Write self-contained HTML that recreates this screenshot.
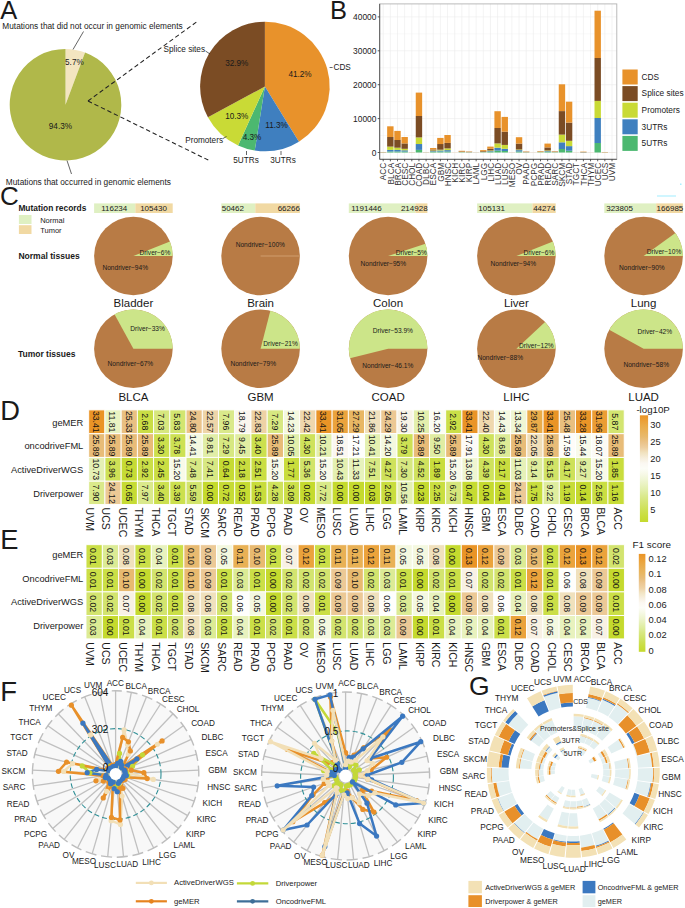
<!DOCTYPE html>
<html><head><meta charset="utf-8"><style>
html,body{margin:0;padding:0;background:#fff;width:685px;height:908px;overflow:hidden;}
svg{display:block;font-family:"Liberation Sans",sans-serif;}
</style></head><body>
<svg width="685" height="908" viewBox="0 0 685 908" font-family="Liberation Sans, sans-serif"><text x="0.2" y="18.8" font-size="25.5" text-anchor="start" dominant-baseline="auto" fill="#1a1a1a">A</text>
<path d="M65.5,104.7 L65.5,48.9 A55.8,55.8 0 0 1 85.06,52.44 Z" fill="#f3e5c0"/>
<path d="M65.5,104.7 L85.06,52.44 A55.8,55.8 0 1 1 65.5,48.9 Z" fill="#b0b84a"/>
<text x="74.4" y="62.8" font-size="8.2" text-anchor="middle" dominant-baseline="central" fill="#1a1a1a">5.7%</text>
<text x="60.4" y="126.5" font-size="8.2" text-anchor="middle" dominant-baseline="central" fill="#1a1a1a">94.3%</text>
<text x="2.3" y="29.4" font-size="8.3" text-anchor="start" dominant-baseline="auto" fill="#1a1a1a">Mutations that did not occur in genomic elements</text>
<text x="5.8" y="185" font-size="8.3" text-anchor="start" dominant-baseline="auto" fill="#1a1a1a">Mutations that occurred in genomic elements</text>
<line x1="83.5" y1="31.5" x2="73" y2="49.5" stroke="#222" stroke-width="0.7"/>
<line x1="67" y1="160.5" x2="71.5" y2="174" stroke="#222" stroke-width="0.7"/>
<line x1="88" y1="101" x2="196.5" y2="22" stroke="#222" stroke-width="1.05" stroke-dasharray="4.4,2.8"/>
<line x1="88" y1="101" x2="208.5" y2="160.2" stroke="#222" stroke-width="1.05" stroke-dasharray="4.4,2.8"/>
<path d="M264.9,86.5 L264.9,21.7 A64.8,64.8 0 0 1 298.93,141.64 Z" fill="#e8922b"/>
<path d="M264.9,86.5 L298.93,141.64 A64.8,64.8 0 0 1 254.76,150.5 Z" fill="#3f7fbf"/>
<path d="M264.9,86.5 L254.76,150.5 A64.8,64.8 0 0 1 238.05,145.47 Z" fill="#4cb870"/>
<path d="M264.9,86.5 L238.05,145.47 A64.8,64.8 0 0 1 207.92,117.36 Z" fill="#c9da36"/>
<path d="M264.9,86.5 L207.92,117.36 A64.8,64.8 0 0 1 264.9,21.7 Z" fill="#7b4c24"/>
<text x="300" y="74.2" font-size="8.2" text-anchor="middle" dominant-baseline="central" fill="#1a1a1a">41.2%</text>
<text x="236.8" y="63.2" font-size="8.2" text-anchor="middle" dominant-baseline="central" fill="#1a1a1a">32.9%</text>
<text x="236.8" y="116.2" font-size="8.2" text-anchor="middle" dominant-baseline="central" fill="#1a1a1a">10.3%</text>
<text x="276.6" y="125.2" font-size="8.2" text-anchor="middle" dominant-baseline="central" fill="#1a1a1a">11.3%</text>
<text x="252" y="137.2" font-size="8.2" text-anchor="middle" dominant-baseline="central" fill="#1a1a1a">4.3%</text>
<text x="333.5" y="67.5" font-size="8.2" text-anchor="start" dominant-baseline="central" fill="#1a1a1a">CDS</text>
<text x="205" y="49.5" font-size="8.2" text-anchor="end" dominant-baseline="central" fill="#1a1a1a">Splice sites</text>
<text x="223" y="140.5" font-size="8.2" text-anchor="end" dominant-baseline="central" fill="#1a1a1a">Promoters</text>
<text x="246" y="160" font-size="8.2" text-anchor="middle" dominant-baseline="central" fill="#1a1a1a">5UTRs</text>
<text x="283" y="160" font-size="8.2" text-anchor="middle" dominant-baseline="central" fill="#1a1a1a">3UTRs</text>
<line x1="329.6" y1="67.5" x2="332.6" y2="67.5" stroke="#222" stroke-width="0.7"/>
<line x1="205.5" y1="51" x2="210" y2="54" stroke="#222" stroke-width="0.7"/>
<line x1="223" y1="138.5" x2="226.5" y2="136.5" stroke="#222" stroke-width="0.7"/>
<line x1="246.5" y1="151" x2="246.5" y2="155" stroke="#222" stroke-width="0.7"/>
<line x1="281" y1="151" x2="281" y2="155" stroke="#222" stroke-width="0.7"/>
<text x="330" y="18.8" font-size="25.5" text-anchor="start" dominant-baseline="auto" fill="#1a1a1a">B</text>
<rect x="379.7" y="3.9" width="237.1" height="155.4" fill="#ffffff"/>
<line x1="379.7" y1="135.55" x2="616.8" y2="135.55" stroke="#f2f2f2" stroke-width="0.5"/>
<line x1="379.7" y1="101.65" x2="616.8" y2="101.65" stroke="#f2f2f2" stroke-width="0.5"/>
<line x1="379.7" y1="67.75" x2="616.8" y2="67.75" stroke="#f2f2f2" stroke-width="0.5"/>
<line x1="379.7" y1="33.85" x2="616.8" y2="33.85" stroke="#f2f2f2" stroke-width="0.5"/>
<line x1="383.2" y1="3.9" x2="383.2" y2="159.3" stroke="#ebebeb" stroke-width="0.6"/>
<line x1="390.35" y1="3.9" x2="390.35" y2="159.3" stroke="#ebebeb" stroke-width="0.6"/>
<line x1="397.5" y1="3.9" x2="397.5" y2="159.3" stroke="#ebebeb" stroke-width="0.6"/>
<line x1="404.65" y1="3.9" x2="404.65" y2="159.3" stroke="#ebebeb" stroke-width="0.6"/>
<line x1="411.8" y1="3.9" x2="411.8" y2="159.3" stroke="#ebebeb" stroke-width="0.6"/>
<line x1="418.95" y1="3.9" x2="418.95" y2="159.3" stroke="#ebebeb" stroke-width="0.6"/>
<line x1="426.1" y1="3.9" x2="426.1" y2="159.3" stroke="#ebebeb" stroke-width="0.6"/>
<line x1="433.25" y1="3.9" x2="433.25" y2="159.3" stroke="#ebebeb" stroke-width="0.6"/>
<line x1="440.4" y1="3.9" x2="440.4" y2="159.3" stroke="#ebebeb" stroke-width="0.6"/>
<line x1="447.55" y1="3.9" x2="447.55" y2="159.3" stroke="#ebebeb" stroke-width="0.6"/>
<line x1="454.7" y1="3.9" x2="454.7" y2="159.3" stroke="#ebebeb" stroke-width="0.6"/>
<line x1="461.85" y1="3.9" x2="461.85" y2="159.3" stroke="#ebebeb" stroke-width="0.6"/>
<line x1="469" y1="3.9" x2="469" y2="159.3" stroke="#ebebeb" stroke-width="0.6"/>
<line x1="476.15" y1="3.9" x2="476.15" y2="159.3" stroke="#ebebeb" stroke-width="0.6"/>
<line x1="483.3" y1="3.9" x2="483.3" y2="159.3" stroke="#ebebeb" stroke-width="0.6"/>
<line x1="490.45" y1="3.9" x2="490.45" y2="159.3" stroke="#ebebeb" stroke-width="0.6"/>
<line x1="497.6" y1="3.9" x2="497.6" y2="159.3" stroke="#ebebeb" stroke-width="0.6"/>
<line x1="504.75" y1="3.9" x2="504.75" y2="159.3" stroke="#ebebeb" stroke-width="0.6"/>
<line x1="511.9" y1="3.9" x2="511.9" y2="159.3" stroke="#ebebeb" stroke-width="0.6"/>
<line x1="519.05" y1="3.9" x2="519.05" y2="159.3" stroke="#ebebeb" stroke-width="0.6"/>
<line x1="526.2" y1="3.9" x2="526.2" y2="159.3" stroke="#ebebeb" stroke-width="0.6"/>
<line x1="533.35" y1="3.9" x2="533.35" y2="159.3" stroke="#ebebeb" stroke-width="0.6"/>
<line x1="540.5" y1="3.9" x2="540.5" y2="159.3" stroke="#ebebeb" stroke-width="0.6"/>
<line x1="547.65" y1="3.9" x2="547.65" y2="159.3" stroke="#ebebeb" stroke-width="0.6"/>
<line x1="554.8" y1="3.9" x2="554.8" y2="159.3" stroke="#ebebeb" stroke-width="0.6"/>
<line x1="561.95" y1="3.9" x2="561.95" y2="159.3" stroke="#ebebeb" stroke-width="0.6"/>
<line x1="569.1" y1="3.9" x2="569.1" y2="159.3" stroke="#ebebeb" stroke-width="0.6"/>
<line x1="576.25" y1="3.9" x2="576.25" y2="159.3" stroke="#ebebeb" stroke-width="0.6"/>
<line x1="583.4" y1="3.9" x2="583.4" y2="159.3" stroke="#ebebeb" stroke-width="0.6"/>
<line x1="590.55" y1="3.9" x2="590.55" y2="159.3" stroke="#ebebeb" stroke-width="0.6"/>
<line x1="597.7" y1="3.9" x2="597.7" y2="159.3" stroke="#ebebeb" stroke-width="0.6"/>
<line x1="604.85" y1="3.9" x2="604.85" y2="159.3" stroke="#ebebeb" stroke-width="0.6"/>
<line x1="612" y1="3.9" x2="612" y2="159.3" stroke="#ebebeb" stroke-width="0.6"/>
<line x1="379.7" y1="152.5" x2="616.8" y2="152.5" stroke="#ebebeb" stroke-width="0.6"/>
<line x1="379.7" y1="118.6" x2="616.8" y2="118.6" stroke="#ebebeb" stroke-width="0.6"/>
<line x1="379.7" y1="84.7" x2="616.8" y2="84.7" stroke="#ebebeb" stroke-width="0.6"/>
<line x1="379.7" y1="50.8" x2="616.8" y2="50.8" stroke="#ebebeb" stroke-width="0.6"/>
<line x1="379.7" y1="16.9" x2="616.8" y2="16.9" stroke="#ebebeb" stroke-width="0.6"/>
<rect x="380" y="152.43" width="6.4" height="0.07" fill="#4cb870"/>
<rect x="380" y="152.36" width="6.4" height="0.07" fill="#3f80bf"/>
<rect x="380" y="152.3" width="6.4" height="0.07" fill="#c9da36"/>
<rect x="380" y="152.16" width="6.4" height="0.14" fill="#7b4c24"/>
<rect x="380" y="151.99" width="6.4" height="0.17" fill="#e8922b"/>
<rect x="387.15" y="151.48" width="6.4" height="1.02" fill="#4cb870"/>
<rect x="387.15" y="149.89" width="6.4" height="1.59" fill="#3f80bf"/>
<rect x="387.15" y="146.6" width="6.4" height="3.29" fill="#c9da36"/>
<rect x="387.15" y="137.01" width="6.4" height="9.59" fill="#7b4c24"/>
<rect x="387.15" y="126.3" width="6.4" height="10.71" fill="#e8922b"/>
<rect x="394.3" y="151.48" width="6.4" height="1.02" fill="#4cb870"/>
<rect x="394.3" y="149.89" width="6.4" height="1.59" fill="#3f80bf"/>
<rect x="394.3" y="147.69" width="6.4" height="2.2" fill="#c9da36"/>
<rect x="394.3" y="139.99" width="6.4" height="7.7" fill="#7b4c24"/>
<rect x="394.3" y="130.91" width="6.4" height="9.09" fill="#e8922b"/>
<rect x="401.45" y="151.48" width="6.4" height="1.02" fill="#4cb870"/>
<rect x="401.45" y="150.3" width="6.4" height="1.19" fill="#3f80bf"/>
<rect x="401.45" y="148.8" width="6.4" height="1.49" fill="#c9da36"/>
<rect x="401.45" y="143.41" width="6.4" height="5.39" fill="#7b4c24"/>
<rect x="401.45" y="137.01" width="6.4" height="6.41" fill="#e8922b"/>
<rect x="408.6" y="152.47" width="6.4" height="0.03" fill="#4cb870"/>
<rect x="408.6" y="152.43" width="6.4" height="0.03" fill="#3f80bf"/>
<rect x="408.6" y="152.4" width="6.4" height="0.03" fill="#c9da36"/>
<rect x="408.6" y="152.33" width="6.4" height="0.07" fill="#7b4c24"/>
<rect x="408.6" y="152.23" width="6.4" height="0.1" fill="#e8922b"/>
<rect x="415.75" y="149.89" width="6.4" height="2.61" fill="#4cb870"/>
<rect x="415.75" y="144.03" width="6.4" height="5.86" fill="#3f80bf"/>
<rect x="415.75" y="137.41" width="6.4" height="6.61" fill="#c9da36"/>
<rect x="415.75" y="115.99" width="6.4" height="21.42" fill="#7b4c24"/>
<rect x="415.75" y="92.6" width="6.4" height="23.39" fill="#e8922b"/>
<rect x="422.9" y="152.47" width="6.4" height="0.03" fill="#4cb870"/>
<rect x="422.9" y="152.43" width="6.4" height="0.03" fill="#3f80bf"/>
<rect x="422.9" y="152.4" width="6.4" height="0.03" fill="#c9da36"/>
<rect x="422.9" y="152.33" width="6.4" height="0.07" fill="#7b4c24"/>
<rect x="422.9" y="152.23" width="6.4" height="0.1" fill="#e8922b"/>
<rect x="430.05" y="151.82" width="6.4" height="0.68" fill="#4cb870"/>
<rect x="430.05" y="151.14" width="6.4" height="0.68" fill="#3f80bf"/>
<rect x="430.05" y="150.47" width="6.4" height="0.68" fill="#c9da36"/>
<rect x="430.05" y="149.52" width="6.4" height="0.95" fill="#7b4c24"/>
<rect x="430.05" y="147.99" width="6.4" height="1.53" fill="#e8922b"/>
<rect x="437.2" y="151.48" width="6.4" height="1.02" fill="#4cb870"/>
<rect x="437.2" y="150.47" width="6.4" height="1.02" fill="#3f80bf"/>
<rect x="437.2" y="149.69" width="6.4" height="0.78" fill="#c9da36"/>
<rect x="437.2" y="144.03" width="6.4" height="5.66" fill="#7b4c24"/>
<rect x="437.2" y="137.92" width="6.4" height="6.1" fill="#e8922b"/>
<rect x="444.35" y="151.48" width="6.4" height="1.02" fill="#4cb870"/>
<rect x="444.35" y="150.13" width="6.4" height="1.36" fill="#3f80bf"/>
<rect x="444.35" y="148.4" width="6.4" height="1.73" fill="#c9da36"/>
<rect x="444.35" y="142.91" width="6.4" height="5.49" fill="#7b4c24"/>
<rect x="444.35" y="135.01" width="6.4" height="7.9" fill="#e8922b"/>
<rect x="451.5" y="152.4" width="6.4" height="0.1" fill="#e8922b"/>
<rect x="458.65" y="152.33" width="6.4" height="0.17" fill="#4cb870"/>
<rect x="458.65" y="152.16" width="6.4" height="0.17" fill="#3f80bf"/>
<rect x="458.65" y="151.99" width="6.4" height="0.17" fill="#c9da36"/>
<rect x="458.65" y="151.48" width="6.4" height="0.51" fill="#7b4c24"/>
<rect x="458.65" y="150.81" width="6.4" height="0.68" fill="#e8922b"/>
<rect x="465.8" y="152.4" width="6.4" height="0.1" fill="#4cb870"/>
<rect x="465.8" y="152.3" width="6.4" height="0.1" fill="#3f80bf"/>
<rect x="465.8" y="152.16" width="6.4" height="0.14" fill="#c9da36"/>
<rect x="465.8" y="151.82" width="6.4" height="0.34" fill="#7b4c24"/>
<rect x="465.8" y="151.48" width="6.4" height="0.34" fill="#e8922b"/>
<rect x="472.95" y="152.48" width="6.4" height="0.02" fill="#4cb870"/>
<rect x="472.95" y="152.47" width="6.4" height="0.02" fill="#3f80bf"/>
<rect x="472.95" y="152.45" width="6.4" height="0.02" fill="#c9da36"/>
<rect x="472.95" y="152.4" width="6.4" height="0.05" fill="#7b4c24"/>
<rect x="472.95" y="152.33" width="6.4" height="0.07" fill="#e8922b"/>
<rect x="480.1" y="152.33" width="6.4" height="0.17" fill="#4cb870"/>
<rect x="480.1" y="152.16" width="6.4" height="0.17" fill="#3f80bf"/>
<rect x="480.1" y="151.82" width="6.4" height="0.34" fill="#c9da36"/>
<rect x="480.1" y="151.14" width="6.4" height="0.68" fill="#7b4c24"/>
<rect x="480.1" y="150.13" width="6.4" height="1.02" fill="#e8922b"/>
<rect x="487.25" y="151.82" width="6.4" height="0.68" fill="#4cb870"/>
<rect x="487.25" y="151.14" width="6.4" height="0.68" fill="#3f80bf"/>
<rect x="487.25" y="150.47" width="6.4" height="0.68" fill="#c9da36"/>
<rect x="487.25" y="148.8" width="6.4" height="1.66" fill="#7b4c24"/>
<rect x="487.25" y="146.6" width="6.4" height="2.2" fill="#e8922b"/>
<rect x="494.4" y="150.6" width="6.4" height="1.9" fill="#4cb870"/>
<rect x="494.4" y="147.69" width="6.4" height="2.92" fill="#3f80bf"/>
<rect x="494.4" y="143.41" width="6.4" height="4.27" fill="#c9da36"/>
<rect x="494.4" y="127.99" width="6.4" height="15.42" fill="#7b4c24"/>
<rect x="494.4" y="111.21" width="6.4" height="16.78" fill="#e8922b"/>
<rect x="501.55" y="151.01" width="6.4" height="1.49" fill="#4cb870"/>
<rect x="501.55" y="148.8" width="6.4" height="2.2" fill="#3f80bf"/>
<rect x="501.55" y="144.91" width="6.4" height="3.9" fill="#c9da36"/>
<rect x="501.55" y="131.69" width="6.4" height="13.22" fill="#7b4c24"/>
<rect x="501.55" y="116.91" width="6.4" height="14.78" fill="#e8922b"/>
<rect x="508.7" y="152.43" width="6.4" height="0.07" fill="#7b4c24"/>
<rect x="508.7" y="152.36" width="6.4" height="0.07" fill="#e8922b"/>
<rect x="515.85" y="151.48" width="6.4" height="1.02" fill="#4cb870"/>
<rect x="515.85" y="150.13" width="6.4" height="1.36" fill="#3f80bf"/>
<rect x="515.85" y="149.48" width="6.4" height="0.64" fill="#c9da36"/>
<rect x="515.85" y="143.58" width="6.4" height="5.9" fill="#7b4c24"/>
<rect x="515.85" y="137.21" width="6.4" height="6.37" fill="#e8922b"/>
<rect x="523" y="152.4" width="6.4" height="0.1" fill="#4cb870"/>
<rect x="523" y="152.3" width="6.4" height="0.1" fill="#3f80bf"/>
<rect x="523" y="152.16" width="6.4" height="0.14" fill="#c9da36"/>
<rect x="523" y="151.82" width="6.4" height="0.34" fill="#7b4c24"/>
<rect x="523" y="151.48" width="6.4" height="0.34" fill="#e8922b"/>
<rect x="530.15" y="152.47" width="6.4" height="0.03" fill="#7b4c24"/>
<rect x="530.15" y="152.4" width="6.4" height="0.07" fill="#e8922b"/>
<rect x="537.3" y="152.36" width="6.4" height="0.14" fill="#4cb870"/>
<rect x="537.3" y="152.23" width="6.4" height="0.14" fill="#3f80bf"/>
<rect x="537.3" y="151.99" width="6.4" height="0.24" fill="#c9da36"/>
<rect x="537.3" y="151.65" width="6.4" height="0.34" fill="#7b4c24"/>
<rect x="537.3" y="151.14" width="6.4" height="0.51" fill="#e8922b"/>
<rect x="544.45" y="151.82" width="6.4" height="0.68" fill="#4cb870"/>
<rect x="544.45" y="151.14" width="6.4" height="0.68" fill="#3f80bf"/>
<rect x="544.45" y="150.47" width="6.4" height="0.68" fill="#c9da36"/>
<rect x="544.45" y="147.41" width="6.4" height="3.05" fill="#7b4c24"/>
<rect x="544.45" y="143.58" width="6.4" height="3.83" fill="#e8922b"/>
<rect x="551.6" y="152.36" width="6.4" height="0.14" fill="#4cb870"/>
<rect x="551.6" y="152.23" width="6.4" height="0.14" fill="#3f80bf"/>
<rect x="551.6" y="152.06" width="6.4" height="0.17" fill="#c9da36"/>
<rect x="551.6" y="151.65" width="6.4" height="0.41" fill="#7b4c24"/>
<rect x="551.6" y="151.31" width="6.4" height="0.34" fill="#e8922b"/>
<rect x="558.75" y="149.01" width="6.4" height="3.49" fill="#4cb870"/>
<rect x="558.75" y="142.33" width="6.4" height="6.68" fill="#3f80bf"/>
<rect x="558.75" y="134.6" width="6.4" height="7.73" fill="#c9da36"/>
<rect x="558.75" y="111.1" width="6.4" height="23.5" fill="#7b4c24"/>
<rect x="558.75" y="84.3" width="6.4" height="26.8" fill="#e8922b"/>
<rect x="565.9" y="150.7" width="6.4" height="1.8" fill="#4cb870"/>
<rect x="565.9" y="146.13" width="6.4" height="4.58" fill="#3f80bf"/>
<rect x="565.9" y="140.8" width="6.4" height="5.32" fill="#c9da36"/>
<rect x="565.9" y="122.61" width="6.4" height="18.19" fill="#7b4c24"/>
<rect x="565.9" y="101.68" width="6.4" height="20.93" fill="#e8922b"/>
<rect x="573.05" y="152.47" width="6.4" height="0.03" fill="#7b4c24"/>
<rect x="573.05" y="152.4" width="6.4" height="0.07" fill="#e8922b"/>
<rect x="580.2" y="152.43" width="6.4" height="0.07" fill="#4cb870"/>
<rect x="580.2" y="152.36" width="6.4" height="0.07" fill="#3f80bf"/>
<rect x="580.2" y="152.3" width="6.4" height="0.07" fill="#c9da36"/>
<rect x="580.2" y="151.99" width="6.4" height="0.31" fill="#7b4c24"/>
<rect x="580.2" y="151.65" width="6.4" height="0.34" fill="#e8922b"/>
<rect x="587.35" y="152.47" width="6.4" height="0.03" fill="#7b4c24"/>
<rect x="587.35" y="152.4" width="6.4" height="0.07" fill="#e8922b"/>
<rect x="594.5" y="143.01" width="6.4" height="9.49" fill="#4cb870"/>
<rect x="594.5" y="118" width="6.4" height="25.01" fill="#3f80bf"/>
<rect x="594.5" y="100.9" width="6.4" height="17.1" fill="#c9da36"/>
<rect x="594.5" y="58" width="6.4" height="42.9" fill="#7b4c24"/>
<rect x="594.5" y="10.7" width="6.4" height="47.3" fill="#e8922b"/>
<rect x="601.65" y="152.47" width="6.4" height="0.03" fill="#4cb870"/>
<rect x="601.65" y="152.43" width="6.4" height="0.03" fill="#3f80bf"/>
<rect x="601.65" y="152.36" width="6.4" height="0.07" fill="#c9da36"/>
<rect x="601.65" y="152.23" width="6.4" height="0.14" fill="#7b4c24"/>
<rect x="601.65" y="151.99" width="6.4" height="0.24" fill="#e8922b"/>
<rect x="608.8" y="152.47" width="6.4" height="0.03" fill="#7b4c24"/>
<rect x="608.8" y="152.43" width="6.4" height="0.03" fill="#e8922b"/>
<rect x="379.7" y="3.9" width="237.1" height="155.4" fill="none" stroke="#b3b3b3" stroke-width="0.9"/>
<line x1="379.7" y1="3.9" x2="379.7" y2="159.3" stroke="#4d4d4d" stroke-width="0.9"/>
<line x1="379.7" y1="159.3" x2="616.8" y2="159.3" stroke="#4d4d4d" stroke-width="0.9"/>
<line x1="377.7" y1="152.5" x2="379.7" y2="152.5" stroke="#333" stroke-width="0.8"/>
<text x="376.4" y="152.8" font-size="8.4" text-anchor="end" dominant-baseline="central" fill="#222">0</text>
<line x1="377.7" y1="118.6" x2="379.7" y2="118.6" stroke="#333" stroke-width="0.8"/>
<text x="376.4" y="118.9" font-size="8.4" text-anchor="end" dominant-baseline="central" fill="#222">10000</text>
<line x1="377.7" y1="84.7" x2="379.7" y2="84.7" stroke="#333" stroke-width="0.8"/>
<text x="376.4" y="85" font-size="8.4" text-anchor="end" dominant-baseline="central" fill="#222">20000</text>
<line x1="377.7" y1="50.8" x2="379.7" y2="50.8" stroke="#333" stroke-width="0.8"/>
<text x="376.4" y="51.1" font-size="8.4" text-anchor="end" dominant-baseline="central" fill="#222">30000</text>
<line x1="377.7" y1="16.9" x2="379.7" y2="16.9" stroke="#333" stroke-width="0.8"/>
<text x="376.4" y="17.2" font-size="8.4" text-anchor="end" dominant-baseline="central" fill="#222">40000</text>
<line x1="383.2" y1="159.3" x2="383.2" y2="161.3" stroke="#333" stroke-width="0.8"/>
<text transform="translate(383.4,162.8) rotate(-90)" font-size="8.3" text-anchor="end" dominant-baseline="central" fill="#333">ACC</text>
<line x1="390.35" y1="159.3" x2="390.35" y2="161.3" stroke="#333" stroke-width="0.8"/>
<text transform="translate(390.55,162.8) rotate(-90)" font-size="8.3" text-anchor="end" dominant-baseline="central" fill="#333">BLCA</text>
<line x1="397.5" y1="159.3" x2="397.5" y2="161.3" stroke="#333" stroke-width="0.8"/>
<text transform="translate(397.7,162.8) rotate(-90)" font-size="8.3" text-anchor="end" dominant-baseline="central" fill="#333">BRCA</text>
<line x1="404.65" y1="159.3" x2="404.65" y2="161.3" stroke="#333" stroke-width="0.8"/>
<text transform="translate(404.85,162.8) rotate(-90)" font-size="8.3" text-anchor="end" dominant-baseline="central" fill="#333">CESC</text>
<line x1="411.8" y1="159.3" x2="411.8" y2="161.3" stroke="#333" stroke-width="0.8"/>
<text transform="translate(412,162.8) rotate(-90)" font-size="8.3" text-anchor="end" dominant-baseline="central" fill="#333">CHOL</text>
<line x1="418.95" y1="159.3" x2="418.95" y2="161.3" stroke="#333" stroke-width="0.8"/>
<text transform="translate(419.15,162.8) rotate(-90)" font-size="8.3" text-anchor="end" dominant-baseline="central" fill="#333">COAD</text>
<line x1="426.1" y1="159.3" x2="426.1" y2="161.3" stroke="#333" stroke-width="0.8"/>
<text transform="translate(426.3,162.8) rotate(-90)" font-size="8.3" text-anchor="end" dominant-baseline="central" fill="#333">DLBC</text>
<line x1="433.25" y1="159.3" x2="433.25" y2="161.3" stroke="#333" stroke-width="0.8"/>
<text transform="translate(433.45,162.8) rotate(-90)" font-size="8.3" text-anchor="end" dominant-baseline="central" fill="#333">ESCA</text>
<line x1="440.4" y1="159.3" x2="440.4" y2="161.3" stroke="#333" stroke-width="0.8"/>
<text transform="translate(440.6,162.8) rotate(-90)" font-size="8.3" text-anchor="end" dominant-baseline="central" fill="#333">GBM</text>
<line x1="447.55" y1="159.3" x2="447.55" y2="161.3" stroke="#333" stroke-width="0.8"/>
<text transform="translate(447.75,162.8) rotate(-90)" font-size="8.3" text-anchor="end" dominant-baseline="central" fill="#333">HNSC</text>
<line x1="454.7" y1="159.3" x2="454.7" y2="161.3" stroke="#333" stroke-width="0.8"/>
<text transform="translate(454.9,162.8) rotate(-90)" font-size="8.3" text-anchor="end" dominant-baseline="central" fill="#333">KICH</text>
<line x1="461.85" y1="159.3" x2="461.85" y2="161.3" stroke="#333" stroke-width="0.8"/>
<text transform="translate(462.05,162.8) rotate(-90)" font-size="8.3" text-anchor="end" dominant-baseline="central" fill="#333">KIRC</text>
<line x1="469" y1="159.3" x2="469" y2="161.3" stroke="#333" stroke-width="0.8"/>
<text transform="translate(469.2,162.8) rotate(-90)" font-size="8.3" text-anchor="end" dominant-baseline="central" fill="#333">KIRP</text>
<line x1="476.15" y1="159.3" x2="476.15" y2="161.3" stroke="#333" stroke-width="0.8"/>
<text transform="translate(476.35,162.8) rotate(-90)" font-size="8.3" text-anchor="end" dominant-baseline="central" fill="#333">LAML</text>
<line x1="483.3" y1="159.3" x2="483.3" y2="161.3" stroke="#333" stroke-width="0.8"/>
<text transform="translate(483.5,162.8) rotate(-90)" font-size="8.3" text-anchor="end" dominant-baseline="central" fill="#333">LGG</text>
<line x1="490.45" y1="159.3" x2="490.45" y2="161.3" stroke="#333" stroke-width="0.8"/>
<text transform="translate(490.65,162.8) rotate(-90)" font-size="8.3" text-anchor="end" dominant-baseline="central" fill="#333">LIHC</text>
<line x1="497.6" y1="159.3" x2="497.6" y2="161.3" stroke="#333" stroke-width="0.8"/>
<text transform="translate(497.8,162.8) rotate(-90)" font-size="8.3" text-anchor="end" dominant-baseline="central" fill="#333">LUAD</text>
<line x1="504.75" y1="159.3" x2="504.75" y2="161.3" stroke="#333" stroke-width="0.8"/>
<text transform="translate(504.95,162.8) rotate(-90)" font-size="8.3" text-anchor="end" dominant-baseline="central" fill="#333">LUSC</text>
<line x1="511.9" y1="159.3" x2="511.9" y2="161.3" stroke="#333" stroke-width="0.8"/>
<text transform="translate(512.1,162.8) rotate(-90)" font-size="8.3" text-anchor="end" dominant-baseline="central" fill="#333">MESO</text>
<line x1="519.05" y1="159.3" x2="519.05" y2="161.3" stroke="#333" stroke-width="0.8"/>
<text transform="translate(519.25,162.8) rotate(-90)" font-size="8.3" text-anchor="end" dominant-baseline="central" fill="#333">OV</text>
<line x1="526.2" y1="159.3" x2="526.2" y2="161.3" stroke="#333" stroke-width="0.8"/>
<text transform="translate(526.4,162.8) rotate(-90)" font-size="8.3" text-anchor="end" dominant-baseline="central" fill="#333">PAAD</text>
<line x1="533.35" y1="159.3" x2="533.35" y2="161.3" stroke="#333" stroke-width="0.8"/>
<text transform="translate(533.55,162.8) rotate(-90)" font-size="8.3" text-anchor="end" dominant-baseline="central" fill="#333">PCPG</text>
<line x1="540.5" y1="159.3" x2="540.5" y2="161.3" stroke="#333" stroke-width="0.8"/>
<text transform="translate(540.7,162.8) rotate(-90)" font-size="8.3" text-anchor="end" dominant-baseline="central" fill="#333">PRAD</text>
<line x1="547.65" y1="159.3" x2="547.65" y2="161.3" stroke="#333" stroke-width="0.8"/>
<text transform="translate(547.85,162.8) rotate(-90)" font-size="8.3" text-anchor="end" dominant-baseline="central" fill="#333">READ</text>
<line x1="554.8" y1="159.3" x2="554.8" y2="161.3" stroke="#333" stroke-width="0.8"/>
<text transform="translate(555,162.8) rotate(-90)" font-size="8.3" text-anchor="end" dominant-baseline="central" fill="#333">SARC</text>
<line x1="561.95" y1="159.3" x2="561.95" y2="161.3" stroke="#333" stroke-width="0.8"/>
<text transform="translate(562.15,162.8) rotate(-90)" font-size="8.3" text-anchor="end" dominant-baseline="central" fill="#333">SKCM</text>
<line x1="569.1" y1="159.3" x2="569.1" y2="161.3" stroke="#333" stroke-width="0.8"/>
<text transform="translate(569.3,162.8) rotate(-90)" font-size="8.3" text-anchor="end" dominant-baseline="central" fill="#333">STAD</text>
<line x1="576.25" y1="159.3" x2="576.25" y2="161.3" stroke="#333" stroke-width="0.8"/>
<text transform="translate(576.45,162.8) rotate(-90)" font-size="8.3" text-anchor="end" dominant-baseline="central" fill="#333">TGCT</text>
<line x1="583.4" y1="159.3" x2="583.4" y2="161.3" stroke="#333" stroke-width="0.8"/>
<text transform="translate(583.6,162.8) rotate(-90)" font-size="8.3" text-anchor="end" dominant-baseline="central" fill="#333">THCA</text>
<line x1="590.55" y1="159.3" x2="590.55" y2="161.3" stroke="#333" stroke-width="0.8"/>
<text transform="translate(590.75,162.8) rotate(-90)" font-size="8.3" text-anchor="end" dominant-baseline="central" fill="#333">THYM</text>
<line x1="597.7" y1="159.3" x2="597.7" y2="161.3" stroke="#333" stroke-width="0.8"/>
<text transform="translate(597.9,162.8) rotate(-90)" font-size="8.3" text-anchor="end" dominant-baseline="central" fill="#333">UCEC</text>
<line x1="604.85" y1="159.3" x2="604.85" y2="161.3" stroke="#333" stroke-width="0.8"/>
<text transform="translate(605.05,162.8) rotate(-90)" font-size="8.3" text-anchor="end" dominant-baseline="central" fill="#333">UCS</text>
<line x1="612" y1="159.3" x2="612" y2="161.3" stroke="#333" stroke-width="0.8"/>
<text transform="translate(612.2,162.8) rotate(-90)" font-size="8.3" text-anchor="end" dominant-baseline="central" fill="#333">UVM</text>
<rect x="622.4" y="69.5" width="15.3" height="15" fill="#e8922b"/>
<text x="641.6" y="76.7" font-size="8.3" text-anchor="start" dominant-baseline="central" fill="#1a1a1a">CDS</text>
<rect x="622.4" y="86.1" width="15.3" height="15" fill="#7b4c24"/>
<text x="641.6" y="93.3" font-size="8.3" text-anchor="start" dominant-baseline="central" fill="#1a1a1a">Splice sites</text>
<rect x="622.4" y="102.7" width="15.3" height="15" fill="#c9da36"/>
<text x="641.6" y="109.9" font-size="8.3" text-anchor="start" dominant-baseline="central" fill="#1a1a1a">Promoters</text>
<rect x="622.4" y="119.3" width="15.3" height="15" fill="#3f80bf"/>
<text x="641.6" y="126.5" font-size="8.3" text-anchor="start" dominant-baseline="central" fill="#1a1a1a">3UTRs</text>
<rect x="622.4" y="135.9" width="15.3" height="15" fill="#4cb870"/>
<text x="641.6" y="143.1" font-size="8.3" text-anchor="start" dominant-baseline="central" fill="#1a1a1a">5UTRs</text>
<text x="0" y="204.9" font-size="26" text-anchor="start" dominant-baseline="auto" fill="#1a1a1a">C</text>
<text x="18.4" y="207.8" font-size="8.4" text-anchor="start" dominant-baseline="central" fill="#1a1a1a" font-weight="bold">Mutation records</text>
<rect x="18.9" y="215" width="12.6" height="9" fill="#dff0c2"/>
<rect x="18.9" y="225.2" width="12.6" height="8.8" fill="#f1d9a3"/>
<text x="40.2" y="220" font-size="7.5" text-anchor="start" dominant-baseline="central" fill="#1a1a1a">Normal</text>
<text x="40.2" y="230" font-size="7.5" text-anchor="start" dominant-baseline="central" fill="#1a1a1a">Tumor</text>
<text x="18.4" y="256.3" font-size="8.55" text-anchor="start" dominant-baseline="central" fill="#1a1a1a" font-weight="bold">Normal tissues</text>
<text x="17.9" y="353.7" font-size="8.5" text-anchor="start" dominant-baseline="central" fill="#1a1a1a" font-weight="bold">Tumor tissues</text>
<rect x="94.1" y="203.4" width="41.22" height="9.6" fill="#dff0c2"/>
<rect x="135.32" y="203.4" width="37.38" height="9.6" fill="#f1d9a3"/>
<text x="114.2" y="208.4" font-size="8" text-anchor="middle" dominant-baseline="central" fill="#1a1a1a">116234</text>
<text x="153.5" y="208.4" font-size="8" text-anchor="middle" dominant-baseline="central" fill="#1a1a1a">105430</text>
<circle cx="133.4" cy="256" r="39.3" fill="#b87b45"/>
<path d="M133.4,256 L169.94,241.53 A39.3,39.3 0 0 1 172.7,256 Z" fill="#cce589"/>
<circle cx="133.4" cy="348.8" r="39.3" fill="#b87b45"/>
<path d="M133.4,348.8 L114.47,314.36 A39.3,39.3 0 0 1 172.7,348.8 Z" fill="#cce589"/>
<text x="133.4" y="302.8" font-size="11.5" text-anchor="middle" dominant-baseline="central" fill="#1a1a1a">Bladder</text>
<text x="133.4" y="397.3" font-size="11.5" text-anchor="middle" dominant-baseline="central" fill="#1a1a1a">BLCA</text>
<rect x="221.3" y="203.4" width="33.98" height="9.6" fill="#dff0c2"/>
<rect x="255.28" y="203.4" width="44.62" height="9.6" fill="#f1d9a3"/>
<text x="221.7" y="208.4" font-size="8" text-anchor="start" dominant-baseline="central" fill="#1a1a1a">50462</text>
<text x="299.9" y="208.4" font-size="8" text-anchor="end" dominant-baseline="central" fill="#1a1a1a">66266</text>
<circle cx="260.6" cy="256" r="39.3" fill="#b87b45"/>
<circle cx="260.6" cy="348.8" r="39.3" fill="#b87b45"/>
<path d="M260.6,348.8 L270.37,310.73 A39.3,39.3 0 0 1 299.9,348.8 Z" fill="#cce589"/>
<text x="260.6" y="302.8" font-size="11.5" text-anchor="middle" dominant-baseline="central" fill="#1a1a1a">Brain</text>
<text x="260.6" y="397.3" font-size="11.5" text-anchor="middle" dominant-baseline="central" fill="#1a1a1a">GBM</text>
<rect x="348.8" y="203.4" width="66.59" height="9.6" fill="#dff0c2"/>
<rect x="415.39" y="203.4" width="12.01" height="9.6" fill="#f1d9a3"/>
<text x="351.2" y="208.4" font-size="8" text-anchor="start" dominant-baseline="central" fill="#1a1a1a">1191446</text>
<text x="427.6" y="208.4" font-size="8" text-anchor="end" dominant-baseline="central" fill="#1a1a1a">214928</text>
<circle cx="388.1" cy="256" r="39.3" fill="#b87b45"/>
<path d="M388.1,256 L425.48,243.86 A39.3,39.3 0 0 1 427.4,256 Z" fill="#cce589"/>
<circle cx="388.1" cy="348.8" r="39.3" fill="#b87b45"/>
<path d="M388.1,348.8 L349.97,358.33 A39.3,39.3 0 1 1 427.4,348.8 Z" fill="#cce589"/>
<text x="388.1" y="302.8" font-size="11.5" text-anchor="middle" dominant-baseline="central" fill="#1a1a1a">Colon</text>
<text x="388.1" y="397.3" font-size="11.5" text-anchor="middle" dominant-baseline="central" fill="#1a1a1a">COAD</text>
<rect x="477.1" y="203.4" width="55.31" height="9.6" fill="#dff0c2"/>
<rect x="532.41" y="203.4" width="23.29" height="9.6" fill="#f1d9a3"/>
<text x="478.3" y="208.4" font-size="8" text-anchor="start" dominant-baseline="central" fill="#1a1a1a">105131</text>
<text x="555.4" y="208.4" font-size="8" text-anchor="end" dominant-baseline="central" fill="#1a1a1a">44274</text>
<circle cx="516.4" cy="256" r="39.3" fill="#b87b45"/>
<path d="M516.4,256 L552.94,241.53 A39.3,39.3 0 0 1 555.7,256 Z" fill="#cce589"/>
<circle cx="516.4" cy="348.8" r="39.3" fill="#b87b45"/>
<path d="M516.4,348.8 L545.05,321.9 A39.3,39.3 0 0 1 555.7,348.8 Z" fill="#cce589"/>
<text x="516.4" y="302.8" font-size="11.5" text-anchor="middle" dominant-baseline="central" fill="#1a1a1a">Liver</text>
<text x="516.4" y="397.3" font-size="11.5" text-anchor="middle" dominant-baseline="central" fill="#1a1a1a">LIHC</text>
<rect x="604.3" y="203.4" width="51.86" height="9.6" fill="#dff0c2"/>
<rect x="656.16" y="203.4" width="26.74" height="9.6" fill="#f1d9a3"/>
<text x="606.2" y="208.4" font-size="8" text-anchor="start" dominant-baseline="central" fill="#1a1a1a">323805</text>
<text x="683.3" y="208.4" font-size="8" text-anchor="end" dominant-baseline="central" fill="#1a1a1a">166985</text>
<circle cx="643.6" cy="256" r="39.3" fill="#b87b45"/>
<path d="M643.6,256 L675.39,232.9 A39.3,39.3 0 0 1 682.9,256 Z" fill="#cce589"/>
<circle cx="643.6" cy="348.8" r="39.3" fill="#b87b45"/>
<path d="M643.6,348.8 L609.16,329.87 A39.3,39.3 0 0 1 682.9,348.8 Z" fill="#cce589"/>
<text x="643.6" y="302.8" font-size="11.5" text-anchor="middle" dominant-baseline="central" fill="#1a1a1a">Lung</text>
<text x="643.6" y="397.3" font-size="11.5" text-anchor="middle" dominant-baseline="central" fill="#1a1a1a">LUAD</text>
<line x1="260.6" y1="256" x2="299.9" y2="256" stroke="#d7a77a" stroke-width="0.8"/>
<text x="154.9" y="252.3" font-size="6.6" text-anchor="middle" dominant-baseline="central" fill="#1a1a1a">Driver−6%</text>
<text x="125.2" y="267.5" font-size="6.6" text-anchor="middle" dominant-baseline="central" fill="#1a1a1a">Nondriver−94%</text>
<text x="260.3" y="244" font-size="6.6" text-anchor="middle" dominant-baseline="central" fill="#1a1a1a">Nondriver−100%</text>
<text x="411.3" y="252.8" font-size="6.6" text-anchor="middle" dominant-baseline="central" fill="#1a1a1a">Driver−5%</text>
<text x="383.3" y="263.3" font-size="6.6" text-anchor="middle" dominant-baseline="central" fill="#1a1a1a">Nondriver−95%</text>
<text x="538.9" y="252.8" font-size="6.6" text-anchor="middle" dominant-baseline="central" fill="#1a1a1a">Driver−6%</text>
<text x="513.3" y="263.3" font-size="6.6" text-anchor="middle" dominant-baseline="central" fill="#1a1a1a">Nondriver−94%</text>
<text x="664" y="251.8" font-size="6.6" text-anchor="middle" dominant-baseline="central" fill="#1a1a1a">Driver−10%</text>
<text x="641.9" y="267.9" font-size="6.6" text-anchor="middle" dominant-baseline="central" fill="#1a1a1a">Nondriver−90%</text>
<text x="147.6" y="328.7" font-size="6.6" text-anchor="middle" dominant-baseline="central" fill="#1a1a1a">Driver−33%</text>
<text x="130.4" y="363" font-size="6.6" text-anchor="middle" dominant-baseline="central" fill="#1a1a1a">Nondriver−67%</text>
<text x="280.6" y="343.8" font-size="6.6" text-anchor="middle" dominant-baseline="central" fill="#1a1a1a">Driver−21%</text>
<text x="253.2" y="363.3" font-size="6.6" text-anchor="middle" dominant-baseline="central" fill="#1a1a1a">Nondriver−79%</text>
<text x="392.9" y="330.4" font-size="6.6" text-anchor="middle" dominant-baseline="central" fill="#1a1a1a">Driver−53.9%</text>
<text x="387.8" y="365.6" font-size="6.6" text-anchor="middle" dominant-baseline="central" fill="#1a1a1a">Nondriver−46.1%</text>
<text x="536.4" y="345.5" font-size="6.6" text-anchor="middle" dominant-baseline="central" fill="#1a1a1a">Driver−12%</text>
<text x="500.2" y="357" font-size="6.6" text-anchor="middle" dominant-baseline="central" fill="#1a1a1a">Nondriver−88%</text>
<text x="654.8" y="331.9" font-size="6.6" text-anchor="middle" dominant-baseline="central" fill="#1a1a1a">Driver−42%</text>
<text x="646.2" y="364.6" font-size="6.6" text-anchor="middle" dominant-baseline="central" fill="#1a1a1a">Nondriver−58%</text>
<text x="0.3" y="420.2" font-size="27.3" text-anchor="start" dominant-baseline="auto" fill="#1a1a1a">D</text>
<rect x="88.7" y="409.9" width="16.23" height="23.8" fill="#ea9426" stroke="#ffffff" stroke-width="0.9"/>
<rect x="104.93" y="409.9" width="16.23" height="23.8" fill="#e9f3c2" stroke="#ffffff" stroke-width="0.9"/>
<rect x="121.15" y="409.9" width="16.23" height="23.8" fill="#e9c082" stroke="#ffffff" stroke-width="0.9"/>
<rect x="137.38" y="409.9" width="16.23" height="23.8" fill="#cade45" stroke="#ffffff" stroke-width="0.9"/>
<rect x="153.61" y="409.9" width="16.23" height="23.8" fill="#d7e77e" stroke="#ffffff" stroke-width="0.9"/>
<rect x="169.84" y="409.9" width="16.23" height="23.8" fill="#d3e570" stroke="#ffffff" stroke-width="0.9"/>
<rect x="186.06" y="409.9" width="16.23" height="23.8" fill="#ebc48b" stroke="#ffffff" stroke-width="0.9"/>
<rect x="202.29" y="409.9" width="16.23" height="23.8" fill="#eed5a9" stroke="#ffffff" stroke-width="0.9"/>
<rect x="218.52" y="409.9" width="16.23" height="23.8" fill="#dae98b" stroke="#ffffff" stroke-width="0.9"/>
<rect x="234.75" y="409.9" width="16.23" height="23.8" fill="#faf6ee" stroke="#ffffff" stroke-width="0.9"/>
<rect x="250.97" y="409.9" width="16.23" height="23.8" fill="#eed2a5" stroke="#ffffff" stroke-width="0.9"/>
<rect x="267.2" y="409.9" width="16.23" height="23.8" fill="#d7e881" stroke="#ffffff" stroke-width="0.9"/>
<rect x="283.43" y="409.9" width="16.23" height="23.8" fill="#f4f8df" stroke="#ffffff" stroke-width="0.9"/>
<rect x="299.65" y="409.9" width="16.23" height="23.8" fill="#efd7ad" stroke="#ffffff" stroke-width="0.9"/>
<rect x="315.88" y="409.9" width="16.23" height="23.8" fill="#ea9426" stroke="#ffffff" stroke-width="0.9"/>
<rect x="332.11" y="409.9" width="16.23" height="23.8" fill="#eba33d" stroke="#ffffff" stroke-width="0.9"/>
<rect x="348.34" y="409.9" width="16.23" height="23.8" fill="#e8b764" stroke="#ffffff" stroke-width="0.9"/>
<rect x="364.56" y="409.9" width="16.23" height="23.8" fill="#f0e1bd" stroke="#ffffff" stroke-width="0.9"/>
<rect x="380.79" y="409.9" width="16.23" height="23.8" fill="#ecc894" stroke="#ffffff" stroke-width="0.9"/>
<rect x="397.02" y="409.9" width="16.23" height="23.8" fill="#f8f3e7" stroke="#ffffff" stroke-width="0.9"/>
<rect x="413.25" y="409.9" width="16.23" height="23.8" fill="#e3efae" stroke="#ffffff" stroke-width="0.9"/>
<rect x="429.47" y="409.9" width="16.23" height="23.8" fill="#fbfcf3" stroke="#ffffff" stroke-width="0.9"/>
<rect x="445.7" y="409.9" width="16.23" height="23.8" fill="#cbdf48" stroke="#ffffff" stroke-width="0.9"/>
<rect x="461.93" y="409.9" width="16.23" height="23.8" fill="#ea9426" stroke="#ffffff" stroke-width="0.9"/>
<rect x="478.15" y="409.9" width="16.23" height="23.8" fill="#efd8ae" stroke="#ffffff" stroke-width="0.9"/>
<rect x="494.38" y="409.9" width="16.23" height="23.8" fill="#f5f8e1" stroke="#ffffff" stroke-width="0.9"/>
<rect x="510.61" y="409.9" width="16.23" height="23.8" fill="#f0f6d4" stroke="#ffffff" stroke-width="0.9"/>
<rect x="526.84" y="409.9" width="16.23" height="23.8" fill="#eaac4a" stroke="#ffffff" stroke-width="0.9"/>
<rect x="543.06" y="409.9" width="16.23" height="23.8" fill="#ea9426" stroke="#ffffff" stroke-width="0.9"/>
<rect x="559.29" y="409.9" width="16.23" height="23.8" fill="#e9bf7f" stroke="#ffffff" stroke-width="0.9"/>
<rect x="575.52" y="409.9" width="16.23" height="23.8" fill="#ea9527" stroke="#ffffff" stroke-width="0.9"/>
<rect x="591.75" y="409.9" width="16.23" height="23.8" fill="#eb9d34" stroke="#ffffff" stroke-width="0.9"/>
<rect x="607.97" y="409.9" width="16.23" height="23.8" fill="#d3e570" stroke="#ffffff" stroke-width="0.9"/>
<rect x="88.7" y="433.7" width="16.23" height="23.7" fill="#e8bc78" stroke="#ffffff" stroke-width="0.9"/>
<rect x="104.93" y="433.7" width="16.23" height="23.7" fill="#e8bc78" stroke="#ffffff" stroke-width="0.9"/>
<rect x="121.15" y="433.7" width="16.23" height="23.7" fill="#e8bc78" stroke="#ffffff" stroke-width="0.9"/>
<rect x="137.38" y="433.7" width="16.23" height="23.7" fill="#e8bc78" stroke="#ffffff" stroke-width="0.9"/>
<rect x="153.61" y="433.7" width="16.23" height="23.7" fill="#cce04d" stroke="#ffffff" stroke-width="0.9"/>
<rect x="169.84" y="433.7" width="16.23" height="23.7" fill="#cde154" stroke="#ffffff" stroke-width="0.9"/>
<rect x="186.06" y="433.7" width="16.23" height="23.7" fill="#f4f8e1" stroke="#ffffff" stroke-width="0.9"/>
<rect x="202.29" y="433.7" width="16.23" height="23.7" fill="#e1eea7" stroke="#ffffff" stroke-width="0.9"/>
<rect x="218.52" y="433.7" width="16.23" height="23.7" fill="#d7e881" stroke="#ffffff" stroke-width="0.9"/>
<rect x="234.75" y="433.7" width="16.23" height="23.7" fill="#e0eda2" stroke="#ffffff" stroke-width="0.9"/>
<rect x="250.97" y="433.7" width="16.23" height="23.7" fill="#cce04f" stroke="#ffffff" stroke-width="0.9"/>
<rect x="267.2" y="433.7" width="16.23" height="23.7" fill="#e8bc78" stroke="#ffffff" stroke-width="0.9"/>
<rect x="283.43" y="433.7" width="16.23" height="23.7" fill="#e2efab" stroke="#ffffff" stroke-width="0.9"/>
<rect x="299.65" y="433.7" width="16.23" height="23.7" fill="#cfe25b" stroke="#ffffff" stroke-width="0.9"/>
<rect x="315.88" y="433.7" width="16.23" height="23.7" fill="#e3efae" stroke="#ffffff" stroke-width="0.9"/>
<rect x="332.11" y="433.7" width="16.23" height="23.7" fill="#fbf7f1" stroke="#ffffff" stroke-width="0.9"/>
<rect x="348.34" y="433.7" width="16.23" height="23.7" fill="#fefefc" stroke="#ffffff" stroke-width="0.9"/>
<rect x="364.56" y="433.7" width="16.23" height="23.7" fill="#e4f0b1" stroke="#ffffff" stroke-width="0.9"/>
<rect x="380.79" y="433.7" width="16.23" height="23.7" fill="#f4f8df" stroke="#ffffff" stroke-width="0.9"/>
<rect x="397.02" y="433.7" width="16.23" height="23.7" fill="#cde154" stroke="#ffffff" stroke-width="0.9"/>
<rect x="413.25" y="433.7" width="16.23" height="23.7" fill="#e8bc78" stroke="#ffffff" stroke-width="0.9"/>
<rect x="429.47" y="433.7" width="16.23" height="23.7" fill="#e0eda3" stroke="#ffffff" stroke-width="0.9"/>
<rect x="445.7" y="433.7" width="16.23" height="23.7" fill="#e8bc78" stroke="#ffffff" stroke-width="0.9"/>
<rect x="461.93" y="433.7" width="16.23" height="23.7" fill="#fcfaf6" stroke="#ffffff" stroke-width="0.9"/>
<rect x="478.15" y="433.7" width="16.23" height="23.7" fill="#cfe25b" stroke="#ffffff" stroke-width="0.9"/>
<rect x="494.38" y="433.7" width="16.23" height="23.7" fill="#ddeb96" stroke="#ffffff" stroke-width="0.9"/>
<rect x="510.61" y="433.7" width="16.23" height="23.7" fill="#e8bc78" stroke="#ffffff" stroke-width="0.9"/>
<rect x="526.84" y="433.7" width="16.23" height="23.7" fill="#f0deb8" stroke="#ffffff" stroke-width="0.9"/>
<rect x="543.06" y="433.7" width="16.23" height="23.7" fill="#e8bc78" stroke="#ffffff" stroke-width="0.9"/>
<rect x="559.29" y="433.7" width="16.23" height="23.7" fill="#fdfcf9" stroke="#ffffff" stroke-width="0.9"/>
<rect x="575.52" y="433.7" width="16.23" height="23.7" fill="#f8faeb" stroke="#ffffff" stroke-width="0.9"/>
<rect x="591.75" y="433.7" width="16.23" height="23.7" fill="#fcfaf5" stroke="#ffffff" stroke-width="0.9"/>
<rect x="607.97" y="433.7" width="16.23" height="23.7" fill="#e8bc78" stroke="#ffffff" stroke-width="0.9"/>
<rect x="88.7" y="457.4" width="16.23" height="23.8" fill="#e5f0b5" stroke="#ffffff" stroke-width="0.9"/>
<rect x="104.93" y="457.4" width="16.23" height="23.8" fill="#cee156" stroke="#ffffff" stroke-width="0.9"/>
<rect x="121.15" y="457.4" width="16.23" height="23.8" fill="#c6db34" stroke="#ffffff" stroke-width="0.9"/>
<rect x="137.38" y="457.4" width="16.23" height="23.8" fill="#cbdf48" stroke="#ffffff" stroke-width="0.9"/>
<rect x="153.61" y="457.4" width="16.23" height="23.8" fill="#cade42" stroke="#ffffff" stroke-width="0.9"/>
<rect x="169.84" y="457.4" width="16.23" height="23.8" fill="#f8fae9" stroke="#ffffff" stroke-width="0.9"/>
<rect x="186.06" y="457.4" width="16.23" height="23.8" fill="#d8e884" stroke="#ffffff" stroke-width="0.9"/>
<rect x="202.29" y="457.4" width="16.23" height="23.8" fill="#d8e883" stroke="#ffffff" stroke-width="0.9"/>
<rect x="218.52" y="457.4" width="16.23" height="23.8" fill="#c6db33" stroke="#ffffff" stroke-width="0.9"/>
<rect x="234.75" y="457.4" width="16.23" height="23.8" fill="#c9dd3f" stroke="#ffffff" stroke-width="0.9"/>
<rect x="250.97" y="457.4" width="16.23" height="23.8" fill="#cade42" stroke="#ffffff" stroke-width="0.9"/>
<rect x="267.2" y="457.4" width="16.23" height="23.8" fill="#f8fae9" stroke="#ffffff" stroke-width="0.9"/>
<rect x="283.43" y="457.4" width="16.23" height="23.8" fill="#c9dd3c" stroke="#ffffff" stroke-width="0.9"/>
<rect x="299.65" y="457.4" width="16.23" height="23.8" fill="#d2e46a" stroke="#ffffff" stroke-width="0.9"/>
<rect x="315.88" y="457.4" width="16.23" height="23.8" fill="#f8fae9" stroke="#ffffff" stroke-width="0.9"/>
<rect x="332.11" y="457.4" width="16.23" height="23.8" fill="#e4f0b1" stroke="#ffffff" stroke-width="0.9"/>
<rect x="348.34" y="457.4" width="16.23" height="23.8" fill="#e7f2bc" stroke="#ffffff" stroke-width="0.9"/>
<rect x="364.56" y="457.4" width="16.23" height="23.8" fill="#d8e884" stroke="#ffffff" stroke-width="0.9"/>
<rect x="380.79" y="457.4" width="16.23" height="23.8" fill="#cfe25b" stroke="#ffffff" stroke-width="0.9"/>
<rect x="397.02" y="457.4" width="16.23" height="23.8" fill="#d7e882" stroke="#ffffff" stroke-width="0.9"/>
<rect x="413.25" y="457.4" width="16.23" height="23.8" fill="#cfe25e" stroke="#ffffff" stroke-width="0.9"/>
<rect x="429.47" y="457.4" width="16.23" height="23.8" fill="#c9dd3d" stroke="#ffffff" stroke-width="0.9"/>
<rect x="445.7" y="457.4" width="16.23" height="23.8" fill="#f8fae9" stroke="#ffffff" stroke-width="0.9"/>
<rect x="461.93" y="457.4" width="16.23" height="23.8" fill="#eff5d1" stroke="#ffffff" stroke-width="0.9"/>
<rect x="478.15" y="457.4" width="16.23" height="23.8" fill="#cfe25c" stroke="#ffffff" stroke-width="0.9"/>
<rect x="494.38" y="457.4" width="16.23" height="23.8" fill="#c9dd3f" stroke="#ffffff" stroke-width="0.9"/>
<rect x="510.61" y="457.4" width="16.23" height="23.8" fill="#e6f1b8" stroke="#ffffff" stroke-width="0.9"/>
<rect x="526.84" y="457.4" width="16.23" height="23.8" fill="#dfec9d" stroke="#ffffff" stroke-width="0.9"/>
<rect x="543.06" y="457.4" width="16.23" height="23.8" fill="#d1e367" stroke="#ffffff" stroke-width="0.9"/>
<rect x="559.29" y="457.4" width="16.23" height="23.8" fill="#cee159" stroke="#ffffff" stroke-width="0.9"/>
<rect x="575.52" y="457.4" width="16.23" height="23.8" fill="#dfed9f" stroke="#ffffff" stroke-width="0.9"/>
<rect x="591.75" y="457.4" width="16.23" height="23.8" fill="#f8fae9" stroke="#ffffff" stroke-width="0.9"/>
<rect x="607.97" y="457.4" width="16.23" height="23.8" fill="#c9dd3d" stroke="#ffffff" stroke-width="0.9"/>
<rect x="88.7" y="481.2" width="16.23" height="23.3" fill="#dae98a" stroke="#ffffff" stroke-width="0.9"/>
<rect x="104.93" y="481.2" width="16.23" height="23.3" fill="#ecc996" stroke="#ffffff" stroke-width="0.9"/>
<rect x="121.15" y="481.2" width="16.23" height="23.3" fill="#c6db33" stroke="#ffffff" stroke-width="0.9"/>
<rect x="137.38" y="481.2" width="16.23" height="23.3" fill="#dae98b" stroke="#ffffff" stroke-width="0.9"/>
<rect x="153.61" y="481.2" width="16.23" height="23.3" fill="#cce04f" stroke="#ffffff" stroke-width="0.9"/>
<rect x="169.84" y="481.2" width="16.23" height="23.3" fill="#cce04e" stroke="#ffffff" stroke-width="0.9"/>
<rect x="186.06" y="481.2" width="16.23" height="23.3" fill="#d2e46d" stroke="#ffffff" stroke-width="0.9"/>
<rect x="202.29" y="481.2" width="16.23" height="23.3" fill="#c5da2e" stroke="#ffffff" stroke-width="0.9"/>
<rect x="218.52" y="481.2" width="16.23" height="23.3" fill="#c6db34" stroke="#ffffff" stroke-width="0.9"/>
<rect x="234.75" y="481.2" width="16.23" height="23.3" fill="#c6db32" stroke="#ffffff" stroke-width="0.9"/>
<rect x="250.97" y="481.2" width="16.23" height="23.3" fill="#c8dc3a" stroke="#ffffff" stroke-width="0.9"/>
<rect x="267.2" y="481.2" width="16.23" height="23.3" fill="#cfe25b" stroke="#ffffff" stroke-width="0.9"/>
<rect x="283.43" y="481.2" width="16.23" height="23.3" fill="#ccdf4a" stroke="#ffffff" stroke-width="0.9"/>
<rect x="299.65" y="481.2" width="16.23" height="23.3" fill="#c5da2e" stroke="#ffffff" stroke-width="0.9"/>
<rect x="315.88" y="481.2" width="16.23" height="23.3" fill="#d9e987" stroke="#ffffff" stroke-width="0.9"/>
<rect x="332.11" y="481.2" width="16.23" height="23.3" fill="#c5da2e" stroke="#ffffff" stroke-width="0.9"/>
<rect x="348.34" y="481.2" width="16.23" height="23.3" fill="#c5da2e" stroke="#ffffff" stroke-width="0.9"/>
<rect x="364.56" y="481.2" width="16.23" height="23.3" fill="#c5da2e" stroke="#ffffff" stroke-width="0.9"/>
<rect x="380.79" y="481.2" width="16.23" height="23.3" fill="#c9dd3e" stroke="#ffffff" stroke-width="0.9"/>
<rect x="397.02" y="481.2" width="16.23" height="23.3" fill="#e4f0b3" stroke="#ffffff" stroke-width="0.9"/>
<rect x="413.25" y="481.2" width="16.23" height="23.3" fill="#c5da30" stroke="#ffffff" stroke-width="0.9"/>
<rect x="429.47" y="481.2" width="16.23" height="23.3" fill="#cade40" stroke="#ffffff" stroke-width="0.9"/>
<rect x="445.7" y="481.2" width="16.23" height="23.3" fill="#d6e67b" stroke="#ffffff" stroke-width="0.9"/>
<rect x="461.93" y="481.2" width="16.23" height="23.3" fill="#c6db32" stroke="#ffffff" stroke-width="0.9"/>
<rect x="478.15" y="481.2" width="16.23" height="23.3" fill="#c5da2e" stroke="#ffffff" stroke-width="0.9"/>
<rect x="494.38" y="481.2" width="16.23" height="23.3" fill="#c6db31" stroke="#ffffff" stroke-width="0.9"/>
<rect x="510.61" y="481.2" width="16.23" height="23.3" fill="#ecc996" stroke="#ffffff" stroke-width="0.9"/>
<rect x="526.84" y="481.2" width="16.23" height="23.3" fill="#c8dd3c" stroke="#ffffff" stroke-width="0.9"/>
<rect x="543.06" y="481.2" width="16.23" height="23.3" fill="#dfed9e" stroke="#ffffff" stroke-width="0.9"/>
<rect x="559.29" y="481.2" width="16.23" height="23.3" fill="#c7dc38" stroke="#ffffff" stroke-width="0.9"/>
<rect x="575.52" y="481.2" width="16.23" height="23.3" fill="#c5da2f" stroke="#ffffff" stroke-width="0.9"/>
<rect x="591.75" y="481.2" width="16.23" height="23.3" fill="#cade43" stroke="#ffffff" stroke-width="0.9"/>
<rect x="607.97" y="481.2" width="16.23" height="23.3" fill="#c7dc37" stroke="#ffffff" stroke-width="0.9"/>
<text transform="translate(96.11,421.8) rotate(90)" font-size="8.7" text-anchor="middle" dominant-baseline="central" fill="#111">33.41</text>
<text transform="translate(112.34,421.8) rotate(90)" font-size="8.7" text-anchor="middle" dominant-baseline="central" fill="#111">11.81</text>
<text transform="translate(128.57,421.8) rotate(90)" font-size="8.7" text-anchor="middle" dominant-baseline="central" fill="#111">25.33</text>
<text transform="translate(144.8,421.8) rotate(90)" font-size="8.7" text-anchor="middle" dominant-baseline="central" fill="#111">2.68</text>
<text transform="translate(161.02,421.8) rotate(90)" font-size="8.7" text-anchor="middle" dominant-baseline="central" fill="#111">7.03</text>
<text transform="translate(177.25,421.8) rotate(90)" font-size="8.7" text-anchor="middle" dominant-baseline="central" fill="#111">5.83</text>
<text transform="translate(193.48,421.8) rotate(90)" font-size="8.7" text-anchor="middle" dominant-baseline="central" fill="#111">24.80</text>
<text transform="translate(209.7,421.8) rotate(90)" font-size="8.7" text-anchor="middle" dominant-baseline="central" fill="#111">22.57</text>
<text transform="translate(225.93,421.8) rotate(90)" font-size="8.7" text-anchor="middle" dominant-baseline="central" fill="#111">7.96</text>
<text transform="translate(242.16,421.8) rotate(90)" font-size="8.7" text-anchor="middle" dominant-baseline="central" fill="#111">18.79</text>
<text transform="translate(258.39,421.8) rotate(90)" font-size="8.7" text-anchor="middle" dominant-baseline="central" fill="#111">22.83</text>
<text transform="translate(274.61,421.8) rotate(90)" font-size="8.7" text-anchor="middle" dominant-baseline="central" fill="#111">7.29</text>
<text transform="translate(290.84,421.8) rotate(90)" font-size="8.7" text-anchor="middle" dominant-baseline="central" fill="#111">14.23</text>
<text transform="translate(307.07,421.8) rotate(90)" font-size="8.7" text-anchor="middle" dominant-baseline="central" fill="#111">22.42</text>
<text transform="translate(323.3,421.8) rotate(90)" font-size="8.7" text-anchor="middle" dominant-baseline="central" fill="#111">33.41</text>
<text transform="translate(339.52,421.8) rotate(90)" font-size="8.7" text-anchor="middle" dominant-baseline="central" fill="#111">31.05</text>
<text transform="translate(355.75,421.8) rotate(90)" font-size="8.7" text-anchor="middle" dominant-baseline="central" fill="#111">27.29</text>
<text transform="translate(371.98,421.8) rotate(90)" font-size="8.7" text-anchor="middle" dominant-baseline="central" fill="#111">21.86</text>
<text transform="translate(388.2,421.8) rotate(90)" font-size="8.7" text-anchor="middle" dominant-baseline="central" fill="#111">24.29</text>
<text transform="translate(404.43,421.8) rotate(90)" font-size="8.7" text-anchor="middle" dominant-baseline="central" fill="#111">19.30</text>
<text transform="translate(420.66,421.8) rotate(90)" font-size="8.7" text-anchor="middle" dominant-baseline="central" fill="#111">10.25</text>
<text transform="translate(436.89,421.8) rotate(90)" font-size="8.7" text-anchor="middle" dominant-baseline="central" fill="#111">16.20</text>
<text transform="translate(453.11,421.8) rotate(90)" font-size="8.7" text-anchor="middle" dominant-baseline="central" fill="#111">2.92</text>
<text transform="translate(469.34,421.8) rotate(90)" font-size="8.7" text-anchor="middle" dominant-baseline="central" fill="#111">33.41</text>
<text transform="translate(485.57,421.8) rotate(90)" font-size="8.7" text-anchor="middle" dominant-baseline="central" fill="#111">22.40</text>
<text transform="translate(501.8,421.8) rotate(90)" font-size="8.7" text-anchor="middle" dominant-baseline="central" fill="#111">14.43</text>
<text transform="translate(518.02,421.8) rotate(90)" font-size="8.7" text-anchor="middle" dominant-baseline="central" fill="#111">13.34</text>
<text transform="translate(534.25,421.8) rotate(90)" font-size="8.7" text-anchor="middle" dominant-baseline="central" fill="#111">29.87</text>
<text transform="translate(550.48,421.8) rotate(90)" font-size="8.7" text-anchor="middle" dominant-baseline="central" fill="#111">33.41</text>
<text transform="translate(566.7,421.8) rotate(90)" font-size="8.7" text-anchor="middle" dominant-baseline="central" fill="#111">25.48</text>
<text transform="translate(582.93,421.8) rotate(90)" font-size="8.7" text-anchor="middle" dominant-baseline="central" fill="#111">33.28</text>
<text transform="translate(599.16,421.8) rotate(90)" font-size="8.7" text-anchor="middle" dominant-baseline="central" fill="#111">31.96</text>
<text transform="translate(615.39,421.8) rotate(90)" font-size="8.7" text-anchor="middle" dominant-baseline="central" fill="#111">5.87</text>
<text transform="translate(96.11,445.55) rotate(90)" font-size="8.7" text-anchor="middle" dominant-baseline="central" fill="#111">25.89</text>
<text transform="translate(112.34,445.55) rotate(90)" font-size="8.7" text-anchor="middle" dominant-baseline="central" fill="#111">25.89</text>
<text transform="translate(128.57,445.55) rotate(90)" font-size="8.7" text-anchor="middle" dominant-baseline="central" fill="#111">25.89</text>
<text transform="translate(144.8,445.55) rotate(90)" font-size="8.7" text-anchor="middle" dominant-baseline="central" fill="#111">25.89</text>
<text transform="translate(161.02,445.55) rotate(90)" font-size="8.7" text-anchor="middle" dominant-baseline="central" fill="#111">3.30</text>
<text transform="translate(177.25,445.55) rotate(90)" font-size="8.7" text-anchor="middle" dominant-baseline="central" fill="#111">3.78</text>
<text transform="translate(193.48,445.55) rotate(90)" font-size="8.7" text-anchor="middle" dominant-baseline="central" fill="#111">14.41</text>
<text transform="translate(209.7,445.55) rotate(90)" font-size="8.7" text-anchor="middle" dominant-baseline="central" fill="#111">9.81</text>
<text transform="translate(225.93,445.55) rotate(90)" font-size="8.7" text-anchor="middle" dominant-baseline="central" fill="#111">7.29</text>
<text transform="translate(242.16,445.55) rotate(90)" font-size="8.7" text-anchor="middle" dominant-baseline="central" fill="#111">9.45</text>
<text transform="translate(258.39,445.55) rotate(90)" font-size="8.7" text-anchor="middle" dominant-baseline="central" fill="#111">3.40</text>
<text transform="translate(274.61,445.55) rotate(90)" font-size="8.7" text-anchor="middle" dominant-baseline="central" fill="#111">25.89</text>
<text transform="translate(290.84,445.55) rotate(90)" font-size="8.7" text-anchor="middle" dominant-baseline="central" fill="#111">10.05</text>
<text transform="translate(307.07,445.55) rotate(90)" font-size="8.7" text-anchor="middle" dominant-baseline="central" fill="#111">4.30</text>
<text transform="translate(323.3,445.55) rotate(90)" font-size="8.7" text-anchor="middle" dominant-baseline="central" fill="#111">10.21</text>
<text transform="translate(339.52,445.55) rotate(90)" font-size="8.7" text-anchor="middle" dominant-baseline="central" fill="#111">18.51</text>
<text transform="translate(355.75,445.55) rotate(90)" font-size="8.7" text-anchor="middle" dominant-baseline="central" fill="#111">17.21</text>
<text transform="translate(371.98,445.55) rotate(90)" font-size="8.7" text-anchor="middle" dominant-baseline="central" fill="#111">10.41</text>
<text transform="translate(388.2,445.55) rotate(90)" font-size="8.7" text-anchor="middle" dominant-baseline="central" fill="#111">14.20</text>
<text transform="translate(404.43,445.55) rotate(90)" font-size="8.7" text-anchor="middle" dominant-baseline="central" fill="#111">3.79</text>
<text transform="translate(420.66,445.55) rotate(90)" font-size="8.7" text-anchor="middle" dominant-baseline="central" fill="#111">25.89</text>
<text transform="translate(436.89,445.55) rotate(90)" font-size="8.7" text-anchor="middle" dominant-baseline="central" fill="#111">9.50</text>
<text transform="translate(453.11,445.55) rotate(90)" font-size="8.7" text-anchor="middle" dominant-baseline="central" fill="#111">25.89</text>
<text transform="translate(469.34,445.55) rotate(90)" font-size="8.7" text-anchor="middle" dominant-baseline="central" fill="#111">17.91</text>
<text transform="translate(485.57,445.55) rotate(90)" font-size="8.7" text-anchor="middle" dominant-baseline="central" fill="#111">4.30</text>
<text transform="translate(501.8,445.55) rotate(90)" font-size="8.7" text-anchor="middle" dominant-baseline="central" fill="#111">8.68</text>
<text transform="translate(518.02,445.55) rotate(90)" font-size="8.7" text-anchor="middle" dominant-baseline="central" fill="#111">25.89</text>
<text transform="translate(534.25,445.55) rotate(90)" font-size="8.7" text-anchor="middle" dominant-baseline="central" fill="#111">22.05</text>
<text transform="translate(550.48,445.55) rotate(90)" font-size="8.7" text-anchor="middle" dominant-baseline="central" fill="#111">25.89</text>
<text transform="translate(566.7,445.55) rotate(90)" font-size="8.7" text-anchor="middle" dominant-baseline="central" fill="#111">17.59</text>
<text transform="translate(582.93,445.55) rotate(90)" font-size="8.7" text-anchor="middle" dominant-baseline="central" fill="#111">15.44</text>
<text transform="translate(599.16,445.55) rotate(90)" font-size="8.7" text-anchor="middle" dominant-baseline="central" fill="#111">18.07</text>
<text transform="translate(615.39,445.55) rotate(90)" font-size="8.7" text-anchor="middle" dominant-baseline="central" fill="#111">25.89</text>
<text transform="translate(96.11,469.3) rotate(90)" font-size="8.7" text-anchor="middle" dominant-baseline="central" fill="#111">10.73</text>
<text transform="translate(112.34,469.3) rotate(90)" font-size="8.7" text-anchor="middle" dominant-baseline="central" fill="#111">3.96</text>
<text transform="translate(128.57,469.3) rotate(90)" font-size="8.7" text-anchor="middle" dominant-baseline="central" fill="#111">0.73</text>
<text transform="translate(144.8,469.3) rotate(90)" font-size="8.7" text-anchor="middle" dominant-baseline="central" fill="#111">2.92</text>
<text transform="translate(161.02,469.3) rotate(90)" font-size="8.7" text-anchor="middle" dominant-baseline="central" fill="#111">2.45</text>
<text transform="translate(177.25,469.3) rotate(90)" font-size="8.7" text-anchor="middle" dominant-baseline="central" fill="#111">15.20</text>
<text transform="translate(193.48,469.3) rotate(90)" font-size="8.7" text-anchor="middle" dominant-baseline="central" fill="#111">7.48</text>
<text transform="translate(209.7,469.3) rotate(90)" font-size="8.7" text-anchor="middle" dominant-baseline="central" fill="#111">7.41</text>
<text transform="translate(225.93,469.3) rotate(90)" font-size="8.7" text-anchor="middle" dominant-baseline="central" fill="#111">0.64</text>
<text transform="translate(242.16,469.3) rotate(90)" font-size="8.7" text-anchor="middle" dominant-baseline="central" fill="#111">2.18</text>
<text transform="translate(258.39,469.3) rotate(90)" font-size="8.7" text-anchor="middle" dominant-baseline="central" fill="#111">2.51</text>
<text transform="translate(274.61,469.3) rotate(90)" font-size="8.7" text-anchor="middle" dominant-baseline="central" fill="#111">15.20</text>
<text transform="translate(290.84,469.3) rotate(90)" font-size="8.7" text-anchor="middle" dominant-baseline="central" fill="#111">1.77</text>
<text transform="translate(307.07,469.3) rotate(90)" font-size="8.7" text-anchor="middle" dominant-baseline="central" fill="#111">5.36</text>
<text transform="translate(323.3,469.3) rotate(90)" font-size="8.7" text-anchor="middle" dominant-baseline="central" fill="#111">15.20</text>
<text transform="translate(339.52,469.3) rotate(90)" font-size="8.7" text-anchor="middle" dominant-baseline="central" fill="#111">10.43</text>
<text transform="translate(355.75,469.3) rotate(90)" font-size="8.7" text-anchor="middle" dominant-baseline="central" fill="#111">11.33</text>
<text transform="translate(371.98,469.3) rotate(90)" font-size="8.7" text-anchor="middle" dominant-baseline="central" fill="#111">7.51</text>
<text transform="translate(388.2,469.3) rotate(90)" font-size="8.7" text-anchor="middle" dominant-baseline="central" fill="#111">4.27</text>
<text transform="translate(404.43,469.3) rotate(90)" font-size="8.7" text-anchor="middle" dominant-baseline="central" fill="#111">7.30</text>
<text transform="translate(420.66,469.3) rotate(90)" font-size="8.7" text-anchor="middle" dominant-baseline="central" fill="#111">4.52</text>
<text transform="translate(436.89,469.3) rotate(90)" font-size="8.7" text-anchor="middle" dominant-baseline="central" fill="#111">1.89</text>
<text transform="translate(453.11,469.3) rotate(90)" font-size="8.7" text-anchor="middle" dominant-baseline="central" fill="#111">15.20</text>
<text transform="translate(469.34,469.3) rotate(90)" font-size="8.7" text-anchor="middle" dominant-baseline="central" fill="#111">13.08</text>
<text transform="translate(485.57,469.3) rotate(90)" font-size="8.7" text-anchor="middle" dominant-baseline="central" fill="#111">4.39</text>
<text transform="translate(501.8,469.3) rotate(90)" font-size="8.7" text-anchor="middle" dominant-baseline="central" fill="#111">2.17</text>
<text transform="translate(518.02,469.3) rotate(90)" font-size="8.7" text-anchor="middle" dominant-baseline="central" fill="#111">11.03</text>
<text transform="translate(534.25,469.3) rotate(90)" font-size="8.7" text-anchor="middle" dominant-baseline="central" fill="#111">9.14</text>
<text transform="translate(550.48,469.3) rotate(90)" font-size="8.7" text-anchor="middle" dominant-baseline="central" fill="#111">5.15</text>
<text transform="translate(566.7,469.3) rotate(90)" font-size="8.7" text-anchor="middle" dominant-baseline="central" fill="#111">4.17</text>
<text transform="translate(582.93,469.3) rotate(90)" font-size="8.7" text-anchor="middle" dominant-baseline="central" fill="#111">9.27</text>
<text transform="translate(599.16,469.3) rotate(90)" font-size="8.7" text-anchor="middle" dominant-baseline="central" fill="#111">15.20</text>
<text transform="translate(615.39,469.3) rotate(90)" font-size="8.7" text-anchor="middle" dominant-baseline="central" fill="#111">1.85</text>
<text transform="translate(96.11,492.85) rotate(90)" font-size="8.7" text-anchor="middle" dominant-baseline="central" fill="#111">7.90</text>
<text transform="translate(112.34,492.85) rotate(90)" font-size="8.7" text-anchor="middle" dominant-baseline="central" fill="#111">24.12</text>
<text transform="translate(128.57,492.85) rotate(90)" font-size="8.7" text-anchor="middle" dominant-baseline="central" fill="#111">0.65</text>
<text transform="translate(144.8,492.85) rotate(90)" font-size="8.7" text-anchor="middle" dominant-baseline="central" fill="#111">7.97</text>
<text transform="translate(161.02,492.85) rotate(90)" font-size="8.7" text-anchor="middle" dominant-baseline="central" fill="#111">3.40</text>
<text transform="translate(177.25,492.85) rotate(90)" font-size="8.7" text-anchor="middle" dominant-baseline="central" fill="#111">3.39</text>
<text transform="translate(193.48,492.85) rotate(90)" font-size="8.7" text-anchor="middle" dominant-baseline="central" fill="#111">5.59</text>
<text transform="translate(209.7,492.85) rotate(90)" font-size="8.7" text-anchor="middle" dominant-baseline="central" fill="#111">0.00</text>
<text transform="translate(225.93,492.85) rotate(90)" font-size="8.7" text-anchor="middle" dominant-baseline="central" fill="#111">0.72</text>
<text transform="translate(242.16,492.85) rotate(90)" font-size="8.7" text-anchor="middle" dominant-baseline="central" fill="#111">0.52</text>
<text transform="translate(258.39,492.85) rotate(90)" font-size="8.7" text-anchor="middle" dominant-baseline="central" fill="#111">1.53</text>
<text transform="translate(274.61,492.85) rotate(90)" font-size="8.7" text-anchor="middle" dominant-baseline="central" fill="#111">4.28</text>
<text transform="translate(290.84,492.85) rotate(90)" font-size="8.7" text-anchor="middle" dominant-baseline="central" fill="#111">3.09</text>
<text transform="translate(307.07,492.85) rotate(90)" font-size="8.7" text-anchor="middle" dominant-baseline="central" fill="#111">0.02</text>
<text transform="translate(323.3,492.85) rotate(90)" font-size="8.7" text-anchor="middle" dominant-baseline="central" fill="#111">7.72</text>
<text transform="translate(339.52,492.85) rotate(90)" font-size="8.7" text-anchor="middle" dominant-baseline="central" fill="#111">0.00</text>
<text transform="translate(355.75,492.85) rotate(90)" font-size="8.7" text-anchor="middle" dominant-baseline="central" fill="#111">0.00</text>
<text transform="translate(371.98,492.85) rotate(90)" font-size="8.7" text-anchor="middle" dominant-baseline="central" fill="#111">0.03</text>
<text transform="translate(388.2,492.85) rotate(90)" font-size="8.7" text-anchor="middle" dominant-baseline="central" fill="#111">2.05</text>
<text transform="translate(404.43,492.85) rotate(90)" font-size="8.7" text-anchor="middle" dominant-baseline="central" fill="#111">10.56</text>
<text transform="translate(420.66,492.85) rotate(90)" font-size="8.7" text-anchor="middle" dominant-baseline="central" fill="#111">0.23</text>
<text transform="translate(436.89,492.85) rotate(90)" font-size="8.7" text-anchor="middle" dominant-baseline="central" fill="#111">2.25</text>
<text transform="translate(453.11,492.85) rotate(90)" font-size="8.7" text-anchor="middle" dominant-baseline="central" fill="#111">6.73</text>
<text transform="translate(469.34,492.85) rotate(90)" font-size="8.7" text-anchor="middle" dominant-baseline="central" fill="#111">0.47</text>
<text transform="translate(485.57,492.85) rotate(90)" font-size="8.7" text-anchor="middle" dominant-baseline="central" fill="#111">0.04</text>
<text transform="translate(501.8,492.85) rotate(90)" font-size="8.7" text-anchor="middle" dominant-baseline="central" fill="#111">0.41</text>
<text transform="translate(518.02,492.85) rotate(90)" font-size="8.7" text-anchor="middle" dominant-baseline="central" fill="#111">24.12</text>
<text transform="translate(534.25,492.85) rotate(90)" font-size="8.7" text-anchor="middle" dominant-baseline="central" fill="#111">1.75</text>
<text transform="translate(550.48,492.85) rotate(90)" font-size="8.7" text-anchor="middle" dominant-baseline="central" fill="#111">9.22</text>
<text transform="translate(566.7,492.85) rotate(90)" font-size="8.7" text-anchor="middle" dominant-baseline="central" fill="#111">1.19</text>
<text transform="translate(582.93,492.85) rotate(90)" font-size="8.7" text-anchor="middle" dominant-baseline="central" fill="#111">0.14</text>
<text transform="translate(599.16,492.85) rotate(90)" font-size="8.7" text-anchor="middle" dominant-baseline="central" fill="#111">2.56</text>
<text transform="translate(615.39,492.85) rotate(90)" font-size="8.7" text-anchor="middle" dominant-baseline="central" fill="#111">1.16</text>
<text x="83.3" y="422.6" font-size="9.3" text-anchor="end" dominant-baseline="central" fill="#1a1a1a">geMER</text>
<text x="83.3" y="446.35" font-size="9.3" text-anchor="end" dominant-baseline="central" fill="#1a1a1a">oncodriveFML</text>
<text x="83.3" y="470.1" font-size="9.3" text-anchor="end" dominant-baseline="central" fill="#1a1a1a">ActiveDriverWGS</text>
<text x="83.3" y="493.65" font-size="9.3" text-anchor="end" dominant-baseline="central" fill="#1a1a1a">Driverpower</text>
<text transform="translate(89.8,507.6) rotate(90)" font-size="10.5" text-anchor="start" dominant-baseline="central" fill="#1a1a1a">UVM</text>
<text transform="translate(106.3,507.6) rotate(90)" font-size="10.5" text-anchor="start" dominant-baseline="central" fill="#1a1a1a">UCS</text>
<text transform="translate(122.8,507.6) rotate(90)" font-size="10.5" text-anchor="start" dominant-baseline="central" fill="#1a1a1a">UCEC</text>
<text transform="translate(139.3,507.6) rotate(90)" font-size="10.5" text-anchor="start" dominant-baseline="central" fill="#1a1a1a">THYM</text>
<text transform="translate(155.8,507.6) rotate(90)" font-size="10.5" text-anchor="start" dominant-baseline="central" fill="#1a1a1a">THCA</text>
<text transform="translate(172.3,507.6) rotate(90)" font-size="10.5" text-anchor="start" dominant-baseline="central" fill="#1a1a1a">TGCT</text>
<text transform="translate(188.8,507.6) rotate(90)" font-size="10.5" text-anchor="start" dominant-baseline="central" fill="#1a1a1a">STAD</text>
<text transform="translate(205.3,507.6) rotate(90)" font-size="10.5" text-anchor="start" dominant-baseline="central" fill="#1a1a1a">SKCM</text>
<text transform="translate(221.8,507.6) rotate(90)" font-size="10.5" text-anchor="start" dominant-baseline="central" fill="#1a1a1a">SARC</text>
<text transform="translate(238.3,507.6) rotate(90)" font-size="10.5" text-anchor="start" dominant-baseline="central" fill="#1a1a1a">READ</text>
<text transform="translate(254.8,507.6) rotate(90)" font-size="10.5" text-anchor="start" dominant-baseline="central" fill="#1a1a1a">PRAD</text>
<text transform="translate(271.3,507.6) rotate(90)" font-size="10.5" text-anchor="start" dominant-baseline="central" fill="#1a1a1a">PCPG</text>
<text transform="translate(287.8,507.6) rotate(90)" font-size="10.5" text-anchor="start" dominant-baseline="central" fill="#1a1a1a">PAAD</text>
<text transform="translate(304.3,507.6) rotate(90)" font-size="10.5" text-anchor="start" dominant-baseline="central" fill="#1a1a1a">OV</text>
<text transform="translate(320.8,507.6) rotate(90)" font-size="10.5" text-anchor="start" dominant-baseline="central" fill="#1a1a1a">MESO</text>
<text transform="translate(337.3,507.6) rotate(90)" font-size="10.5" text-anchor="start" dominant-baseline="central" fill="#1a1a1a">LUSC</text>
<text transform="translate(353.8,507.6) rotate(90)" font-size="10.5" text-anchor="start" dominant-baseline="central" fill="#1a1a1a">LUAD</text>
<text transform="translate(370.3,507.6) rotate(90)" font-size="10.5" text-anchor="start" dominant-baseline="central" fill="#1a1a1a">LIHC</text>
<text transform="translate(386.8,507.6) rotate(90)" font-size="10.5" text-anchor="start" dominant-baseline="central" fill="#1a1a1a">LGG</text>
<text transform="translate(403.3,507.6) rotate(90)" font-size="10.5" text-anchor="start" dominant-baseline="central" fill="#1a1a1a">LAML</text>
<text transform="translate(419.8,507.6) rotate(90)" font-size="10.5" text-anchor="start" dominant-baseline="central" fill="#1a1a1a">KIRP</text>
<text transform="translate(436.3,507.6) rotate(90)" font-size="10.5" text-anchor="start" dominant-baseline="central" fill="#1a1a1a">KIRC</text>
<text transform="translate(452.8,507.6) rotate(90)" font-size="10.5" text-anchor="start" dominant-baseline="central" fill="#1a1a1a">KICH</text>
<text transform="translate(469.3,507.6) rotate(90)" font-size="10.5" text-anchor="start" dominant-baseline="central" fill="#1a1a1a">HNSC</text>
<text transform="translate(485.8,507.6) rotate(90)" font-size="10.5" text-anchor="start" dominant-baseline="central" fill="#1a1a1a">GBM</text>
<text transform="translate(502.3,507.6) rotate(90)" font-size="10.5" text-anchor="start" dominant-baseline="central" fill="#1a1a1a">ESCA</text>
<text transform="translate(518.8,507.6) rotate(90)" font-size="10.5" text-anchor="start" dominant-baseline="central" fill="#1a1a1a">DLBC</text>
<text transform="translate(535.3,507.6) rotate(90)" font-size="10.5" text-anchor="start" dominant-baseline="central" fill="#1a1a1a">COAD</text>
<text transform="translate(551.8,507.6) rotate(90)" font-size="10.5" text-anchor="start" dominant-baseline="central" fill="#1a1a1a">CHOL</text>
<text transform="translate(568.3,507.6) rotate(90)" font-size="10.5" text-anchor="start" dominant-baseline="central" fill="#1a1a1a">CESC</text>
<text transform="translate(584.8,507.6) rotate(90)" font-size="10.5" text-anchor="start" dominant-baseline="central" fill="#1a1a1a">BRCA</text>
<text transform="translate(601.3,507.6) rotate(90)" font-size="10.5" text-anchor="start" dominant-baseline="central" fill="#1a1a1a">BLCA</text>
<text transform="translate(617.8,507.6) rotate(90)" font-size="10.5" text-anchor="start" dominant-baseline="central" fill="#1a1a1a">ACC</text>
<defs><linearGradient id="gD" x1="0" y1="0" x2="0" y2="1"><stop offset="0.00" stop-color="#ea9426"/><stop offset="0.05" stop-color="#eb9f36"/><stop offset="0.10" stop-color="#eaab48"/><stop offset="0.15" stop-color="#e9b259"/><stop offset="0.20" stop-color="#e8b96c"/><stop offset="0.25" stop-color="#eac287"/><stop offset="0.30" stop-color="#edce9f"/><stop offset="0.35" stop-color="#f1e2bf"/><stop offset="0.40" stop-color="#f6eedb"/><stop offset="0.45" stop-color="#fbf8f2"/><stop offset="0.50" stop-color="#fcfdf7"/><stop offset="0.55" stop-color="#f7f9e7"/><stop offset="0.60" stop-color="#f0f6d5"/><stop offset="0.65" stop-color="#e9f2c0"/><stop offset="0.70" stop-color="#e2efab"/><stop offset="0.75" stop-color="#dbea91"/><stop offset="0.80" stop-color="#d6e67a"/><stop offset="0.85" stop-color="#d1e365"/><stop offset="0.90" stop-color="#cce04e"/><stop offset="0.95" stop-color="#c8dd3b"/><stop offset="1.00" stop-color="#c5da2e"/></linearGradient><linearGradient id="gE" x1="0" y1="0" x2="0" y2="1"><stop offset="0.00" stop-color="#ea9426"/><stop offset="0.05" stop-color="#eb9e34"/><stop offset="0.10" stop-color="#eaa844"/><stop offset="0.15" stop-color="#e9b054"/><stop offset="0.20" stop-color="#e8b763"/><stop offset="0.25" stop-color="#e8bc78"/><stop offset="0.30" stop-color="#ecc793"/><stop offset="0.35" stop-color="#eed2a5"/><stop offset="0.40" stop-color="#f2e5c5"/><stop offset="0.45" stop-color="#f7efde"/><stop offset="0.50" stop-color="#fcf8f2"/><stop offset="0.55" stop-color="#fdfdf8"/><stop offset="0.60" stop-color="#f6f9e6"/><stop offset="0.65" stop-color="#eff5d1"/><stop offset="0.70" stop-color="#e7f1ba"/><stop offset="0.75" stop-color="#dfeda0"/><stop offset="0.80" stop-color="#d8e883"/><stop offset="0.85" stop-color="#d2e46d"/><stop offset="0.90" stop-color="#cde053"/><stop offset="0.95" stop-color="#c9dd3d"/><stop offset="1.00" stop-color="#c5da2e"/></linearGradient></defs>
<rect x="639.9" y="415.3" width="8.2" height="106.7" fill="url(#gD)"/>
<text x="636.4" y="409.2" font-size="9.7" text-anchor="start" dominant-baseline="central" fill="#1a1a1a">-log10P</text>
<text x="650.3" y="425.3" font-size="9.3" text-anchor="start" dominant-baseline="central" fill="#1a1a1a">30</text>
<text x="650.3" y="442.2" font-size="9.3" text-anchor="start" dominant-baseline="central" fill="#1a1a1a">25</text>
<text x="650.3" y="459.1" font-size="9.3" text-anchor="start" dominant-baseline="central" fill="#1a1a1a">20</text>
<text x="650.3" y="476" font-size="9.3" text-anchor="start" dominant-baseline="central" fill="#1a1a1a">15</text>
<text x="650.3" y="492.9" font-size="9.3" text-anchor="start" dominant-baseline="central" fill="#1a1a1a">10</text>
<text x="650.3" y="509.8" font-size="9.3" text-anchor="start" dominant-baseline="central" fill="#1a1a1a">5</text>
<text x="0.3" y="549.2" font-size="27.3" text-anchor="start" dominant-baseline="auto" fill="#1a1a1a">E</text>
<rect x="86" y="544.7" width="16.32" height="23.6" fill="#cbdf47" stroke="#ffffff" stroke-width="0.9"/>
<rect x="102.32" y="544.7" width="16.32" height="23.6" fill="#dceb95" stroke="#ffffff" stroke-width="0.9"/>
<rect x="118.63" y="544.7" width="16.32" height="23.6" fill="#f0e1bd" stroke="#ffffff" stroke-width="0.9"/>
<rect x="134.95" y="544.7" width="16.32" height="23.6" fill="#cbdf47" stroke="#ffffff" stroke-width="0.9"/>
<rect x="151.26" y="544.7" width="16.32" height="23.6" fill="#e8f2be" stroke="#ffffff" stroke-width="0.9"/>
<rect x="167.58" y="544.7" width="16.32" height="23.6" fill="#cbdf47" stroke="#ffffff" stroke-width="0.9"/>
<rect x="183.89" y="544.7" width="16.32" height="23.6" fill="#e8ba70" stroke="#ffffff" stroke-width="0.9"/>
<rect x="200.21" y="544.7" width="16.32" height="23.6" fill="#ecc996" stroke="#ffffff" stroke-width="0.9"/>
<rect x="216.52" y="544.7" width="16.32" height="23.6" fill="#f4f8e0" stroke="#ffffff" stroke-width="0.9"/>
<rect x="232.84" y="544.7" width="16.32" height="23.6" fill="#e9b155" stroke="#ffffff" stroke-width="0.9"/>
<rect x="249.15" y="544.7" width="16.32" height="23.6" fill="#e8ba70" stroke="#ffffff" stroke-width="0.9"/>
<rect x="265.47" y="544.7" width="16.32" height="23.6" fill="#cbdf47" stroke="#ffffff" stroke-width="0.9"/>
<rect x="281.78" y="544.7" width="16.32" height="23.6" fill="#f8f1e4" stroke="#ffffff" stroke-width="0.9"/>
<rect x="298.1" y="544.7" width="16.32" height="23.6" fill="#eba33c" stroke="#ffffff" stroke-width="0.9"/>
<rect x="314.41" y="544.7" width="16.32" height="23.6" fill="#cbdf47" stroke="#ffffff" stroke-width="0.9"/>
<rect x="330.73" y="544.7" width="16.32" height="23.6" fill="#e9b155" stroke="#ffffff" stroke-width="0.9"/>
<rect x="347.04" y="544.7" width="16.32" height="23.6" fill="#e9b155" stroke="#ffffff" stroke-width="0.9"/>
<rect x="363.36" y="544.7" width="16.32" height="23.6" fill="#eba33c" stroke="#ffffff" stroke-width="0.9"/>
<rect x="379.67" y="544.7" width="16.32" height="23.6" fill="#e9b155" stroke="#ffffff" stroke-width="0.9"/>
<rect x="395.99" y="544.7" width="16.32" height="23.6" fill="#f4f8e0" stroke="#ffffff" stroke-width="0.9"/>
<rect x="412.3" y="544.7" width="16.32" height="23.6" fill="#f4f8e0" stroke="#ffffff" stroke-width="0.9"/>
<rect x="428.62" y="544.7" width="16.32" height="23.6" fill="#f0e1bd" stroke="#ffffff" stroke-width="0.9"/>
<rect x="444.93" y="544.7" width="16.32" height="23.6" fill="#c5da2e" stroke="#ffffff" stroke-width="0.9"/>
<rect x="461.25" y="544.7" width="16.32" height="23.6" fill="#ea9426" stroke="#ffffff" stroke-width="0.9"/>
<rect x="477.56" y="544.7" width="16.32" height="23.6" fill="#eba33c" stroke="#ffffff" stroke-width="0.9"/>
<rect x="493.88" y="544.7" width="16.32" height="23.6" fill="#ecc996" stroke="#ffffff" stroke-width="0.9"/>
<rect x="510.19" y="544.7" width="16.32" height="23.6" fill="#dceb95" stroke="#ffffff" stroke-width="0.9"/>
<rect x="526.51" y="544.7" width="16.32" height="23.6" fill="#e8ba70" stroke="#ffffff" stroke-width="0.9"/>
<rect x="542.82" y="544.7" width="16.32" height="23.6" fill="#cbdf47" stroke="#ffffff" stroke-width="0.9"/>
<rect x="559.14" y="544.7" width="16.32" height="23.6" fill="#eba33c" stroke="#ffffff" stroke-width="0.9"/>
<rect x="575.45" y="544.7" width="16.32" height="23.6" fill="#ea9426" stroke="#ffffff" stroke-width="0.9"/>
<rect x="591.77" y="544.7" width="16.32" height="23.6" fill="#eba33c" stroke="#ffffff" stroke-width="0.9"/>
<rect x="608.08" y="544.7" width="16.32" height="23.6" fill="#d3e46f" stroke="#ffffff" stroke-width="0.9"/>
<rect x="86" y="568.3" width="16.32" height="23.6" fill="#cbdf47" stroke="#ffffff" stroke-width="0.9"/>
<rect x="102.32" y="568.3" width="16.32" height="23.6" fill="#cbdf47" stroke="#ffffff" stroke-width="0.9"/>
<rect x="118.63" y="568.3" width="16.32" height="23.6" fill="#e8ba70" stroke="#ffffff" stroke-width="0.9"/>
<rect x="134.95" y="568.3" width="16.32" height="23.6" fill="#c5da2e" stroke="#ffffff" stroke-width="0.9"/>
<rect x="151.26" y="568.3" width="16.32" height="23.6" fill="#d3e46f" stroke="#ffffff" stroke-width="0.9"/>
<rect x="167.58" y="568.3" width="16.32" height="23.6" fill="#cbdf47" stroke="#ffffff" stroke-width="0.9"/>
<rect x="183.89" y="568.3" width="16.32" height="23.6" fill="#e8ba70" stroke="#ffffff" stroke-width="0.9"/>
<rect x="200.21" y="568.3" width="16.32" height="23.6" fill="#ecc996" stroke="#ffffff" stroke-width="0.9"/>
<rect x="216.52" y="568.3" width="16.32" height="23.6" fill="#cbdf47" stroke="#ffffff" stroke-width="0.9"/>
<rect x="232.84" y="568.3" width="16.32" height="23.6" fill="#dceb95" stroke="#ffffff" stroke-width="0.9"/>
<rect x="249.15" y="568.3" width="16.32" height="23.6" fill="#cbdf47" stroke="#ffffff" stroke-width="0.9"/>
<rect x="265.47" y="568.3" width="16.32" height="23.6" fill="#c5da2e" stroke="#ffffff" stroke-width="0.9"/>
<rect x="281.78" y="568.3" width="16.32" height="23.6" fill="#d3e46f" stroke="#ffffff" stroke-width="0.9"/>
<rect x="298.1" y="568.3" width="16.32" height="23.6" fill="#d3e46f" stroke="#ffffff" stroke-width="0.9"/>
<rect x="314.41" y="568.3" width="16.32" height="23.6" fill="#d3e46f" stroke="#ffffff" stroke-width="0.9"/>
<rect x="330.73" y="568.3" width="16.32" height="23.6" fill="#ecc996" stroke="#ffffff" stroke-width="0.9"/>
<rect x="347.04" y="568.3" width="16.32" height="23.6" fill="#e8ba70" stroke="#ffffff" stroke-width="0.9"/>
<rect x="363.36" y="568.3" width="16.32" height="23.6" fill="#d3e46f" stroke="#ffffff" stroke-width="0.9"/>
<rect x="379.67" y="568.3" width="16.32" height="23.6" fill="#dceb95" stroke="#ffffff" stroke-width="0.9"/>
<rect x="395.99" y="568.3" width="16.32" height="23.6" fill="#cbdf47" stroke="#ffffff" stroke-width="0.9"/>
<rect x="412.3" y="568.3" width="16.32" height="23.6" fill="#c5da2e" stroke="#ffffff" stroke-width="0.9"/>
<rect x="428.62" y="568.3" width="16.32" height="23.6" fill="#d3e46f" stroke="#ffffff" stroke-width="0.9"/>
<rect x="444.93" y="568.3" width="16.32" height="23.6" fill="#cbdf47" stroke="#ffffff" stroke-width="0.9"/>
<rect x="461.25" y="568.3" width="16.32" height="23.6" fill="#f8f1e4" stroke="#ffffff" stroke-width="0.9"/>
<rect x="477.56" y="568.3" width="16.32" height="23.6" fill="#d3e46f" stroke="#ffffff" stroke-width="0.9"/>
<rect x="493.88" y="568.3" width="16.32" height="23.6" fill="#d3e46f" stroke="#ffffff" stroke-width="0.9"/>
<rect x="510.19" y="568.3" width="16.32" height="23.6" fill="#cbdf47" stroke="#ffffff" stroke-width="0.9"/>
<rect x="526.51" y="568.3" width="16.32" height="23.6" fill="#eba33c" stroke="#ffffff" stroke-width="0.9"/>
<rect x="542.82" y="568.3" width="16.32" height="23.6" fill="#cbdf47" stroke="#ffffff" stroke-width="0.9"/>
<rect x="559.14" y="568.3" width="16.32" height="23.6" fill="#fefefc" stroke="#ffffff" stroke-width="0.9"/>
<rect x="575.45" y="568.3" width="16.32" height="23.6" fill="#f0e1bd" stroke="#ffffff" stroke-width="0.9"/>
<rect x="591.77" y="568.3" width="16.32" height="23.6" fill="#ecc996" stroke="#ffffff" stroke-width="0.9"/>
<rect x="608.08" y="568.3" width="16.32" height="23.6" fill="#c5da2e" stroke="#ffffff" stroke-width="0.9"/>
<rect x="86" y="591.9" width="16.32" height="23.6" fill="#d3e46f" stroke="#ffffff" stroke-width="0.9"/>
<rect x="102.32" y="591.9" width="16.32" height="23.6" fill="#d3e46f" stroke="#ffffff" stroke-width="0.9"/>
<rect x="118.63" y="591.9" width="16.32" height="23.6" fill="#f8f1e4" stroke="#ffffff" stroke-width="0.9"/>
<rect x="134.95" y="591.9" width="16.32" height="23.6" fill="#c5da2e" stroke="#ffffff" stroke-width="0.9"/>
<rect x="151.26" y="591.9" width="16.32" height="23.6" fill="#d3e46f" stroke="#ffffff" stroke-width="0.9"/>
<rect x="167.58" y="591.9" width="16.32" height="23.6" fill="#cbdf47" stroke="#ffffff" stroke-width="0.9"/>
<rect x="183.89" y="591.9" width="16.32" height="23.6" fill="#f0e1bd" stroke="#ffffff" stroke-width="0.9"/>
<rect x="200.21" y="591.9" width="16.32" height="23.6" fill="#f0e1bd" stroke="#ffffff" stroke-width="0.9"/>
<rect x="216.52" y="591.9" width="16.32" height="23.6" fill="#d3e46f" stroke="#ffffff" stroke-width="0.9"/>
<rect x="232.84" y="591.9" width="16.32" height="23.6" fill="#fefefc" stroke="#ffffff" stroke-width="0.9"/>
<rect x="249.15" y="591.9" width="16.32" height="23.6" fill="#f4f8e0" stroke="#ffffff" stroke-width="0.9"/>
<rect x="265.47" y="591.9" width="16.32" height="23.6" fill="#c5da2e" stroke="#ffffff" stroke-width="0.9"/>
<rect x="281.78" y="591.9" width="16.32" height="23.6" fill="#d3e46f" stroke="#ffffff" stroke-width="0.9"/>
<rect x="298.1" y="591.9" width="16.32" height="23.6" fill="#f0e1bd" stroke="#ffffff" stroke-width="0.9"/>
<rect x="314.41" y="591.9" width="16.32" height="23.6" fill="#cbdf47" stroke="#ffffff" stroke-width="0.9"/>
<rect x="330.73" y="591.9" width="16.32" height="23.6" fill="#ecc996" stroke="#ffffff" stroke-width="0.9"/>
<rect x="347.04" y="591.9" width="16.32" height="23.6" fill="#ecc996" stroke="#ffffff" stroke-width="0.9"/>
<rect x="363.36" y="591.9" width="16.32" height="23.6" fill="#f0e1bd" stroke="#ffffff" stroke-width="0.9"/>
<rect x="379.67" y="591.9" width="16.32" height="23.6" fill="#fefefc" stroke="#ffffff" stroke-width="0.9"/>
<rect x="395.99" y="591.9" width="16.32" height="23.6" fill="#dceb95" stroke="#ffffff" stroke-width="0.9"/>
<rect x="412.3" y="591.9" width="16.32" height="23.6" fill="#f4f8e0" stroke="#ffffff" stroke-width="0.9"/>
<rect x="428.62" y="591.9" width="16.32" height="23.6" fill="#e8f2be" stroke="#ffffff" stroke-width="0.9"/>
<rect x="444.93" y="591.9" width="16.32" height="23.6" fill="#c5da2e" stroke="#ffffff" stroke-width="0.9"/>
<rect x="461.25" y="591.9" width="16.32" height="23.6" fill="#ecc996" stroke="#ffffff" stroke-width="0.9"/>
<rect x="477.56" y="591.9" width="16.32" height="23.6" fill="#f0e1bd" stroke="#ffffff" stroke-width="0.9"/>
<rect x="493.88" y="591.9" width="16.32" height="23.6" fill="#fefefc" stroke="#ffffff" stroke-width="0.9"/>
<rect x="510.19" y="591.9" width="16.32" height="23.6" fill="#e8f2be" stroke="#ffffff" stroke-width="0.9"/>
<rect x="526.51" y="591.9" width="16.32" height="23.6" fill="#f0e1bd" stroke="#ffffff" stroke-width="0.9"/>
<rect x="542.82" y="591.9" width="16.32" height="23.6" fill="#cbdf47" stroke="#ffffff" stroke-width="0.9"/>
<rect x="559.14" y="591.9" width="16.32" height="23.6" fill="#f0e1bd" stroke="#ffffff" stroke-width="0.9"/>
<rect x="575.45" y="591.9" width="16.32" height="23.6" fill="#ecc996" stroke="#ffffff" stroke-width="0.9"/>
<rect x="591.77" y="591.9" width="16.32" height="23.6" fill="#ecc996" stroke="#ffffff" stroke-width="0.9"/>
<rect x="608.08" y="591.9" width="16.32" height="23.6" fill="#cbdf47" stroke="#ffffff" stroke-width="0.9"/>
<rect x="86" y="615.5" width="16.32" height="23.4" fill="#dceb95" stroke="#ffffff" stroke-width="0.9"/>
<rect x="102.32" y="615.5" width="16.32" height="23.4" fill="#c5da2e" stroke="#ffffff" stroke-width="0.9"/>
<rect x="118.63" y="615.5" width="16.32" height="23.4" fill="#cbdf47" stroke="#ffffff" stroke-width="0.9"/>
<rect x="134.95" y="615.5" width="16.32" height="23.4" fill="#e8f2be" stroke="#ffffff" stroke-width="0.9"/>
<rect x="151.26" y="615.5" width="16.32" height="23.4" fill="#cbdf47" stroke="#ffffff" stroke-width="0.9"/>
<rect x="167.58" y="615.5" width="16.32" height="23.4" fill="#d3e46f" stroke="#ffffff" stroke-width="0.9"/>
<rect x="183.89" y="615.5" width="16.32" height="23.4" fill="#f0e1bd" stroke="#ffffff" stroke-width="0.9"/>
<rect x="200.21" y="615.5" width="16.32" height="23.4" fill="#dceb95" stroke="#ffffff" stroke-width="0.9"/>
<rect x="216.52" y="615.5" width="16.32" height="23.4" fill="#cbdf47" stroke="#ffffff" stroke-width="0.9"/>
<rect x="232.84" y="615.5" width="16.32" height="23.4" fill="#e8f2be" stroke="#ffffff" stroke-width="0.9"/>
<rect x="249.15" y="615.5" width="16.32" height="23.4" fill="#cbdf47" stroke="#ffffff" stroke-width="0.9"/>
<rect x="265.47" y="615.5" width="16.32" height="23.4" fill="#d3e46f" stroke="#ffffff" stroke-width="0.9"/>
<rect x="281.78" y="615.5" width="16.32" height="23.4" fill="#cbdf47" stroke="#ffffff" stroke-width="0.9"/>
<rect x="298.1" y="615.5" width="16.32" height="23.4" fill="#d3e46f" stroke="#ffffff" stroke-width="0.9"/>
<rect x="314.41" y="615.5" width="16.32" height="23.4" fill="#f4f8e0" stroke="#ffffff" stroke-width="0.9"/>
<rect x="330.73" y="615.5" width="16.32" height="23.4" fill="#d3e46f" stroke="#ffffff" stroke-width="0.9"/>
<rect x="347.04" y="615.5" width="16.32" height="23.4" fill="#d3e46f" stroke="#ffffff" stroke-width="0.9"/>
<rect x="363.36" y="615.5" width="16.32" height="23.4" fill="#dceb95" stroke="#ffffff" stroke-width="0.9"/>
<rect x="379.67" y="615.5" width="16.32" height="23.4" fill="#dceb95" stroke="#ffffff" stroke-width="0.9"/>
<rect x="395.99" y="615.5" width="16.32" height="23.4" fill="#ecc996" stroke="#ffffff" stroke-width="0.9"/>
<rect x="412.3" y="615.5" width="16.32" height="23.4" fill="#c5da2e" stroke="#ffffff" stroke-width="0.9"/>
<rect x="428.62" y="615.5" width="16.32" height="23.4" fill="#cbdf47" stroke="#ffffff" stroke-width="0.9"/>
<rect x="444.93" y="615.5" width="16.32" height="23.4" fill="#e8f2be" stroke="#ffffff" stroke-width="0.9"/>
<rect x="461.25" y="615.5" width="16.32" height="23.4" fill="#e8f2be" stroke="#ffffff" stroke-width="0.9"/>
<rect x="477.56" y="615.5" width="16.32" height="23.4" fill="#e8f2be" stroke="#ffffff" stroke-width="0.9"/>
<rect x="493.88" y="615.5" width="16.32" height="23.4" fill="#cbdf47" stroke="#ffffff" stroke-width="0.9"/>
<rect x="510.19" y="615.5" width="16.32" height="23.4" fill="#eba33c" stroke="#ffffff" stroke-width="0.9"/>
<rect x="526.51" y="615.5" width="16.32" height="23.4" fill="#f8f1e4" stroke="#ffffff" stroke-width="0.9"/>
<rect x="542.82" y="615.5" width="16.32" height="23.4" fill="#f4f8e0" stroke="#ffffff" stroke-width="0.9"/>
<rect x="559.14" y="615.5" width="16.32" height="23.4" fill="#e8f2be" stroke="#ffffff" stroke-width="0.9"/>
<rect x="575.45" y="615.5" width="16.32" height="23.4" fill="#e8f2be" stroke="#ffffff" stroke-width="0.9"/>
<rect x="591.77" y="615.5" width="16.32" height="23.4" fill="#f8f1e4" stroke="#ffffff" stroke-width="0.9"/>
<rect x="608.08" y="615.5" width="16.32" height="23.4" fill="#c5da2e" stroke="#ffffff" stroke-width="0.9"/>
<text transform="translate(93.46,556.5) rotate(90)" font-size="8.7" text-anchor="middle" dominant-baseline="central" fill="#111">0.01</text>
<text transform="translate(109.77,556.5) rotate(90)" font-size="8.7" text-anchor="middle" dominant-baseline="central" fill="#111">0.03</text>
<text transform="translate(126.09,556.5) rotate(90)" font-size="8.7" text-anchor="middle" dominant-baseline="central" fill="#111">0.08</text>
<text transform="translate(142.4,556.5) rotate(90)" font-size="8.7" text-anchor="middle" dominant-baseline="central" fill="#111">0.01</text>
<text transform="translate(158.72,556.5) rotate(90)" font-size="8.7" text-anchor="middle" dominant-baseline="central" fill="#111">0.04</text>
<text transform="translate(175.03,556.5) rotate(90)" font-size="8.7" text-anchor="middle" dominant-baseline="central" fill="#111">0.01</text>
<text transform="translate(191.35,556.5) rotate(90)" font-size="8.7" text-anchor="middle" dominant-baseline="central" fill="#111">0.10</text>
<text transform="translate(207.66,556.5) rotate(90)" font-size="8.7" text-anchor="middle" dominant-baseline="central" fill="#111">0.09</text>
<text transform="translate(223.98,556.5) rotate(90)" font-size="8.7" text-anchor="middle" dominant-baseline="central" fill="#111">0.05</text>
<text transform="translate(240.29,556.5) rotate(90)" font-size="8.7" text-anchor="middle" dominant-baseline="central" fill="#111">0.11</text>
<text transform="translate(256.61,556.5) rotate(90)" font-size="8.7" text-anchor="middle" dominant-baseline="central" fill="#111">0.10</text>
<text transform="translate(272.92,556.5) rotate(90)" font-size="8.7" text-anchor="middle" dominant-baseline="central" fill="#111">0.01</text>
<text transform="translate(289.24,556.5) rotate(90)" font-size="8.7" text-anchor="middle" dominant-baseline="central" fill="#111">0.07</text>
<text transform="translate(305.55,556.5) rotate(90)" font-size="8.7" text-anchor="middle" dominant-baseline="central" fill="#111">0.12</text>
<text transform="translate(321.87,556.5) rotate(90)" font-size="8.7" text-anchor="middle" dominant-baseline="central" fill="#111">0.01</text>
<text transform="translate(338.18,556.5) rotate(90)" font-size="8.7" text-anchor="middle" dominant-baseline="central" fill="#111">0.11</text>
<text transform="translate(354.5,556.5) rotate(90)" font-size="8.7" text-anchor="middle" dominant-baseline="central" fill="#111">0.11</text>
<text transform="translate(370.82,556.5) rotate(90)" font-size="8.7" text-anchor="middle" dominant-baseline="central" fill="#111">0.12</text>
<text transform="translate(387.13,556.5) rotate(90)" font-size="8.7" text-anchor="middle" dominant-baseline="central" fill="#111">0.11</text>
<text transform="translate(403.45,556.5) rotate(90)" font-size="8.7" text-anchor="middle" dominant-baseline="central" fill="#111">0.05</text>
<text transform="translate(419.76,556.5) rotate(90)" font-size="8.7" text-anchor="middle" dominant-baseline="central" fill="#111">0.05</text>
<text transform="translate(436.08,556.5) rotate(90)" font-size="8.7" text-anchor="middle" dominant-baseline="central" fill="#111">0.08</text>
<text transform="translate(452.39,556.5) rotate(90)" font-size="8.7" text-anchor="middle" dominant-baseline="central" fill="#111">0.00</text>
<text transform="translate(468.71,556.5) rotate(90)" font-size="8.7" text-anchor="middle" dominant-baseline="central" fill="#111">0.13</text>
<text transform="translate(485.02,556.5) rotate(90)" font-size="8.7" text-anchor="middle" dominant-baseline="central" fill="#111">0.12</text>
<text transform="translate(501.34,556.5) rotate(90)" font-size="8.7" text-anchor="middle" dominant-baseline="central" fill="#111">0.09</text>
<text transform="translate(517.65,556.5) rotate(90)" font-size="8.7" text-anchor="middle" dominant-baseline="central" fill="#111">0.03</text>
<text transform="translate(533.97,556.5) rotate(90)" font-size="8.7" text-anchor="middle" dominant-baseline="central" fill="#111">0.10</text>
<text transform="translate(550.28,556.5) rotate(90)" font-size="8.7" text-anchor="middle" dominant-baseline="central" fill="#111">0.01</text>
<text transform="translate(566.6,556.5) rotate(90)" font-size="8.7" text-anchor="middle" dominant-baseline="central" fill="#111">0.12</text>
<text transform="translate(582.91,556.5) rotate(90)" font-size="8.7" text-anchor="middle" dominant-baseline="central" fill="#111">0.13</text>
<text transform="translate(599.23,556.5) rotate(90)" font-size="8.7" text-anchor="middle" dominant-baseline="central" fill="#111">0.12</text>
<text transform="translate(615.54,556.5) rotate(90)" font-size="8.7" text-anchor="middle" dominant-baseline="central" fill="#111">0.02</text>
<text transform="translate(93.46,580.1) rotate(90)" font-size="8.7" text-anchor="middle" dominant-baseline="central" fill="#111">0.01</text>
<text transform="translate(109.77,580.1) rotate(90)" font-size="8.7" text-anchor="middle" dominant-baseline="central" fill="#111">0.01</text>
<text transform="translate(126.09,580.1) rotate(90)" font-size="8.7" text-anchor="middle" dominant-baseline="central" fill="#111">0.10</text>
<text transform="translate(142.4,580.1) rotate(90)" font-size="8.7" text-anchor="middle" dominant-baseline="central" fill="#111">0.00</text>
<text transform="translate(158.72,580.1) rotate(90)" font-size="8.7" text-anchor="middle" dominant-baseline="central" fill="#111">0.02</text>
<text transform="translate(175.03,580.1) rotate(90)" font-size="8.7" text-anchor="middle" dominant-baseline="central" fill="#111">0.01</text>
<text transform="translate(191.35,580.1) rotate(90)" font-size="8.7" text-anchor="middle" dominant-baseline="central" fill="#111">0.10</text>
<text transform="translate(207.66,580.1) rotate(90)" font-size="8.7" text-anchor="middle" dominant-baseline="central" fill="#111">0.09</text>
<text transform="translate(223.98,580.1) rotate(90)" font-size="8.7" text-anchor="middle" dominant-baseline="central" fill="#111">0.01</text>
<text transform="translate(240.29,580.1) rotate(90)" font-size="8.7" text-anchor="middle" dominant-baseline="central" fill="#111">0.03</text>
<text transform="translate(256.61,580.1) rotate(90)" font-size="8.7" text-anchor="middle" dominant-baseline="central" fill="#111">0.01</text>
<text transform="translate(272.92,580.1) rotate(90)" font-size="8.7" text-anchor="middle" dominant-baseline="central" fill="#111">0.00</text>
<text transform="translate(289.24,580.1) rotate(90)" font-size="8.7" text-anchor="middle" dominant-baseline="central" fill="#111">0.02</text>
<text transform="translate(305.55,580.1) rotate(90)" font-size="8.7" text-anchor="middle" dominant-baseline="central" fill="#111">0.02</text>
<text transform="translate(321.87,580.1) rotate(90)" font-size="8.7" text-anchor="middle" dominant-baseline="central" fill="#111">0.02</text>
<text transform="translate(338.18,580.1) rotate(90)" font-size="8.7" text-anchor="middle" dominant-baseline="central" fill="#111">0.09</text>
<text transform="translate(354.5,580.1) rotate(90)" font-size="8.7" text-anchor="middle" dominant-baseline="central" fill="#111">0.10</text>
<text transform="translate(370.82,580.1) rotate(90)" font-size="8.7" text-anchor="middle" dominant-baseline="central" fill="#111">0.02</text>
<text transform="translate(387.13,580.1) rotate(90)" font-size="8.7" text-anchor="middle" dominant-baseline="central" fill="#111">0.03</text>
<text transform="translate(403.45,580.1) rotate(90)" font-size="8.7" text-anchor="middle" dominant-baseline="central" fill="#111">0.01</text>
<text transform="translate(419.76,580.1) rotate(90)" font-size="8.7" text-anchor="middle" dominant-baseline="central" fill="#111">0.00</text>
<text transform="translate(436.08,580.1) rotate(90)" font-size="8.7" text-anchor="middle" dominant-baseline="central" fill="#111">0.02</text>
<text transform="translate(452.39,580.1) rotate(90)" font-size="8.7" text-anchor="middle" dominant-baseline="central" fill="#111">0.01</text>
<text transform="translate(468.71,580.1) rotate(90)" font-size="8.7" text-anchor="middle" dominant-baseline="central" fill="#111">0.07</text>
<text transform="translate(485.02,580.1) rotate(90)" font-size="8.7" text-anchor="middle" dominant-baseline="central" fill="#111">0.02</text>
<text transform="translate(501.34,580.1) rotate(90)" font-size="8.7" text-anchor="middle" dominant-baseline="central" fill="#111">0.02</text>
<text transform="translate(517.65,580.1) rotate(90)" font-size="8.7" text-anchor="middle" dominant-baseline="central" fill="#111">0.01</text>
<text transform="translate(533.97,580.1) rotate(90)" font-size="8.7" text-anchor="middle" dominant-baseline="central" fill="#111">0.12</text>
<text transform="translate(550.28,580.1) rotate(90)" font-size="8.7" text-anchor="middle" dominant-baseline="central" fill="#111">0.01</text>
<text transform="translate(566.6,580.1) rotate(90)" font-size="8.7" text-anchor="middle" dominant-baseline="central" fill="#111">0.06</text>
<text transform="translate(582.91,580.1) rotate(90)" font-size="8.7" text-anchor="middle" dominant-baseline="central" fill="#111">0.08</text>
<text transform="translate(599.23,580.1) rotate(90)" font-size="8.7" text-anchor="middle" dominant-baseline="central" fill="#111">0.09</text>
<text transform="translate(615.54,580.1) rotate(90)" font-size="8.7" text-anchor="middle" dominant-baseline="central" fill="#111">0.00</text>
<text transform="translate(93.46,603.7) rotate(90)" font-size="8.7" text-anchor="middle" dominant-baseline="central" fill="#111">0.02</text>
<text transform="translate(109.77,603.7) rotate(90)" font-size="8.7" text-anchor="middle" dominant-baseline="central" fill="#111">0.02</text>
<text transform="translate(126.09,603.7) rotate(90)" font-size="8.7" text-anchor="middle" dominant-baseline="central" fill="#111">0.07</text>
<text transform="translate(142.4,603.7) rotate(90)" font-size="8.7" text-anchor="middle" dominant-baseline="central" fill="#111">0.00</text>
<text transform="translate(158.72,603.7) rotate(90)" font-size="8.7" text-anchor="middle" dominant-baseline="central" fill="#111">0.02</text>
<text transform="translate(175.03,603.7) rotate(90)" font-size="8.7" text-anchor="middle" dominant-baseline="central" fill="#111">0.01</text>
<text transform="translate(191.35,603.7) rotate(90)" font-size="8.7" text-anchor="middle" dominant-baseline="central" fill="#111">0.08</text>
<text transform="translate(207.66,603.7) rotate(90)" font-size="8.7" text-anchor="middle" dominant-baseline="central" fill="#111">0.08</text>
<text transform="translate(223.98,603.7) rotate(90)" font-size="8.7" text-anchor="middle" dominant-baseline="central" fill="#111">0.02</text>
<text transform="translate(240.29,603.7) rotate(90)" font-size="8.7" text-anchor="middle" dominant-baseline="central" fill="#111">0.06</text>
<text transform="translate(256.61,603.7) rotate(90)" font-size="8.7" text-anchor="middle" dominant-baseline="central" fill="#111">0.05</text>
<text transform="translate(272.92,603.7) rotate(90)" font-size="8.7" text-anchor="middle" dominant-baseline="central" fill="#111">0.00</text>
<text transform="translate(289.24,603.7) rotate(90)" font-size="8.7" text-anchor="middle" dominant-baseline="central" fill="#111">0.02</text>
<text transform="translate(305.55,603.7) rotate(90)" font-size="8.7" text-anchor="middle" dominant-baseline="central" fill="#111">0.08</text>
<text transform="translate(321.87,603.7) rotate(90)" font-size="8.7" text-anchor="middle" dominant-baseline="central" fill="#111">0.01</text>
<text transform="translate(338.18,603.7) rotate(90)" font-size="8.7" text-anchor="middle" dominant-baseline="central" fill="#111">0.09</text>
<text transform="translate(354.5,603.7) rotate(90)" font-size="8.7" text-anchor="middle" dominant-baseline="central" fill="#111">0.09</text>
<text transform="translate(370.82,603.7) rotate(90)" font-size="8.7" text-anchor="middle" dominant-baseline="central" fill="#111">0.08</text>
<text transform="translate(387.13,603.7) rotate(90)" font-size="8.7" text-anchor="middle" dominant-baseline="central" fill="#111">0.06</text>
<text transform="translate(403.45,603.7) rotate(90)" font-size="8.7" text-anchor="middle" dominant-baseline="central" fill="#111">0.03</text>
<text transform="translate(419.76,603.7) rotate(90)" font-size="8.7" text-anchor="middle" dominant-baseline="central" fill="#111">0.05</text>
<text transform="translate(436.08,603.7) rotate(90)" font-size="8.7" text-anchor="middle" dominant-baseline="central" fill="#111">0.04</text>
<text transform="translate(452.39,603.7) rotate(90)" font-size="8.7" text-anchor="middle" dominant-baseline="central" fill="#111">0.00</text>
<text transform="translate(468.71,603.7) rotate(90)" font-size="8.7" text-anchor="middle" dominant-baseline="central" fill="#111">0.09</text>
<text transform="translate(485.02,603.7) rotate(90)" font-size="8.7" text-anchor="middle" dominant-baseline="central" fill="#111">0.08</text>
<text transform="translate(501.34,603.7) rotate(90)" font-size="8.7" text-anchor="middle" dominant-baseline="central" fill="#111">0.06</text>
<text transform="translate(517.65,603.7) rotate(90)" font-size="8.7" text-anchor="middle" dominant-baseline="central" fill="#111">0.04</text>
<text transform="translate(533.97,603.7) rotate(90)" font-size="8.7" text-anchor="middle" dominant-baseline="central" fill="#111">0.08</text>
<text transform="translate(550.28,603.7) rotate(90)" font-size="8.7" text-anchor="middle" dominant-baseline="central" fill="#111">0.01</text>
<text transform="translate(566.6,603.7) rotate(90)" font-size="8.7" text-anchor="middle" dominant-baseline="central" fill="#111">0.08</text>
<text transform="translate(582.91,603.7) rotate(90)" font-size="8.7" text-anchor="middle" dominant-baseline="central" fill="#111">0.09</text>
<text transform="translate(599.23,603.7) rotate(90)" font-size="8.7" text-anchor="middle" dominant-baseline="central" fill="#111">0.09</text>
<text transform="translate(615.54,603.7) rotate(90)" font-size="8.7" text-anchor="middle" dominant-baseline="central" fill="#111">0.01</text>
<text transform="translate(93.46,627.2) rotate(90)" font-size="8.7" text-anchor="middle" dominant-baseline="central" fill="#111">0.03</text>
<text transform="translate(109.77,627.2) rotate(90)" font-size="8.7" text-anchor="middle" dominant-baseline="central" fill="#111">0.00</text>
<text transform="translate(126.09,627.2) rotate(90)" font-size="8.7" text-anchor="middle" dominant-baseline="central" fill="#111">0.01</text>
<text transform="translate(142.4,627.2) rotate(90)" font-size="8.7" text-anchor="middle" dominant-baseline="central" fill="#111">0.04</text>
<text transform="translate(158.72,627.2) rotate(90)" font-size="8.7" text-anchor="middle" dominant-baseline="central" fill="#111">0.01</text>
<text transform="translate(175.03,627.2) rotate(90)" font-size="8.7" text-anchor="middle" dominant-baseline="central" fill="#111">0.02</text>
<text transform="translate(191.35,627.2) rotate(90)" font-size="8.7" text-anchor="middle" dominant-baseline="central" fill="#111">0.08</text>
<text transform="translate(207.66,627.2) rotate(90)" font-size="8.7" text-anchor="middle" dominant-baseline="central" fill="#111">0.03</text>
<text transform="translate(223.98,627.2) rotate(90)" font-size="8.7" text-anchor="middle" dominant-baseline="central" fill="#111">0.01</text>
<text transform="translate(240.29,627.2) rotate(90)" font-size="8.7" text-anchor="middle" dominant-baseline="central" fill="#111">0.04</text>
<text transform="translate(256.61,627.2) rotate(90)" font-size="8.7" text-anchor="middle" dominant-baseline="central" fill="#111">0.01</text>
<text transform="translate(272.92,627.2) rotate(90)" font-size="8.7" text-anchor="middle" dominant-baseline="central" fill="#111">0.02</text>
<text transform="translate(289.24,627.2) rotate(90)" font-size="8.7" text-anchor="middle" dominant-baseline="central" fill="#111">0.01</text>
<text transform="translate(305.55,627.2) rotate(90)" font-size="8.7" text-anchor="middle" dominant-baseline="central" fill="#111">0.02</text>
<text transform="translate(321.87,627.2) rotate(90)" font-size="8.7" text-anchor="middle" dominant-baseline="central" fill="#111">0.05</text>
<text transform="translate(338.18,627.2) rotate(90)" font-size="8.7" text-anchor="middle" dominant-baseline="central" fill="#111">0.02</text>
<text transform="translate(354.5,627.2) rotate(90)" font-size="8.7" text-anchor="middle" dominant-baseline="central" fill="#111">0.02</text>
<text transform="translate(370.82,627.2) rotate(90)" font-size="8.7" text-anchor="middle" dominant-baseline="central" fill="#111">0.03</text>
<text transform="translate(387.13,627.2) rotate(90)" font-size="8.7" text-anchor="middle" dominant-baseline="central" fill="#111">0.03</text>
<text transform="translate(403.45,627.2) rotate(90)" font-size="8.7" text-anchor="middle" dominant-baseline="central" fill="#111">0.09</text>
<text transform="translate(419.76,627.2) rotate(90)" font-size="8.7" text-anchor="middle" dominant-baseline="central" fill="#111">0.00</text>
<text transform="translate(436.08,627.2) rotate(90)" font-size="8.7" text-anchor="middle" dominant-baseline="central" fill="#111">0.01</text>
<text transform="translate(452.39,627.2) rotate(90)" font-size="8.7" text-anchor="middle" dominant-baseline="central" fill="#111">0.04</text>
<text transform="translate(468.71,627.2) rotate(90)" font-size="8.7" text-anchor="middle" dominant-baseline="central" fill="#111">0.04</text>
<text transform="translate(485.02,627.2) rotate(90)" font-size="8.7" text-anchor="middle" dominant-baseline="central" fill="#111">0.04</text>
<text transform="translate(501.34,627.2) rotate(90)" font-size="8.7" text-anchor="middle" dominant-baseline="central" fill="#111">0.01</text>
<text transform="translate(517.65,627.2) rotate(90)" font-size="8.7" text-anchor="middle" dominant-baseline="central" fill="#111">0.12</text>
<text transform="translate(533.97,627.2) rotate(90)" font-size="8.7" text-anchor="middle" dominant-baseline="central" fill="#111">0.07</text>
<text transform="translate(550.28,627.2) rotate(90)" font-size="8.7" text-anchor="middle" dominant-baseline="central" fill="#111">0.05</text>
<text transform="translate(566.6,627.2) rotate(90)" font-size="8.7" text-anchor="middle" dominant-baseline="central" fill="#111">0.04</text>
<text transform="translate(582.91,627.2) rotate(90)" font-size="8.7" text-anchor="middle" dominant-baseline="central" fill="#111">0.04</text>
<text transform="translate(599.23,627.2) rotate(90)" font-size="8.7" text-anchor="middle" dominant-baseline="central" fill="#111">0.07</text>
<text transform="translate(615.54,627.2) rotate(90)" font-size="8.7" text-anchor="middle" dominant-baseline="central" fill="#111">0.00</text>
<text x="83.3" y="555" font-size="9.3" text-anchor="end" dominant-baseline="central" fill="#1a1a1a">geMER</text>
<text x="83.3" y="578.6" font-size="9.3" text-anchor="end" dominant-baseline="central" fill="#1a1a1a">OncodriveFML</text>
<text x="83.3" y="602.2" font-size="9.3" text-anchor="end" dominant-baseline="central" fill="#1a1a1a">ActiveDriverWGS</text>
<text x="83.3" y="625.7" font-size="9.3" text-anchor="end" dominant-baseline="central" fill="#1a1a1a">Driverpower</text>
<text transform="translate(89.8,642.3) rotate(90)" font-size="10.5" text-anchor="start" dominant-baseline="central" fill="#1a1a1a">UVM</text>
<text transform="translate(106.3,642.3) rotate(90)" font-size="10.5" text-anchor="start" dominant-baseline="central" fill="#1a1a1a">UCS</text>
<text transform="translate(122.8,642.3) rotate(90)" font-size="10.5" text-anchor="start" dominant-baseline="central" fill="#1a1a1a">UCEC</text>
<text transform="translate(139.3,642.3) rotate(90)" font-size="10.5" text-anchor="start" dominant-baseline="central" fill="#1a1a1a">THYM</text>
<text transform="translate(155.8,642.3) rotate(90)" font-size="10.5" text-anchor="start" dominant-baseline="central" fill="#1a1a1a">THCA</text>
<text transform="translate(172.3,642.3) rotate(90)" font-size="10.5" text-anchor="start" dominant-baseline="central" fill="#1a1a1a">TGCT</text>
<text transform="translate(188.8,642.3) rotate(90)" font-size="10.5" text-anchor="start" dominant-baseline="central" fill="#1a1a1a">STAD</text>
<text transform="translate(205.3,642.3) rotate(90)" font-size="10.5" text-anchor="start" dominant-baseline="central" fill="#1a1a1a">SKCM</text>
<text transform="translate(221.8,642.3) rotate(90)" font-size="10.5" text-anchor="start" dominant-baseline="central" fill="#1a1a1a">SARC</text>
<text transform="translate(238.3,642.3) rotate(90)" font-size="10.5" text-anchor="start" dominant-baseline="central" fill="#1a1a1a">READ</text>
<text transform="translate(254.8,642.3) rotate(90)" font-size="10.5" text-anchor="start" dominant-baseline="central" fill="#1a1a1a">PRAD</text>
<text transform="translate(271.3,642.3) rotate(90)" font-size="10.5" text-anchor="start" dominant-baseline="central" fill="#1a1a1a">PCPG</text>
<text transform="translate(287.8,642.3) rotate(90)" font-size="10.5" text-anchor="start" dominant-baseline="central" fill="#1a1a1a">PAAD</text>
<text transform="translate(304.3,642.3) rotate(90)" font-size="10.5" text-anchor="start" dominant-baseline="central" fill="#1a1a1a">OV</text>
<text transform="translate(320.8,642.3) rotate(90)" font-size="10.5" text-anchor="start" dominant-baseline="central" fill="#1a1a1a">MESO</text>
<text transform="translate(337.3,642.3) rotate(90)" font-size="10.5" text-anchor="start" dominant-baseline="central" fill="#1a1a1a">LUSC</text>
<text transform="translate(353.8,642.3) rotate(90)" font-size="10.5" text-anchor="start" dominant-baseline="central" fill="#1a1a1a">LUAD</text>
<text transform="translate(370.3,642.3) rotate(90)" font-size="10.5" text-anchor="start" dominant-baseline="central" fill="#1a1a1a">LIHC</text>
<text transform="translate(386.8,642.3) rotate(90)" font-size="10.5" text-anchor="start" dominant-baseline="central" fill="#1a1a1a">LGG</text>
<text transform="translate(403.3,642.3) rotate(90)" font-size="10.5" text-anchor="start" dominant-baseline="central" fill="#1a1a1a">LAML</text>
<text transform="translate(419.8,642.3) rotate(90)" font-size="10.5" text-anchor="start" dominant-baseline="central" fill="#1a1a1a">KIRP</text>
<text transform="translate(436.3,642.3) rotate(90)" font-size="10.5" text-anchor="start" dominant-baseline="central" fill="#1a1a1a">KIRC</text>
<text transform="translate(452.8,642.3) rotate(90)" font-size="10.5" text-anchor="start" dominant-baseline="central" fill="#1a1a1a">KICH</text>
<text transform="translate(469.3,642.3) rotate(90)" font-size="10.5" text-anchor="start" dominant-baseline="central" fill="#1a1a1a">HNSC</text>
<text transform="translate(485.8,642.3) rotate(90)" font-size="10.5" text-anchor="start" dominant-baseline="central" fill="#1a1a1a">GBM</text>
<text transform="translate(502.3,642.3) rotate(90)" font-size="10.5" text-anchor="start" dominant-baseline="central" fill="#1a1a1a">ESCA</text>
<text transform="translate(518.8,642.3) rotate(90)" font-size="10.5" text-anchor="start" dominant-baseline="central" fill="#1a1a1a">DLBC</text>
<text transform="translate(535.3,642.3) rotate(90)" font-size="10.5" text-anchor="start" dominant-baseline="central" fill="#1a1a1a">COAD</text>
<text transform="translate(551.8,642.3) rotate(90)" font-size="10.5" text-anchor="start" dominant-baseline="central" fill="#1a1a1a">CHOL</text>
<text transform="translate(568.3,642.3) rotate(90)" font-size="10.5" text-anchor="start" dominant-baseline="central" fill="#1a1a1a">CESC</text>
<text transform="translate(584.8,642.3) rotate(90)" font-size="10.5" text-anchor="start" dominant-baseline="central" fill="#1a1a1a">BRCA</text>
<text transform="translate(601.3,642.3) rotate(90)" font-size="10.5" text-anchor="start" dominant-baseline="central" fill="#1a1a1a">BLCA</text>
<text transform="translate(617.8,642.3) rotate(90)" font-size="10.5" text-anchor="start" dominant-baseline="central" fill="#1a1a1a">ACC</text>
<rect x="638.8" y="553.9" width="6.6" height="97.9" fill="url(#gE)"/>
<text x="632.5" y="544.9" font-size="9.9" text-anchor="start" dominant-baseline="central" fill="#1a1a1a">F1 score</text>
<text x="648.5" y="558.9" font-size="9.3" text-anchor="start" dominant-baseline="central" fill="#1a1a1a">0.12</text>
<text x="648.5" y="574.22" font-size="9.3" text-anchor="start" dominant-baseline="central" fill="#1a1a1a">0.1</text>
<text x="648.5" y="589.53" font-size="9.3" text-anchor="start" dominant-baseline="central" fill="#1a1a1a">0.08</text>
<text x="648.5" y="604.85" font-size="9.3" text-anchor="start" dominant-baseline="central" fill="#1a1a1a">0.06</text>
<text x="648.5" y="620.17" font-size="9.3" text-anchor="start" dominant-baseline="central" fill="#1a1a1a">0.04</text>
<text x="648.5" y="635.48" font-size="9.3" text-anchor="start" dominant-baseline="central" fill="#1a1a1a">0.02</text>
<text x="648.5" y="650.8" font-size="9.3" text-anchor="start" dominant-baseline="central" fill="#1a1a1a">0</text>
<text x="0.3" y="700.8" font-size="27.5" text-anchor="start" dominant-baseline="auto" fill="#1a1a1a">F</text>
<circle cx="115.6" cy="774" r="83.2" fill="#f8f8f8"/>
<line x1="115.6" y1="774" x2="115.6" y2="690.8" stroke="#c0c0c0" stroke-width="1.3"/>
<line x1="115.6" y1="774" x2="131.35" y2="692.3" stroke="#c0c0c0" stroke-width="1.3"/>
<line x1="115.6" y1="774" x2="146.52" y2="696.76" stroke="#c0c0c0" stroke-width="1.3"/>
<line x1="115.6" y1="774" x2="160.58" y2="704.01" stroke="#c0c0c0" stroke-width="1.3"/>
<line x1="115.6" y1="774" x2="173.01" y2="713.79" stroke="#c0c0c0" stroke-width="1.3"/>
<line x1="115.6" y1="774" x2="183.37" y2="725.74" stroke="#c0c0c0" stroke-width="1.3"/>
<line x1="115.6" y1="774" x2="191.28" y2="739.44" stroke="#c0c0c0" stroke-width="1.3"/>
<line x1="115.6" y1="774" x2="196.45" y2="754.38" stroke="#c0c0c0" stroke-width="1.3"/>
<line x1="115.6" y1="774" x2="198.71" y2="770.04" stroke="#c0c0c0" stroke-width="1.3"/>
<line x1="115.6" y1="774" x2="197.95" y2="785.84" stroke="#c0c0c0" stroke-width="1.3"/>
<line x1="115.6" y1="774" x2="194.22" y2="801.21" stroke="#c0c0c0" stroke-width="1.3"/>
<line x1="115.6" y1="774" x2="187.65" y2="815.6" stroke="#c0c0c0" stroke-width="1.3"/>
<line x1="115.6" y1="774" x2="178.48" y2="828.48" stroke="#c0c0c0" stroke-width="1.3"/>
<line x1="115.6" y1="774" x2="167.03" y2="839.4" stroke="#c0c0c0" stroke-width="1.3"/>
<line x1="115.6" y1="774" x2="153.72" y2="847.95" stroke="#c0c0c0" stroke-width="1.3"/>
<line x1="115.6" y1="774" x2="139.04" y2="853.83" stroke="#c0c0c0" stroke-width="1.3"/>
<line x1="115.6" y1="774" x2="123.51" y2="856.82" stroke="#c0c0c0" stroke-width="1.3"/>
<line x1="115.6" y1="774" x2="107.69" y2="856.82" stroke="#c0c0c0" stroke-width="1.3"/>
<line x1="115.6" y1="774" x2="92.16" y2="853.83" stroke="#c0c0c0" stroke-width="1.3"/>
<line x1="115.6" y1="774" x2="77.48" y2="847.95" stroke="#c0c0c0" stroke-width="1.3"/>
<line x1="115.6" y1="774" x2="64.17" y2="839.4" stroke="#c0c0c0" stroke-width="1.3"/>
<line x1="115.6" y1="774" x2="52.72" y2="828.48" stroke="#c0c0c0" stroke-width="1.3"/>
<line x1="115.6" y1="774" x2="43.55" y2="815.6" stroke="#c0c0c0" stroke-width="1.3"/>
<line x1="115.6" y1="774" x2="36.98" y2="801.21" stroke="#c0c0c0" stroke-width="1.3"/>
<line x1="115.6" y1="774" x2="33.25" y2="785.84" stroke="#c0c0c0" stroke-width="1.3"/>
<line x1="115.6" y1="774" x2="32.49" y2="770.04" stroke="#c0c0c0" stroke-width="1.3"/>
<line x1="115.6" y1="774" x2="34.75" y2="754.38" stroke="#c0c0c0" stroke-width="1.3"/>
<line x1="115.6" y1="774" x2="39.92" y2="739.44" stroke="#c0c0c0" stroke-width="1.3"/>
<line x1="115.6" y1="774" x2="47.83" y2="725.74" stroke="#c0c0c0" stroke-width="1.3"/>
<line x1="115.6" y1="774" x2="58.19" y2="713.79" stroke="#c0c0c0" stroke-width="1.3"/>
<line x1="115.6" y1="774" x2="70.62" y2="704.01" stroke="#c0c0c0" stroke-width="1.3"/>
<line x1="115.6" y1="774" x2="84.68" y2="696.76" stroke="#c0c0c0" stroke-width="1.3"/>
<line x1="115.6" y1="774" x2="99.85" y2="692.3" stroke="#c0c0c0" stroke-width="1.3"/>
<circle cx="115.6" cy="774" r="83.2" fill="none" stroke="#bdbdbd" stroke-width="1.4" stroke-dasharray="11.09,4.75" stroke-dashoffset="4.75" transform="rotate(-90 115.6 774)"/>
<circle cx="115.6" cy="774" r="45.4" fill="none" stroke="#2f8f96" stroke-width="1.1" stroke-dasharray="5,3"/>
<path d="M115.6,765.56 L124.09,729.94 L127.46,744.38 L128.31,754.23 L121.85,767.45 L157.38,744.25 L125.52,769.47 L127.4,771.14 L130.19,773.3 L153.29,779.42 L123.57,776.76 L123.97,778.84 L121.97,779.52 L120.81,780.63 L120.03,782.6 L122.08,796.08 L120.42,824.45 L111.15,820.63 L112.88,783.28 L106.64,791.38 L109.62,781.6 L109.23,779.52 L107.23,778.84 L99.46,779.59 L104.81,775.55 L63.62,771.52 L72.59,763.57 L107.93,770.5 L108.73,769.11 L110.21,768.34 L90.47,734.9 L112.46,766.17 L114.12,766.32 Z" fill="none" stroke="#f2dfb6" stroke-width="2.5" stroke-linejoin="round"/>
<path d="M115.6,766.18 L119.56,753.47 L120.11,762.73 L121.5,764.83 L121.42,767.9 L142.49,754.85 L132.49,766.29 L126.2,771.43 L126.49,773.48 L127.62,775.73 L123.57,776.76 L122.91,778.22 L121.51,779.12 L120.43,780.15 L119.47,781.5 L118.67,784.46 L116.75,786.09 L114.45,786.09 L113.22,782.09 L110.6,783.69 L110.39,780.63 L109.69,779.12 L108.29,778.22 L105.29,777.57 L106.03,775.38 L89.9,772.78 L82.2,765.9 L108.49,770.75 L108.73,769.11 L110.21,768.34 L110.37,765.86 L112.69,766.74 L114.12,766.32 Z" fill="none" stroke="#c3d838" stroke-width="2.5" stroke-linejoin="round"/>
<path d="M115.6,764.33 L122.64,737.46 L128.47,741.86 L130.38,751.01 L122.27,767 L162.11,740.88 L125.52,769.47 L131.24,770.21 L143.89,772.65 L147.18,778.54 L124.74,777.16 L125.04,779.45 L122.91,780.33 L120.81,780.63 L122.97,788.3 L119.89,788.61 L119.98,819.9 L111.45,817.44 L112.88,783.28 L103.25,797.96 L108.86,782.57 L109.23,779.52 L103.37,781.06 L95.96,780.8 L103.58,775.73 L58.44,771.28 L66.59,762.11 L107.93,770.5 L107.72,768.39 L109.78,767.9 L71.38,705.19 L112.01,765.02 L114.12,766.32 Z" fill="none" stroke="#e8902a" stroke-width="2.5" stroke-linejoin="round"/>
<path d="M115.6,766.18 L117.66,763.29 L120.66,761.35 L121.5,764.83 L121.42,767.9 L136.96,758.79 L124.4,769.98 L125,771.72 L125.26,773.54 L126.39,775.55 L122.99,776.56 L122.91,778.22 L121.51,779.12 L120.43,780.15 L119.47,781.5 L118.32,783.28 L117.29,791.74 L114.2,788.67 L113.22,782.09 L110.6,783.69 L110.39,780.63 L109.69,779.12 L108.29,778.22 L105.29,777.57 L106.03,775.38 L87.19,772.65 L96.6,769.39 L108.49,770.75 L108.73,769.11 L110.21,768.34 L82.93,723.16 L112.69,766.74 L114.12,766.32 Z" fill="none" stroke="#3b78c0" stroke-width="2.5" stroke-linejoin="round"/>
<circle cx="115.6" cy="765.56" r="2.6" fill="#f2dfb6"/>
<circle cx="124.09" cy="729.94" r="2.6" fill="#f2dfb6"/>
<circle cx="127.46" cy="744.38" r="2.6" fill="#f2dfb6"/>
<circle cx="128.31" cy="754.23" r="2.6" fill="#f2dfb6"/>
<circle cx="121.85" cy="767.45" r="2.6" fill="#f2dfb6"/>
<circle cx="157.38" cy="744.25" r="2.6" fill="#f2dfb6"/>
<circle cx="125.52" cy="769.47" r="2.6" fill="#f2dfb6"/>
<circle cx="127.4" cy="771.14" r="2.6" fill="#f2dfb6"/>
<circle cx="130.19" cy="773.3" r="2.6" fill="#f2dfb6"/>
<circle cx="153.29" cy="779.42" r="2.6" fill="#f2dfb6"/>
<circle cx="123.57" cy="776.76" r="2.6" fill="#f2dfb6"/>
<circle cx="123.97" cy="778.84" r="2.6" fill="#f2dfb6"/>
<circle cx="121.97" cy="779.52" r="2.6" fill="#f2dfb6"/>
<circle cx="120.81" cy="780.63" r="2.6" fill="#f2dfb6"/>
<circle cx="120.03" cy="782.6" r="2.6" fill="#f2dfb6"/>
<circle cx="122.08" cy="796.08" r="2.6" fill="#f2dfb6"/>
<circle cx="120.42" cy="824.45" r="2.6" fill="#f2dfb6"/>
<circle cx="111.15" cy="820.63" r="2.6" fill="#f2dfb6"/>
<circle cx="112.88" cy="783.28" r="2.6" fill="#f2dfb6"/>
<circle cx="106.64" cy="791.38" r="2.6" fill="#f2dfb6"/>
<circle cx="109.62" cy="781.6" r="2.6" fill="#f2dfb6"/>
<circle cx="109.23" cy="779.52" r="2.6" fill="#f2dfb6"/>
<circle cx="107.23" cy="778.84" r="2.6" fill="#f2dfb6"/>
<circle cx="99.46" cy="779.59" r="2.6" fill="#f2dfb6"/>
<circle cx="104.81" cy="775.55" r="2.6" fill="#f2dfb6"/>
<circle cx="63.62" cy="771.52" r="2.6" fill="#f2dfb6"/>
<circle cx="72.59" cy="763.57" r="2.6" fill="#f2dfb6"/>
<circle cx="107.93" cy="770.5" r="2.6" fill="#f2dfb6"/>
<circle cx="108.73" cy="769.11" r="2.6" fill="#f2dfb6"/>
<circle cx="110.21" cy="768.34" r="2.6" fill="#f2dfb6"/>
<circle cx="90.47" cy="734.9" r="2.6" fill="#f2dfb6"/>
<circle cx="112.46" cy="766.17" r="2.6" fill="#f2dfb6"/>
<circle cx="114.12" cy="766.32" r="2.6" fill="#f2dfb6"/>
<circle cx="115.6" cy="766.18" r="2.6" fill="#c3d838"/>
<circle cx="119.56" cy="753.47" r="2.6" fill="#c3d838"/>
<circle cx="120.11" cy="762.73" r="2.6" fill="#c3d838"/>
<circle cx="121.5" cy="764.83" r="2.6" fill="#c3d838"/>
<circle cx="121.42" cy="767.9" r="2.6" fill="#c3d838"/>
<circle cx="142.49" cy="754.85" r="2.6" fill="#c3d838"/>
<circle cx="132.49" cy="766.29" r="2.6" fill="#c3d838"/>
<circle cx="126.2" cy="771.43" r="2.6" fill="#c3d838"/>
<circle cx="126.49" cy="773.48" r="2.6" fill="#c3d838"/>
<circle cx="127.62" cy="775.73" r="2.6" fill="#c3d838"/>
<circle cx="123.57" cy="776.76" r="2.6" fill="#c3d838"/>
<circle cx="122.91" cy="778.22" r="2.6" fill="#c3d838"/>
<circle cx="121.51" cy="779.12" r="2.6" fill="#c3d838"/>
<circle cx="120.43" cy="780.15" r="2.6" fill="#c3d838"/>
<circle cx="119.47" cy="781.5" r="2.6" fill="#c3d838"/>
<circle cx="118.67" cy="784.46" r="2.6" fill="#c3d838"/>
<circle cx="116.75" cy="786.09" r="2.6" fill="#c3d838"/>
<circle cx="114.45" cy="786.09" r="2.6" fill="#c3d838"/>
<circle cx="113.22" cy="782.09" r="2.6" fill="#c3d838"/>
<circle cx="110.6" cy="783.69" r="2.6" fill="#c3d838"/>
<circle cx="110.39" cy="780.63" r="2.6" fill="#c3d838"/>
<circle cx="109.69" cy="779.12" r="2.6" fill="#c3d838"/>
<circle cx="108.29" cy="778.22" r="2.6" fill="#c3d838"/>
<circle cx="105.29" cy="777.57" r="2.6" fill="#c3d838"/>
<circle cx="106.03" cy="775.38" r="2.6" fill="#c3d838"/>
<circle cx="89.9" cy="772.78" r="2.6" fill="#c3d838"/>
<circle cx="82.2" cy="765.9" r="2.6" fill="#c3d838"/>
<circle cx="108.49" cy="770.75" r="2.6" fill="#c3d838"/>
<circle cx="108.73" cy="769.11" r="2.6" fill="#c3d838"/>
<circle cx="110.21" cy="768.34" r="2.6" fill="#c3d838"/>
<circle cx="110.37" cy="765.86" r="2.6" fill="#c3d838"/>
<circle cx="112.69" cy="766.74" r="2.6" fill="#c3d838"/>
<circle cx="114.12" cy="766.32" r="2.6" fill="#c3d838"/>
<circle cx="115.6" cy="764.33" r="2.6" fill="#e8902a"/>
<circle cx="122.64" cy="737.46" r="2.6" fill="#e8902a"/>
<circle cx="128.47" cy="741.86" r="2.6" fill="#e8902a"/>
<circle cx="130.38" cy="751.01" r="2.6" fill="#e8902a"/>
<circle cx="122.27" cy="767" r="2.6" fill="#e8902a"/>
<circle cx="162.11" cy="740.88" r="2.6" fill="#e8902a"/>
<circle cx="125.52" cy="769.47" r="2.6" fill="#e8902a"/>
<circle cx="131.24" cy="770.21" r="2.6" fill="#e8902a"/>
<circle cx="143.89" cy="772.65" r="2.6" fill="#e8902a"/>
<circle cx="147.18" cy="778.54" r="2.6" fill="#e8902a"/>
<circle cx="124.74" cy="777.16" r="2.6" fill="#e8902a"/>
<circle cx="125.04" cy="779.45" r="2.6" fill="#e8902a"/>
<circle cx="122.91" cy="780.33" r="2.6" fill="#e8902a"/>
<circle cx="120.81" cy="780.63" r="2.6" fill="#e8902a"/>
<circle cx="122.97" cy="788.3" r="2.6" fill="#e8902a"/>
<circle cx="119.89" cy="788.61" r="2.6" fill="#e8902a"/>
<circle cx="119.98" cy="819.9" r="2.6" fill="#e8902a"/>
<circle cx="111.45" cy="817.44" r="2.6" fill="#e8902a"/>
<circle cx="112.88" cy="783.28" r="2.6" fill="#e8902a"/>
<circle cx="103.25" cy="797.96" r="2.6" fill="#e8902a"/>
<circle cx="108.86" cy="782.57" r="2.6" fill="#e8902a"/>
<circle cx="109.23" cy="779.52" r="2.6" fill="#e8902a"/>
<circle cx="103.37" cy="781.06" r="2.6" fill="#e8902a"/>
<circle cx="95.96" cy="780.8" r="2.6" fill="#e8902a"/>
<circle cx="103.58" cy="775.73" r="2.6" fill="#e8902a"/>
<circle cx="58.44" cy="771.28" r="2.6" fill="#e8902a"/>
<circle cx="66.59" cy="762.11" r="2.6" fill="#e8902a"/>
<circle cx="107.93" cy="770.5" r="2.6" fill="#e8902a"/>
<circle cx="107.72" cy="768.39" r="2.6" fill="#e8902a"/>
<circle cx="109.78" cy="767.9" r="2.6" fill="#e8902a"/>
<circle cx="71.38" cy="705.19" r="2.6" fill="#e8902a"/>
<circle cx="112.01" cy="765.02" r="2.6" fill="#e8902a"/>
<circle cx="114.12" cy="766.32" r="2.6" fill="#e8902a"/>
<circle cx="115.6" cy="766.18" r="2.6" fill="#3b78c0"/>
<circle cx="117.66" cy="763.29" r="2.6" fill="#3b78c0"/>
<circle cx="120.66" cy="761.35" r="2.6" fill="#3b78c0"/>
<circle cx="121.5" cy="764.83" r="2.6" fill="#3b78c0"/>
<circle cx="121.42" cy="767.9" r="2.6" fill="#3b78c0"/>
<circle cx="136.96" cy="758.79" r="2.6" fill="#3b78c0"/>
<circle cx="124.4" cy="769.98" r="2.6" fill="#3b78c0"/>
<circle cx="125" cy="771.72" r="2.6" fill="#3b78c0"/>
<circle cx="125.26" cy="773.54" r="2.6" fill="#3b78c0"/>
<circle cx="126.39" cy="775.55" r="2.6" fill="#3b78c0"/>
<circle cx="122.99" cy="776.56" r="2.6" fill="#3b78c0"/>
<circle cx="122.91" cy="778.22" r="2.6" fill="#3b78c0"/>
<circle cx="121.51" cy="779.12" r="2.6" fill="#3b78c0"/>
<circle cx="120.43" cy="780.15" r="2.6" fill="#3b78c0"/>
<circle cx="119.47" cy="781.5" r="2.6" fill="#3b78c0"/>
<circle cx="118.32" cy="783.28" r="2.6" fill="#3b78c0"/>
<circle cx="117.29" cy="791.74" r="2.6" fill="#3b78c0"/>
<circle cx="114.2" cy="788.67" r="2.6" fill="#3b78c0"/>
<circle cx="113.22" cy="782.09" r="2.6" fill="#3b78c0"/>
<circle cx="110.6" cy="783.69" r="2.6" fill="#3b78c0"/>
<circle cx="110.39" cy="780.63" r="2.6" fill="#3b78c0"/>
<circle cx="109.69" cy="779.12" r="2.6" fill="#3b78c0"/>
<circle cx="108.29" cy="778.22" r="2.6" fill="#3b78c0"/>
<circle cx="105.29" cy="777.57" r="2.6" fill="#3b78c0"/>
<circle cx="106.03" cy="775.38" r="2.6" fill="#3b78c0"/>
<circle cx="87.19" cy="772.65" r="2.6" fill="#3b78c0"/>
<circle cx="96.6" cy="769.39" r="2.6" fill="#3b78c0"/>
<circle cx="108.49" cy="770.75" r="2.6" fill="#3b78c0"/>
<circle cx="108.73" cy="769.11" r="2.6" fill="#3b78c0"/>
<circle cx="110.21" cy="768.34" r="2.6" fill="#3b78c0"/>
<circle cx="82.93" cy="723.16" r="2.6" fill="#3b78c0"/>
<circle cx="112.69" cy="766.74" r="2.6" fill="#3b78c0"/>
<circle cx="114.12" cy="766.32" r="2.6" fill="#3b78c0"/>
<circle cx="115.6" cy="774" r="6" fill="#ffffff"/>
<text x="108.4" y="767.1" font-size="10" text-anchor="end" dominant-baseline="central" fill="#111">0</text>
<text x="108.4" y="729.8" font-size="10" text-anchor="end" dominant-baseline="central" fill="#111">302</text>
<text x="108.4" y="692.5" font-size="10" text-anchor="end" dominant-baseline="central" fill="#111">604</text>
<text x="115.3" y="683" font-size="8.2" text-anchor="middle" dominant-baseline="central" fill="#1a1a1a">ACC</text>
<text x="136.3" y="686.2" font-size="8.2" text-anchor="middle" dominant-baseline="central" fill="#1a1a1a">BLCA</text>
<text x="159.2" y="691.8" font-size="8.2" text-anchor="middle" dominant-baseline="central" fill="#1a1a1a">BRCA</text>
<text x="173.4" y="699.5" font-size="8.2" text-anchor="middle" dominant-baseline="central" fill="#1a1a1a">CESC</text>
<text x="188" y="709.6" font-size="8.2" text-anchor="middle" dominant-baseline="central" fill="#1a1a1a">CHOL</text>
<text x="203" y="723" font-size="8.2" text-anchor="middle" dominant-baseline="central" fill="#1a1a1a">COAD</text>
<text x="212.4" y="737.7" font-size="8.2" text-anchor="middle" dominant-baseline="central" fill="#1a1a1a">DLBC</text>
<text x="216.6" y="753.5" font-size="8.2" text-anchor="middle" dominant-baseline="central" fill="#1a1a1a">ESCA</text>
<text x="217.5" y="770.4" font-size="8.2" text-anchor="middle" dominant-baseline="central" fill="#1a1a1a">GBM</text>
<text x="218.8" y="787.8" font-size="8.2" text-anchor="middle" dominant-baseline="central" fill="#1a1a1a">HNSC</text>
<text x="212.4" y="803.8" font-size="8.2" text-anchor="middle" dominant-baseline="central" fill="#1a1a1a">KICH</text>
<text x="206.5" y="819.8" font-size="8.2" text-anchor="middle" dominant-baseline="central" fill="#1a1a1a">KIRC</text>
<text x="195.6" y="834" font-size="8.2" text-anchor="middle" dominant-baseline="central" fill="#1a1a1a">KIRP</text>
<text x="184.3" y="845.7" font-size="8.2" text-anchor="middle" dominant-baseline="central" fill="#1a1a1a">LAML</text>
<text x="167.4" y="855.5" font-size="8.2" text-anchor="middle" dominant-baseline="central" fill="#1a1a1a">LGG</text>
<text x="151.6" y="862.5" font-size="8.2" text-anchor="middle" dominant-baseline="central" fill="#1a1a1a">LIHC</text>
<text x="127.3" y="864.3" font-size="8.2" text-anchor="middle" dominant-baseline="central" fill="#1a1a1a">LUAD</text>
<text x="104.9" y="865.1" font-size="8.2" text-anchor="middle" dominant-baseline="central" fill="#1a1a1a">LUSC</text>
<text x="84" y="861.5" font-size="8.2" text-anchor="middle" dominant-baseline="central" fill="#1a1a1a">MESO</text>
<text x="68.5" y="855.6" font-size="8.2" text-anchor="middle" dominant-baseline="central" fill="#1a1a1a">OV</text>
<text x="49.2" y="845.3" font-size="8.2" text-anchor="middle" dominant-baseline="central" fill="#1a1a1a">PAAD</text>
<text x="35.6" y="834" font-size="8.2" text-anchor="middle" dominant-baseline="central" fill="#1a1a1a">PCPG</text>
<text x="25.5" y="819.5" font-size="8.2" text-anchor="middle" dominant-baseline="central" fill="#1a1a1a">PRAD</text>
<text x="18.1" y="804.2" font-size="8.2" text-anchor="middle" dominant-baseline="central" fill="#1a1a1a">READ</text>
<text x="14" y="787.8" font-size="8.2" text-anchor="middle" dominant-baseline="central" fill="#1a1a1a">SARC</text>
<text x="13.4" y="771.4" font-size="8.2" text-anchor="middle" dominant-baseline="central" fill="#1a1a1a">SKCM</text>
<text x="17" y="753.3" font-size="8.2" text-anchor="middle" dominant-baseline="central" fill="#1a1a1a">STAD</text>
<text x="21.5" y="737.7" font-size="8.2" text-anchor="middle" dominant-baseline="central" fill="#1a1a1a">TGCT</text>
<text x="29.7" y="722.4" font-size="8.2" text-anchor="middle" dominant-baseline="central" fill="#1a1a1a">THCA</text>
<text x="40.8" y="708.2" font-size="8.2" text-anchor="middle" dominant-baseline="central" fill="#1a1a1a">THYM</text>
<text x="54.2" y="697.5" font-size="8.2" text-anchor="middle" dominant-baseline="central" fill="#1a1a1a">UCEC</text>
<text x="72.6" y="690.1" font-size="8.2" text-anchor="middle" dominant-baseline="central" fill="#1a1a1a">UCS</text>
<text x="93.2" y="685.3" font-size="8.2" text-anchor="middle" dominant-baseline="central" fill="#1a1a1a">UVM</text>
<circle cx="345.6" cy="776" r="84" fill="#f8f8f8"/>
<line x1="345.6" y1="776" x2="345.6" y2="692" stroke="#c0c0c0" stroke-width="1.3"/>
<line x1="345.6" y1="776" x2="361.5" y2="693.52" stroke="#c0c0c0" stroke-width="1.3"/>
<line x1="345.6" y1="776" x2="376.82" y2="698.02" stroke="#c0c0c0" stroke-width="1.3"/>
<line x1="345.6" y1="776" x2="391.01" y2="705.33" stroke="#c0c0c0" stroke-width="1.3"/>
<line x1="345.6" y1="776" x2="403.57" y2="715.21" stroke="#c0c0c0" stroke-width="1.3"/>
<line x1="345.6" y1="776" x2="414.02" y2="727.28" stroke="#c0c0c0" stroke-width="1.3"/>
<line x1="345.6" y1="776" x2="422.01" y2="741.11" stroke="#c0c0c0" stroke-width="1.3"/>
<line x1="345.6" y1="776" x2="427.23" y2="756.2" stroke="#c0c0c0" stroke-width="1.3"/>
<line x1="345.6" y1="776" x2="429.5" y2="772" stroke="#c0c0c0" stroke-width="1.3"/>
<line x1="345.6" y1="776" x2="428.75" y2="787.95" stroke="#c0c0c0" stroke-width="1.3"/>
<line x1="345.6" y1="776" x2="424.98" y2="803.47" stroke="#c0c0c0" stroke-width="1.3"/>
<line x1="345.6" y1="776" x2="418.35" y2="818" stroke="#c0c0c0" stroke-width="1.3"/>
<line x1="345.6" y1="776" x2="409.08" y2="831.01" stroke="#c0c0c0" stroke-width="1.3"/>
<line x1="345.6" y1="776" x2="397.53" y2="842.03" stroke="#c0c0c0" stroke-width="1.3"/>
<line x1="345.6" y1="776" x2="384.09" y2="850.66" stroke="#c0c0c0" stroke-width="1.3"/>
<line x1="345.6" y1="776" x2="369.27" y2="856.6" stroke="#c0c0c0" stroke-width="1.3"/>
<line x1="345.6" y1="776" x2="353.58" y2="859.62" stroke="#c0c0c0" stroke-width="1.3"/>
<line x1="345.6" y1="776" x2="337.62" y2="859.62" stroke="#c0c0c0" stroke-width="1.3"/>
<line x1="345.6" y1="776" x2="321.93" y2="856.6" stroke="#c0c0c0" stroke-width="1.3"/>
<line x1="345.6" y1="776" x2="307.11" y2="850.66" stroke="#c0c0c0" stroke-width="1.3"/>
<line x1="345.6" y1="776" x2="293.67" y2="842.03" stroke="#c0c0c0" stroke-width="1.3"/>
<line x1="345.6" y1="776" x2="282.12" y2="831.01" stroke="#c0c0c0" stroke-width="1.3"/>
<line x1="345.6" y1="776" x2="272.85" y2="818" stroke="#c0c0c0" stroke-width="1.3"/>
<line x1="345.6" y1="776" x2="266.22" y2="803.47" stroke="#c0c0c0" stroke-width="1.3"/>
<line x1="345.6" y1="776" x2="262.45" y2="787.95" stroke="#c0c0c0" stroke-width="1.3"/>
<line x1="345.6" y1="776" x2="261.7" y2="772" stroke="#c0c0c0" stroke-width="1.3"/>
<line x1="345.6" y1="776" x2="263.97" y2="756.2" stroke="#c0c0c0" stroke-width="1.3"/>
<line x1="345.6" y1="776" x2="269.19" y2="741.11" stroke="#c0c0c0" stroke-width="1.3"/>
<line x1="345.6" y1="776" x2="277.18" y2="727.28" stroke="#c0c0c0" stroke-width="1.3"/>
<line x1="345.6" y1="776" x2="287.63" y2="715.21" stroke="#c0c0c0" stroke-width="1.3"/>
<line x1="345.6" y1="776" x2="300.19" y2="705.33" stroke="#c0c0c0" stroke-width="1.3"/>
<line x1="345.6" y1="776" x2="314.38" y2="698.02" stroke="#c0c0c0" stroke-width="1.3"/>
<line x1="345.6" y1="776" x2="329.7" y2="693.52" stroke="#c0c0c0" stroke-width="1.3"/>
<circle cx="345.6" cy="776" r="84" fill="none" stroke="#bdbdbd" stroke-width="1.4" stroke-dasharray="11.2,4.8" stroke-dashoffset="4.8" transform="rotate(-90 345.6 776)"/>
<circle cx="347" cy="777.3" r="46.4" fill="none" stroke="#2f8f96" stroke-width="1.1" stroke-dasharray="5,3"/>
<path d="M345.6,752.65 L349.17,757.49 L354,755.02 L363.9,747.52 L389.66,729.79 L370.12,758.54 L386.62,757.26 L371.21,769.79 L360.68,775.28 L367.97,779.22 L416.57,800.56 L371.67,791.05 L362.11,790.31 L373.94,812.04 L362.83,809.42 L351.97,797.68 L347.04,791.03 L344.16,791.03 L322.33,855.25 L335.24,796.09 L324.68,802.61 L292.81,821.74 L313.04,794.8 L324.24,783.39 L326.94,778.68 L330.52,775.28 L330.93,772.44 L287.52,749.48 L327.19,762.89 L332.59,762.36 L337.44,763.3 L331.63,741.09 L330.39,697.1 Z" fill="none" stroke="#e8902a" stroke-width="2.5" stroke-linejoin="round"/>
<circle cx="345.6" cy="752.65" r="2.6" fill="#e8902a"/>
<circle cx="349.17" cy="757.49" r="2.6" fill="#e8902a"/>
<circle cx="354" cy="755.02" r="2.6" fill="#e8902a"/>
<circle cx="363.9" cy="747.52" r="2.6" fill="#e8902a"/>
<circle cx="389.66" cy="729.79" r="2.6" fill="#e8902a"/>
<circle cx="370.12" cy="758.54" r="2.6" fill="#e8902a"/>
<circle cx="386.62" cy="757.26" r="2.6" fill="#e8902a"/>
<circle cx="371.21" cy="769.79" r="2.6" fill="#e8902a"/>
<circle cx="360.68" cy="775.28" r="2.6" fill="#e8902a"/>
<circle cx="367.97" cy="779.22" r="2.6" fill="#e8902a"/>
<circle cx="416.57" cy="800.56" r="2.6" fill="#e8902a"/>
<circle cx="371.67" cy="791.05" r="2.6" fill="#e8902a"/>
<circle cx="362.11" cy="790.31" r="2.6" fill="#e8902a"/>
<circle cx="373.94" cy="812.04" r="2.6" fill="#e8902a"/>
<circle cx="362.83" cy="809.42" r="2.6" fill="#e8902a"/>
<circle cx="351.97" cy="797.68" r="2.6" fill="#e8902a"/>
<circle cx="347.04" cy="791.03" r="2.6" fill="#e8902a"/>
<circle cx="344.16" cy="791.03" r="2.6" fill="#e8902a"/>
<circle cx="322.33" cy="855.25" r="2.6" fill="#e8902a"/>
<circle cx="335.24" cy="796.09" r="2.6" fill="#e8902a"/>
<circle cx="324.68" cy="802.61" r="2.6" fill="#e8902a"/>
<circle cx="292.81" cy="821.74" r="2.6" fill="#e8902a"/>
<circle cx="313.04" cy="794.8" r="2.6" fill="#e8902a"/>
<circle cx="324.24" cy="783.39" r="2.6" fill="#e8902a"/>
<circle cx="326.94" cy="778.68" r="2.6" fill="#e8902a"/>
<circle cx="330.52" cy="775.28" r="2.6" fill="#e8902a"/>
<circle cx="330.93" cy="772.44" r="2.6" fill="#e8902a"/>
<circle cx="287.52" cy="749.48" r="2.6" fill="#e8902a"/>
<circle cx="327.19" cy="762.89" r="2.6" fill="#e8902a"/>
<circle cx="332.59" cy="762.36" r="2.6" fill="#e8902a"/>
<circle cx="337.44" cy="763.3" r="2.6" fill="#e8902a"/>
<circle cx="331.63" cy="741.09" r="2.6" fill="#e8902a"/>
<circle cx="330.39" cy="697.1" r="2.6" fill="#e8902a"/>
<path d="M345.6,766.15 L347.46,766.33 L349.26,766.86 L353.76,763.3 L356.02,765.07 L353.62,770.29 L359.34,769.73 L355.17,773.68 L355.44,775.53 L355.35,777.4 L354.91,779.22 L354.13,780.92 L353.04,782.45 L351.69,783.74 L350.11,784.76 L348.38,785.45 L346.54,785.81 L344.16,791.03 L341.35,790.49 L341.09,784.76 L339.51,783.74 L334.19,785.89 L337.07,780.92 L336.29,779.22 L335.85,777.4 L330.52,775.28 L323.64,770.67 L331.86,769.73 L313.75,753.32 L335.18,765.07 L337.44,763.3 L314.9,699.32 L337.06,731.72 Z" fill="none" stroke="#c3d838" stroke-width="2.5" stroke-linejoin="round"/>
<circle cx="345.6" cy="766.15" r="2.6" fill="#c3d838"/>
<circle cx="347.46" cy="766.33" r="2.6" fill="#c3d838"/>
<circle cx="349.26" cy="766.86" r="2.6" fill="#c3d838"/>
<circle cx="353.76" cy="763.3" r="2.6" fill="#c3d838"/>
<circle cx="356.02" cy="765.07" r="2.6" fill="#c3d838"/>
<circle cx="353.62" cy="770.29" r="2.6" fill="#c3d838"/>
<circle cx="359.34" cy="769.73" r="2.6" fill="#c3d838"/>
<circle cx="355.17" cy="773.68" r="2.6" fill="#c3d838"/>
<circle cx="355.44" cy="775.53" r="2.6" fill="#c3d838"/>
<circle cx="355.35" cy="777.4" r="2.6" fill="#c3d838"/>
<circle cx="354.91" cy="779.22" r="2.6" fill="#c3d838"/>
<circle cx="354.13" cy="780.92" r="2.6" fill="#c3d838"/>
<circle cx="353.04" cy="782.45" r="2.6" fill="#c3d838"/>
<circle cx="351.69" cy="783.74" r="2.6" fill="#c3d838"/>
<circle cx="350.11" cy="784.76" r="2.6" fill="#c3d838"/>
<circle cx="348.38" cy="785.45" r="2.6" fill="#c3d838"/>
<circle cx="346.54" cy="785.81" r="2.6" fill="#c3d838"/>
<circle cx="344.16" cy="791.03" r="2.6" fill="#c3d838"/>
<circle cx="341.35" cy="790.49" r="2.6" fill="#c3d838"/>
<circle cx="341.09" cy="784.76" r="2.6" fill="#c3d838"/>
<circle cx="339.51" cy="783.74" r="2.6" fill="#c3d838"/>
<circle cx="334.19" cy="785.89" r="2.6" fill="#c3d838"/>
<circle cx="337.07" cy="780.92" r="2.6" fill="#c3d838"/>
<circle cx="336.29" cy="779.22" r="2.6" fill="#c3d838"/>
<circle cx="335.85" cy="777.4" r="2.6" fill="#c3d838"/>
<circle cx="330.52" cy="775.28" r="2.6" fill="#c3d838"/>
<circle cx="323.64" cy="770.67" r="2.6" fill="#c3d838"/>
<circle cx="331.86" cy="769.73" r="2.6" fill="#c3d838"/>
<circle cx="313.75" cy="753.32" r="2.6" fill="#c3d838"/>
<circle cx="335.18" cy="765.07" r="2.6" fill="#c3d838"/>
<circle cx="337.44" cy="763.3" r="2.6" fill="#c3d838"/>
<circle cx="314.9" cy="699.32" r="2.6" fill="#c3d838"/>
<circle cx="337.06" cy="731.72" r="2.6" fill="#c3d838"/>
<path d="M345.6,768.4 L349.17,757.49 L353.16,757.11 L363.09,748.79 L402.6,716.22 L370.12,758.54 L420.74,741.69 L401.82,762.36 L367.43,774.96 L371.68,779.75 L423.66,803.02 L395.7,804.92 L352.48,781.96 L366.99,803.2 L376.58,836.09 L359.57,823.59 L347.21,792.9 L343.81,794.76 L324.86,846.62 L336.28,794.09 L307.06,825.01 L283.18,830.09 L311.74,795.55 L313.61,787.07 L277.2,785.83 L334.26,775.46 L330.93,772.44 L335.28,771.29 L336.35,769.42 L340.36,770.5 L337.44,763.3 L314.9,699.32 L329.97,694.89 Z" fill="none" stroke="#3b78c0" stroke-width="2.5" stroke-linejoin="round"/>
<circle cx="345.6" cy="768.4" r="2.6" fill="#3b78c0"/>
<circle cx="349.17" cy="757.49" r="2.6" fill="#3b78c0"/>
<circle cx="353.16" cy="757.11" r="2.6" fill="#3b78c0"/>
<circle cx="363.09" cy="748.79" r="2.6" fill="#3b78c0"/>
<circle cx="402.6" cy="716.22" r="2.6" fill="#3b78c0"/>
<circle cx="370.12" cy="758.54" r="2.6" fill="#3b78c0"/>
<circle cx="420.74" cy="741.69" r="2.6" fill="#3b78c0"/>
<circle cx="401.82" cy="762.36" r="2.6" fill="#3b78c0"/>
<circle cx="367.43" cy="774.96" r="2.6" fill="#3b78c0"/>
<circle cx="371.68" cy="779.75" r="2.6" fill="#3b78c0"/>
<circle cx="423.66" cy="803.02" r="2.6" fill="#3b78c0"/>
<circle cx="395.7" cy="804.92" r="2.6" fill="#3b78c0"/>
<circle cx="352.48" cy="781.96" r="2.6" fill="#3b78c0"/>
<circle cx="366.99" cy="803.2" r="2.6" fill="#3b78c0"/>
<circle cx="376.58" cy="836.09" r="2.6" fill="#3b78c0"/>
<circle cx="359.57" cy="823.59" r="2.6" fill="#3b78c0"/>
<circle cx="347.21" cy="792.9" r="2.6" fill="#3b78c0"/>
<circle cx="343.81" cy="794.76" r="2.6" fill="#3b78c0"/>
<circle cx="324.86" cy="846.62" r="2.6" fill="#3b78c0"/>
<circle cx="336.28" cy="794.09" r="2.6" fill="#3b78c0"/>
<circle cx="307.06" cy="825.01" r="2.6" fill="#3b78c0"/>
<circle cx="283.18" cy="830.09" r="2.6" fill="#3b78c0"/>
<circle cx="311.74" cy="795.55" r="2.6" fill="#3b78c0"/>
<circle cx="313.61" cy="787.07" r="2.6" fill="#3b78c0"/>
<circle cx="277.2" cy="785.83" r="2.6" fill="#3b78c0"/>
<circle cx="334.26" cy="775.46" r="2.6" fill="#3b78c0"/>
<circle cx="330.93" cy="772.44" r="2.6" fill="#3b78c0"/>
<circle cx="335.28" cy="771.29" r="2.6" fill="#3b78c0"/>
<circle cx="336.35" cy="769.42" r="2.6" fill="#3b78c0"/>
<circle cx="340.36" cy="770.5" r="2.6" fill="#3b78c0"/>
<circle cx="337.44" cy="763.3" r="2.6" fill="#3b78c0"/>
<circle cx="314.9" cy="699.32" r="2.6" fill="#3b78c0"/>
<circle cx="329.97" cy="694.89" r="2.6" fill="#3b78c0"/>
<path d="M345.6,764.65 L348.46,761.17 L351.21,761.98 L355.79,760.14 L382.93,736.85 L367.06,760.72 L372.98,763.5 L367.56,770.67 L360.68,775.28 L367.97,779.22 L423.66,803.02 L374.91,792.92 L368.35,795.71 L359.57,793.76 L359.39,802.75 L351.97,797.68 L347.75,798.5 L343.81,794.76 L322.33,855.25 L336.96,792.75 L336.27,787.87 L283.18,830.09 L329.28,785.42 L327.79,782.17 L323.23,779.22 L326.77,775.1 L327.28,771.56 L270.46,741.69 L321.08,758.54 L314.48,743.36 L335.41,760.14 L331.63,741.09 L332.95,710.36 Z" fill="none" stroke="#f2dfb6" stroke-width="2.5" stroke-linejoin="round"/>
<circle cx="345.6" cy="764.65" r="2.6" fill="#f2dfb6"/>
<circle cx="348.46" cy="761.17" r="2.6" fill="#f2dfb6"/>
<circle cx="351.21" cy="761.98" r="2.6" fill="#f2dfb6"/>
<circle cx="355.79" cy="760.14" r="2.6" fill="#f2dfb6"/>
<circle cx="382.93" cy="736.85" r="2.6" fill="#f2dfb6"/>
<circle cx="367.06" cy="760.72" r="2.6" fill="#f2dfb6"/>
<circle cx="372.98" cy="763.5" r="2.6" fill="#f2dfb6"/>
<circle cx="367.56" cy="770.67" r="2.6" fill="#f2dfb6"/>
<circle cx="360.68" cy="775.28" r="2.6" fill="#f2dfb6"/>
<circle cx="367.97" cy="779.22" r="2.6" fill="#f2dfb6"/>
<circle cx="423.66" cy="803.02" r="2.6" fill="#f2dfb6"/>
<circle cx="374.91" cy="792.92" r="2.6" fill="#f2dfb6"/>
<circle cx="368.35" cy="795.71" r="2.6" fill="#f2dfb6"/>
<circle cx="359.57" cy="793.76" r="2.6" fill="#f2dfb6"/>
<circle cx="359.39" cy="802.75" r="2.6" fill="#f2dfb6"/>
<circle cx="351.97" cy="797.68" r="2.6" fill="#f2dfb6"/>
<circle cx="347.75" cy="798.5" r="2.6" fill="#f2dfb6"/>
<circle cx="343.81" cy="794.76" r="2.6" fill="#f2dfb6"/>
<circle cx="322.33" cy="855.25" r="2.6" fill="#f2dfb6"/>
<circle cx="336.96" cy="792.75" r="2.6" fill="#f2dfb6"/>
<circle cx="336.27" cy="787.87" r="2.6" fill="#f2dfb6"/>
<circle cx="283.18" cy="830.09" r="2.6" fill="#f2dfb6"/>
<circle cx="329.28" cy="785.42" r="2.6" fill="#f2dfb6"/>
<circle cx="327.79" cy="782.17" r="2.6" fill="#f2dfb6"/>
<circle cx="323.23" cy="779.22" r="2.6" fill="#f2dfb6"/>
<circle cx="326.77" cy="775.1" r="2.6" fill="#f2dfb6"/>
<circle cx="327.28" cy="771.56" r="2.6" fill="#f2dfb6"/>
<circle cx="270.46" cy="741.69" r="2.6" fill="#f2dfb6"/>
<circle cx="321.08" cy="758.54" r="2.6" fill="#f2dfb6"/>
<circle cx="314.48" cy="743.36" r="2.6" fill="#f2dfb6"/>
<circle cx="335.41" cy="760.14" r="2.6" fill="#f2dfb6"/>
<circle cx="331.63" cy="741.09" r="2.6" fill="#f2dfb6"/>
<circle cx="332.95" cy="710.36" r="2.6" fill="#f2dfb6"/>
<circle cx="345.6" cy="776" r="6.4" fill="#ffffff"/>
<text x="338.4" y="768.7" font-size="10" text-anchor="end" dominant-baseline="central" fill="#111">0</text>
<text x="338.4" y="731.2" font-size="10" text-anchor="end" dominant-baseline="central" fill="#111">0.5</text>
<text x="338.4" y="693.7" font-size="10" text-anchor="end" dominant-baseline="central" fill="#111">1</text>
<text x="346.8" y="683.7" font-size="8.2" text-anchor="middle" dominant-baseline="central" fill="#1a1a1a">ACC</text>
<text x="367.8" y="686.9" font-size="8.2" text-anchor="middle" dominant-baseline="central" fill="#1a1a1a">BLCA</text>
<text x="390.7" y="692.5" font-size="8.2" text-anchor="middle" dominant-baseline="central" fill="#1a1a1a">BRCA</text>
<text x="404.9" y="700.2" font-size="8.2" text-anchor="middle" dominant-baseline="central" fill="#1a1a1a">CESC</text>
<text x="419.5" y="710.3" font-size="8.2" text-anchor="middle" dominant-baseline="central" fill="#1a1a1a">CHOL</text>
<text x="434.5" y="723.7" font-size="8.2" text-anchor="middle" dominant-baseline="central" fill="#1a1a1a">COAD</text>
<text x="443.9" y="738.4" font-size="8.2" text-anchor="middle" dominant-baseline="central" fill="#1a1a1a">DLBC</text>
<text x="448.1" y="754.2" font-size="8.2" text-anchor="middle" dominant-baseline="central" fill="#1a1a1a">ESCA</text>
<text x="449" y="771.1" font-size="8.2" text-anchor="middle" dominant-baseline="central" fill="#1a1a1a">GBM</text>
<text x="450.3" y="788.5" font-size="8.2" text-anchor="middle" dominant-baseline="central" fill="#1a1a1a">HNSC</text>
<text x="443.9" y="804.5" font-size="8.2" text-anchor="middle" dominant-baseline="central" fill="#1a1a1a">KICH</text>
<text x="438" y="820.5" font-size="8.2" text-anchor="middle" dominant-baseline="central" fill="#1a1a1a">KIRC</text>
<text x="427.1" y="834.7" font-size="8.2" text-anchor="middle" dominant-baseline="central" fill="#1a1a1a">KIRP</text>
<text x="415.8" y="846.4" font-size="8.2" text-anchor="middle" dominant-baseline="central" fill="#1a1a1a">LAML</text>
<text x="398.9" y="856.2" font-size="8.2" text-anchor="middle" dominant-baseline="central" fill="#1a1a1a">LGG</text>
<text x="383.1" y="863.2" font-size="8.2" text-anchor="middle" dominant-baseline="central" fill="#1a1a1a">LIHC</text>
<text x="358.8" y="865" font-size="8.2" text-anchor="middle" dominant-baseline="central" fill="#1a1a1a">LUAD</text>
<text x="336.4" y="865.8" font-size="8.2" text-anchor="middle" dominant-baseline="central" fill="#1a1a1a">LUSC</text>
<text x="315.5" y="862.2" font-size="8.2" text-anchor="middle" dominant-baseline="central" fill="#1a1a1a">MESO</text>
<text x="300" y="856.3" font-size="8.2" text-anchor="middle" dominant-baseline="central" fill="#1a1a1a">OV</text>
<text x="280.7" y="846" font-size="8.2" text-anchor="middle" dominant-baseline="central" fill="#1a1a1a">PAAD</text>
<text x="267.1" y="834.7" font-size="8.2" text-anchor="middle" dominant-baseline="central" fill="#1a1a1a">PCPG</text>
<text x="257" y="820.2" font-size="8.2" text-anchor="middle" dominant-baseline="central" fill="#1a1a1a">PRAD</text>
<text x="249.6" y="804.9" font-size="8.2" text-anchor="middle" dominant-baseline="central" fill="#1a1a1a">READ</text>
<text x="245.5" y="788.5" font-size="8.2" text-anchor="middle" dominant-baseline="central" fill="#1a1a1a">SARC</text>
<text x="244.9" y="772.1" font-size="8.2" text-anchor="middle" dominant-baseline="central" fill="#1a1a1a">SKCM</text>
<text x="248.5" y="754" font-size="8.2" text-anchor="middle" dominant-baseline="central" fill="#1a1a1a">STAD</text>
<text x="253" y="738.4" font-size="8.2" text-anchor="middle" dominant-baseline="central" fill="#1a1a1a">TGCT</text>
<text x="261.2" y="723.1" font-size="8.2" text-anchor="middle" dominant-baseline="central" fill="#1a1a1a">THCA</text>
<text x="272.3" y="708.9" font-size="8.2" text-anchor="middle" dominant-baseline="central" fill="#1a1a1a">THYM</text>
<text x="285.7" y="698.2" font-size="8.2" text-anchor="middle" dominant-baseline="central" fill="#1a1a1a">UCEC</text>
<text x="304.1" y="690.8" font-size="8.2" text-anchor="middle" dominant-baseline="central" fill="#1a1a1a">UCS</text>
<text x="324.7" y="686" font-size="8.2" text-anchor="middle" dominant-baseline="central" fill="#1a1a1a">UVM</text>
<line x1="135.8" y1="882.9" x2="166.9" y2="882.9" stroke="#f2dfb6" stroke-width="2.2"/>
<circle cx="151.35" cy="882.9" r="2.4" fill="#f2dfb6"/>
<text x="174" y="882.9" font-size="7.7" text-anchor="start" dominant-baseline="central" fill="#1a1a1a">ActiveDriverWGS</text>
<line x1="135.8" y1="901.3" x2="166.9" y2="901.3" stroke="#e6831f" stroke-width="2.2"/>
<circle cx="151.35" cy="901.3" r="2.4" fill="#e6831f"/>
<text x="174" y="901.3" font-size="7.7" text-anchor="start" dominant-baseline="central" fill="#1a1a1a">geMER</text>
<line x1="236.9" y1="883.4" x2="268.3" y2="883.4" stroke="#c3d838" stroke-width="2.2"/>
<circle cx="252.6" cy="883.4" r="2.4" fill="#c3d838"/>
<text x="275.7" y="883.4" font-size="7.7" text-anchor="start" dominant-baseline="central" fill="#1a1a1a">Driverpower</text>
<line x1="236.9" y1="901.3" x2="268.3" y2="901.3" stroke="#3e6f98" stroke-width="2.2"/>
<circle cx="252.6" cy="901.3" r="2.4" fill="#3e6f98"/>
<text x="275.7" y="901.3" font-size="7.7" text-anchor="start" dominant-baseline="central" fill="#1a1a1a">OncodriveFML</text>
<text x="469" y="694.7" font-size="26.5" text-anchor="start" dominant-baseline="auto" fill="#1a1a1a">G</text>
<path d="M587.94,697.74 A75,75 0 0 1 600.75,701.5 L597.02,711 A64.8,64.8 0 0 0 585.95,707.75 Z" fill="#e2eff0"/>
<path d="M588.07,697.11 A75.65,75.65 0 0 1 600.99,700.9 L600.75,701.5 A75,75 0 0 0 587.94,697.74 Z" fill="#3b78c0"/>
<path d="M588.71,693.91 A78.9,78.9 0 0 1 602.18,697.87 L600.99,700.9 A75.65,75.65 0 0 0 588.07,697.11 Z" fill="#e8902a"/>
<path d="M590.19,686.46 A86.5,86.5 0 0 1 604.96,690.8 L602.18,697.87 A78.9,78.9 0 0 0 588.71,693.91 Z" fill="#f3e1b5"/>
<path d="M602.5,699.63 A77.39,77.39 0 0 1 614.74,705.94 L608,716.57 A64.8,64.8 0 0 0 597.75,711.29 Z" fill="#e2eff0"/>
<path d="M602.91,698.63 A78.47,78.47 0 0 1 615.32,705.03 L614.74,705.94 A77.39,77.39 0 0 0 602.5,699.63 Z" fill="#3b78c0"/>
<path d="M603.48,697.22 A79.99,79.99 0 0 1 616.13,703.75 L615.32,705.03 A78.47,78.47 0 0 0 602.91,698.63 Z" fill="#e8902a"/>
<path d="M605.94,691.19 A86.5,86.5 0 0 1 619.62,698.25 L616.13,703.75 A79.99,79.99 0 0 0 603.48,697.22 Z" fill="#f3e1b5"/>
<path d="M616.96,704.27 A79.99,79.99 0 0 1 628.14,713.07 L617.73,724.13 A64.8,64.8 0 0 0 608.67,717 Z" fill="#e2eff0"/>
<path d="M617.55,703.36 A81.07,81.07 0 0 1 628.89,712.28 L628.14,713.07 A79.99,79.99 0 0 0 616.96,704.27 Z" fill="#e8902a"/>
<path d="M620.51,698.82 A86.5,86.5 0 0 1 632.61,708.33 L628.89,712.28 A81.07,81.07 0 0 0 617.55,703.36 Z" fill="#f3e1b5"/>
<path d="M627.34,715.31 A77.82,77.82 0 0 1 636.41,725.77 L625.85,733.39 A64.8,64.8 0 0 0 618.3,724.68 Z" fill="#e8902a"/>
<path d="M633.37,709.06 A86.5,86.5 0 0 1 643.45,720.7 L636.41,725.77 A77.82,77.82 0 0 0 627.34,715.31 Z" fill="#f3e1b5"/>
<path d="M628.62,732.41 A67.62,67.62 0 0 1 634.64,742.83 L632.08,744.02 A64.8,64.8 0 0 0 626.31,734.04 Z" fill="#3b78c0"/>
<path d="M637.14,726.42 A78.04,78.04 0 0 1 644.09,738.45 L634.64,742.83 A67.62,67.62 0 0 0 628.62,732.41 Z" fill="#e8902a"/>
<path d="M644.07,721.56 A86.5,86.5 0 0 1 651.76,734.89 L644.09,738.45 A78.04,78.04 0 0 0 637.14,726.42 Z" fill="#f3e1b5"/>
<path d="M633.4,744.3 A65.88,65.88 0 0 1 637.23,755.38 L636.18,755.64 A64.8,64.8 0 0 0 632.41,744.74 Z" fill="#e2eff0"/>
<path d="M645.27,738.96 A78.91,78.91 0 0 1 649.87,752.23 L637.23,755.38 A65.88,65.88 0 0 0 633.4,744.3 Z" fill="#e8902a"/>
<path d="M652.2,735.85 A86.5,86.5 0 0 1 657.24,750.39 L649.87,752.23 A78.91,78.91 0 0 0 645.27,738.96 Z" fill="#f3e1b5"/>
<path d="M650.09,753.17 A78.91,78.91 0 0 1 652.09,767.06 L638.01,767.82 A64.8,64.8 0 0 0 636.37,756.41 Z" fill="#e2eff0"/>
<path d="M651.78,752.77 A80.64,80.64 0 0 1 653.82,766.97 L652.09,767.06 A78.91,78.91 0 0 0 650.09,753.17 Z" fill="#e8902a"/>
<path d="M657.48,751.42 A86.5,86.5 0 0 1 659.68,766.66 L653.82,766.97 A80.64,80.64 0 0 0 651.78,752.77 Z" fill="#f3e1b5"/>
<path d="M653.22,767.98 A79.99,79.99 0 0 1 652.54,782.2 L637.5,780.13 A64.8,64.8 0 0 0 638.04,768.61 Z" fill="#e2eff0"/>
<path d="M654.31,767.94 A81.07,81.07 0 0 1 653.62,782.35 L652.54,782.2 A79.99,79.99 0 0 0 653.22,767.98 Z" fill="#e8902a"/>
<path d="M659.73,767.71 A86.5,86.5 0 0 1 658.99,783.09 L653.62,782.35 A81.07,81.07 0 0 0 654.31,767.94 Z" fill="#f3e1b5"/>
<path d="M650.69,782.91 A78.25,78.25 0 0 1 647.41,796.44 L634.66,792.12 A64.8,64.8 0 0 0 637.38,780.91 Z" fill="#e2eff0"/>
<path d="M651.33,783.01 A78.9,78.9 0 0 1 648.02,796.65 L647.41,796.44 A78.25,78.25 0 0 0 650.69,782.91 Z" fill="#3b78c0"/>
<path d="M653.48,783.33 A81.07,81.07 0 0 1 650.08,797.35 L648.02,796.65 A78.9,78.9 0 0 0 651.33,783.01 Z" fill="#e8902a"/>
<path d="M658.84,784.13 A86.5,86.5 0 0 1 655.21,799.09 L650.08,797.35 A81.07,81.07 0 0 0 653.48,783.33 Z" fill="#f3e1b5"/>
<path d="M639.52,794.67 A70.22,70.22 0 0 1 634.33,806.04 L629.62,803.36 A64.8,64.8 0 0 0 634.41,792.87 Z" fill="#3b78c0"/>
<path d="M649.75,798.28 A81.07,81.07 0 0 1 643.76,811.41 L634.33,806.04 A70.22,70.22 0 0 0 639.52,794.67 Z" fill="#e8902a"/>
<path d="M654.87,800.09 A86.5,86.5 0 0 1 648.47,814.09 L643.76,811.41 A81.07,81.07 0 0 0 649.75,798.28 Z" fill="#f3e1b5"/>
<path d="M643.26,812.27 A81.08,81.08 0 0 1 634.9,824.02 L622.53,813.44 A64.8,64.8 0 0 0 629.22,804.04 Z" fill="#e2eff0"/>
<path d="M643.83,812.59 A81.73,81.73 0 0 1 635.39,824.44 L634.9,824.02 A81.08,81.08 0 0 0 643.26,812.27 Z" fill="#3b78c0"/>
<path d="M647.95,815.01 A86.5,86.5 0 0 1 639.02,827.55 L635.39,824.44 A81.73,81.73 0 0 0 643.83,812.59 Z" fill="#f3e1b5"/>
<path d="M613.71,823.34 A65.88,65.88 0 0 1 603.85,829.68 L603.34,828.71 A64.8,64.8 0 0 0 613.04,822.48 Z" fill="#3b78c0"/>
<path d="M622.36,834.48 A79.99,79.99 0 0 1 610.39,842.17 L603.85,829.68 A65.88,65.88 0 0 0 613.71,823.34 Z" fill="#e8902a"/>
<path d="M626.35,839.62 A86.5,86.5 0 0 1 613.41,847.94 L610.39,842.17 A79.99,79.99 0 0 0 622.36,834.48 Z" fill="#f3e1b5"/>
<path d="M608.54,840.69 A77.82,77.82 0 0 1 595.68,845.83 L591.94,833.36 A64.8,64.8 0 0 0 602.64,829.08 Z" fill="#e2eff0"/>
<path d="M608.93,841.46 A78.69,78.69 0 0 1 595.93,846.66 L595.68,845.83 A77.82,77.82 0 0 0 608.54,840.69 Z" fill="#3b78c0"/>
<path d="M609.52,842.62 A79.99,79.99 0 0 1 596.3,847.91 L595.93,846.66 A78.69,78.69 0 0 0 608.93,841.46 Z" fill="#e8902a"/>
<path d="M612.47,848.42 A86.5,86.5 0 0 1 598.18,854.15 L596.3,847.91 A79.99,79.99 0 0 0 609.52,842.62 Z" fill="#f3e1b5"/>
<path d="M594.47,845.06 A76.73,76.73 0 0 1 581.06,847.64 L579.85,835.77 A64.8,64.8 0 0 0 591.18,833.59 Z" fill="#e2eff0"/>
<path d="M595.37,848.19 A79.99,79.99 0 0 1 581.39,850.88 L581.06,847.64 A76.73,76.73 0 0 0 594.47,845.06 Z" fill="#e8902a"/>
<path d="M597.16,854.44 A86.5,86.5 0 0 1 582.05,857.36 L581.39,850.88 A79.99,79.99 0 0 0 595.37,848.19 Z" fill="#f3e1b5"/>
<path d="M579.55,841.25 A70.22,70.22 0 0 1 567.05,841.25 L567.53,835.84 A64.8,64.8 0 0 0 579.07,835.84 Z" fill="#e2eff0"/>
<path d="M579.68,842.76 A71.74,71.74 0 0 1 566.92,842.76 L567.05,841.25 A70.22,70.22 0 0 0 579.55,841.25 Z" fill="#3b78c0"/>
<path d="M579.88,844.92 A73.91,73.91 0 0 1 566.72,844.92 L566.92,842.76 A71.74,71.74 0 0 0 579.68,842.76 Z" fill="#e8902a"/>
<path d="M581,857.46 A86.5,86.5 0 0 1 565.6,857.46 L566.72,844.92 A73.91,73.91 0 0 0 579.88,844.92 Z" fill="#f3e1b5"/>
<path d="M566.13,841.81 A70.88,70.88 0 0 1 553.75,839.43 L555.42,833.59 A64.8,64.8 0 0 0 566.75,835.77 Z" fill="#e2eff0"/>
<path d="M566.04,842.68 A71.74,71.74 0 0 1 553.51,840.26 L553.75,839.43 A70.88,70.88 0 0 0 566.13,841.81 Z" fill="#3b78c0"/>
<path d="M565.65,846.56 A75.65,75.65 0 0 1 552.43,844.01 L553.51,840.26 A71.74,71.74 0 0 0 566.04,842.68 Z" fill="#e8902a"/>
<path d="M564.55,857.36 A86.5,86.5 0 0 1 549.44,854.44 L552.43,844.01 A75.65,75.65 0 0 0 565.65,846.56 Z" fill="#f3e1b5"/>
<path d="M552.79,839.6 A71.31,71.31 0 0 1 541.01,834.88 L543.96,829.08 A64.8,64.8 0 0 0 554.66,833.36 Z" fill="#3b78c0"/>
<path d="M550.61,846.87 A78.91,78.91 0 0 1 537.57,841.65 L541.01,834.88 A71.31,71.31 0 0 0 552.79,839.6 Z" fill="#e8902a"/>
<path d="M548.42,854.15 A86.5,86.5 0 0 1 534.13,848.42 L537.57,841.65 A78.91,78.91 0 0 0 550.61,846.87 Z" fill="#f3e1b5"/>
<path d="M537.72,839.29 A76.73,76.73 0 0 1 526.23,831.91 L533.56,822.48 A64.8,64.8 0 0 0 543.26,828.71 Z" fill="#e2eff0"/>
<path d="M537.02,840.63 A78.25,78.25 0 0 1 525.3,833.11 L526.23,831.91 A76.73,76.73 0 0 0 537.72,839.29 Z" fill="#e8902a"/>
<path d="M533.19,847.94 A86.5,86.5 0 0 1 520.25,839.62 L525.3,833.11 A78.25,78.25 0 0 0 537.02,840.63 Z" fill="#f3e1b5"/>
<path d="M524.55,832.52 A78.25,78.25 0 0 1 514.47,822.91 L524.59,814.03 A64.8,64.8 0 0 0 532.93,821.99 Z" fill="#e2eff0"/>
<path d="M524.15,833.02 A78.9,78.9 0 0 1 513.98,823.34 L514.47,822.91 A78.25,78.25 0 0 0 524.55,832.52 Z" fill="#3b78c0"/>
<path d="M519.41,838.97 A86.5,86.5 0 0 1 508.27,828.34 L513.98,823.34 A78.9,78.9 0 0 0 524.15,833.02 Z" fill="#f3e1b5"/>
<path d="M521.6,815.55 A68.05,68.05 0 0 1 514.57,805.69 L517.38,804.04 A64.8,64.8 0 0 0 524.07,813.44 Z" fill="#3b78c0"/>
<path d="M512.53,823.31 A79.99,79.99 0 0 1 504.27,811.72 L514.57,805.69 A68.05,68.05 0 0 0 521.6,815.55 Z" fill="#e8902a"/>
<path d="M507.58,827.55 A86.5,86.5 0 0 1 498.65,815.01 L504.27,811.72 A79.99,79.99 0 0 0 512.53,823.31 Z" fill="#f3e1b5"/>
<path d="M503.78,810.87 A79.99,79.99 0 0 1 497.87,797.92 L512.19,792.87 A64.8,64.8 0 0 0 516.98,803.36 Z" fill="#e2eff0"/>
<path d="M503.41,811.09 A80.42,80.42 0 0 1 497.46,798.07 L497.87,797.92 A79.99,79.99 0 0 0 503.78,810.87 Z" fill="#3b78c0"/>
<path d="M498.13,814.09 A86.5,86.5 0 0 1 491.73,800.09 L497.46,798.07 A80.42,80.42 0 0 0 503.41,811.09 Z" fill="#f3e1b5"/>
<path d="M499.61,796.3 A77.82,77.82 0 0 1 496.34,782.85 L509.22,780.91 A64.8,64.8 0 0 0 511.94,792.12 Z" fill="#e2eff0"/>
<path d="M496.52,797.35 A81.07,81.07 0 0 1 493.12,783.33 L496.34,782.85 A77.82,77.82 0 0 0 499.61,796.3 Z" fill="#e8902a"/>
<path d="M491.39,799.09 A86.5,86.5 0 0 1 487.76,784.13 L493.12,783.33 A81.07,81.07 0 0 0 496.52,797.35 Z" fill="#f3e1b5"/>
<path d="M492.34,782.44 A81.73,81.73 0 0 1 491.64,767.91 L508.56,768.61 A64.8,64.8 0 0 0 509.1,780.13 Z" fill="#e2eff0"/>
<path d="M491.48,782.55 A82.59,82.59 0 0 1 490.78,767.87 L491.64,767.91 A81.73,81.73 0 0 0 492.34,782.44 Z" fill="#e8902a"/>
<path d="M487.61,783.09 A86.5,86.5 0 0 1 486.87,767.71 L490.78,767.87 A82.59,82.59 0 0 0 491.48,782.55 Z" fill="#f3e1b5"/>
<path d="M501.44,767.44 A71.96,71.96 0 0 1 503.27,754.76 L510.23,756.41 A64.8,64.8 0 0 0 508.59,767.82 Z" fill="#3b78c0"/>
<path d="M498.63,767.29 A74.78,74.78 0 0 1 500.52,754.11 L503.27,754.76 A71.96,71.96 0 0 0 501.44,767.44 Z" fill="#e8902a"/>
<path d="M486.92,766.66 A86.5,86.5 0 0 1 489.12,751.42 L500.52,754.11 A74.78,74.78 0 0 0 498.63,767.29 Z" fill="#f3e1b5"/>
<path d="M507.89,755.01 A67.4,67.4 0 0 1 511.82,743.67 L514.19,744.74 A64.8,64.8 0 0 0 510.42,755.64 Z" fill="#3b78c0"/>
<path d="M499.89,753.02 A75.65,75.65 0 0 1 504.3,740.29 L511.82,743.67 A67.4,67.4 0 0 0 507.89,755.01 Z" fill="#e8902a"/>
<path d="M489.36,750.39 A86.5,86.5 0 0 1 494.4,735.85 L504.3,740.29 A75.65,75.65 0 0 0 499.89,753.02 Z" fill="#f3e1b5"/>
<path d="M508.62,741.28 A71.31,71.31 0 0 1 514.96,730.29 L520.29,734.04 A64.8,64.8 0 0 0 514.52,744.02 Z" fill="#3b78c0"/>
<path d="M498.77,736.71 A82.16,82.16 0 0 1 506.08,724.05 L514.96,730.29 A71.31,71.31 0 0 0 508.62,741.28 Z" fill="#e8902a"/>
<path d="M494.84,734.89 A86.5,86.5 0 0 1 502.53,721.56 L506.08,724.05 A82.16,82.16 0 0 0 498.77,736.71 Z" fill="#f3e1b5"/>
<path d="M508.43,724.5 A79.99,79.99 0 0 1 517.75,713.75 L528.3,724.68 A64.8,64.8 0 0 0 520.75,733.39 Z" fill="#e2eff0"/>
<path d="M505.26,722.22 A83.9,83.9 0 0 1 515.04,710.94 L517.75,713.75 A79.99,79.99 0 0 0 508.43,724.5 Z" fill="#3b78c0"/>
<path d="M503.15,720.7 A86.5,86.5 0 0 1 513.23,709.06 L515.04,710.94 A83.9,83.9 0 0 0 505.26,722.22 Z" fill="#f3e1b5"/>
<path d="M532.21,706.49 A76.73,76.73 0 0 1 544.35,700.24 L548.85,711.29 A64.8,64.8 0 0 0 538.6,716.57 Z" fill="#3b78c0"/>
<path d="M526.98,698.25 A86.5,86.5 0 0 1 540.66,691.19 L544.35,700.24 A76.73,76.73 0 0 0 532.21,706.49 Z" fill="#f3e1b5"/>
<path d="M544.02,696.86 A79.99,79.99 0 0 1 557.68,692.85 L560.65,707.75 A64.8,64.8 0 0 0 549.58,711 Z" fill="#e2eff0"/>
<path d="M543.47,695.45 A81.51,81.51 0 0 1 557.39,691.36 L557.68,692.85 A79.99,79.99 0 0 0 544.02,696.86 Z" fill="#3b78c0"/>
<path d="M543.23,694.84 A82.16,82.16 0 0 1 557.26,690.72 L557.39,691.36 A81.51,81.51 0 0 0 543.47,695.45 Z" fill="#e8902a"/>
<path d="M541.64,690.8 A86.5,86.5 0 0 1 556.41,686.46 L557.26,690.72 A82.16,82.16 0 0 0 543.23,694.84 Z" fill="#f3e1b5"/>
<path d="M560.67,703.54 A68.92,68.92 0 0 1 572.88,702.38 L572.9,706.5 A64.8,64.8 0 0 0 561.43,707.6 Z" fill="#3b78c0"/>
<path d="M558.96,694.37 A78.25,78.25 0 0 1 572.82,693.05 L572.88,702.38 A68.92,68.92 0 0 0 560.67,703.54 Z" fill="#e8902a"/>
<path d="M557.45,686.26 A86.5,86.5 0 0 1 572.77,684.8 L572.82,693.05 A78.25,78.25 0 0 0 558.96,694.37 Z" fill="#f3e1b5"/>
<path d="M573.64,716.13 A55.17,55.17 0 0 1 583.41,717.06 L581,730.01 A42,42 0 0 0 573.56,729.3 Z" fill="#e2eff0"/>
<path d="M573.65,713.8 A57.5,57.5 0 0 1 583.84,714.77 L583.41,717.06 A55.17,55.17 0 0 0 573.64,716.13 Z" fill="#f3e1b5"/>
<path d="M583.92,717.95 A54.4,54.4 0 0 1 593.21,720.67 L588.67,732.21 A42,42 0 0 0 581.5,730.11 Z" fill="#e2eff0"/>
<path d="M584.07,717.19 A55.17,55.17 0 0 1 593.49,719.95 L593.21,720.67 A54.4,54.4 0 0 0 583.92,717.95 Z" fill="#e8902a"/>
<path d="M584.53,714.91 A57.5,57.5 0 0 1 594.34,717.79 L593.49,719.95 A55.17,55.17 0 0 0 584.07,717.19 Z" fill="#f3e1b5"/>
<path d="M593.83,720.92 A54.4,54.4 0 0 1 602.43,725.36 L595.79,735.83 A42,42 0 0 0 589.15,732.4 Z" fill="#e2eff0"/>
<path d="M594.12,720.2 A55.17,55.17 0 0 1 602.85,724.7 L602.43,725.36 A54.4,54.4 0 0 0 593.83,720.92 Z" fill="#e8902a"/>
<path d="M595,718.05 A57.5,57.5 0 0 1 604.09,722.74 L602.85,724.7 A55.17,55.17 0 0 0 594.12,720.2 Z" fill="#f3e1b5"/>
<path d="M603.41,725.07 A55.17,55.17 0 0 1 611.13,731.14 L602.1,740.73 A42,42 0 0 0 596.22,736.11 Z" fill="#e2eff0"/>
<path d="M604.68,723.12 A57.5,57.5 0 0 1 612.72,729.44 L611.13,731.14 A55.17,55.17 0 0 0 603.41,725.07 Z" fill="#f3e1b5"/>
<path d="M618.44,739.57 A55.17,55.17 0 0 1 623.35,748.07 L611.4,753.62 A42,42 0 0 0 607.66,747.15 Z" fill="#e2eff0"/>
<path d="M619.45,738.86 A56.41,56.41 0 0 1 624.47,747.55 L623.35,748.07 A55.17,55.17 0 0 0 618.44,739.57 Z" fill="#e8902a"/>
<path d="M620.34,738.23 A57.5,57.5 0 0 1 625.46,747.09 L624.47,747.55 A56.41,56.41 0 0 0 619.45,738.86 Z" fill="#f3e1b5"/>
<path d="M627,758.62 A55.17,55.17 0 0 1 628.4,768.34 L615.24,769.05 A42,42 0 0 0 614.18,761.65 Z" fill="#e2eff0"/>
<path d="M627.75,758.44 A55.95,55.95 0 0 1 629.17,768.3 L628.4,768.34 A55.17,55.17 0 0 0 627,758.62 Z" fill="#e8902a"/>
<path d="M629.26,758.09 A57.5,57.5 0 0 1 630.72,768.21 L629.17,768.3 A55.95,55.95 0 0 0 627.75,758.44 Z" fill="#f3e1b5"/>
<path d="M629.2,768.98 A55.95,55.95 0 0 1 628.73,778.92 L614.91,777.02 A42,42 0 0 0 615.26,769.56 Z" fill="#e2eff0"/>
<path d="M630.75,768.91 A57.5,57.5 0 0 1 630.26,779.14 L628.73,778.92 A55.95,55.95 0 0 0 629.2,768.98 Z" fill="#f3e1b5"/>
<path d="M627.86,779.49 A55.17,55.17 0 0 1 625.55,789.03 L613.07,784.79 A42,42 0 0 0 614.84,777.53 Z" fill="#e2eff0"/>
<path d="M628.63,779.6 A55.95,55.95 0 0 1 626.28,789.28 L625.55,789.03 A55.17,55.17 0 0 0 627.86,779.49 Z" fill="#e8902a"/>
<path d="M630.16,779.83 A57.5,57.5 0 0 1 627.75,789.77 L626.28,789.28 A55.95,55.95 0 0 0 628.63,779.6 Z" fill="#f3e1b5"/>
<path d="M621.31,799.41 A55.64,55.64 0 0 1 615.57,807.48 L605.21,798.61 A42,42 0 0 0 609.54,792.52 Z" fill="#e2eff0"/>
<path d="M622.92,800.35 A57.5,57.5 0 0 1 616.98,808.69 L615.57,807.48 A55.64,55.64 0 0 0 621.31,799.41 Z" fill="#f3e1b5"/>
<path d="M614.78,807.69 A55.17,55.17 0 0 1 607.67,814.46 L599.46,804.16 A42,42 0 0 0 604.87,799 Z" fill="#e2eff0"/>
<path d="M615.36,808.2 A55.95,55.95 0 0 1 608.15,815.07 L607.67,814.46 A55.17,55.17 0 0 0 614.78,807.69 Z" fill="#3b78c0"/>
<path d="M616.52,809.22 A57.5,57.5 0 0 1 609.12,816.28 L608.15,815.07 A55.95,55.95 0 0 0 615.36,808.2 Z" fill="#f3e1b5"/>
<path d="M606.67,814.27 A54.4,54.4 0 0 1 598.52,819.5 L592.77,808.51 A42,42 0 0 0 599.06,804.47 Z" fill="#e2eff0"/>
<path d="M607.62,815.49 A55.95,55.95 0 0 1 599.24,820.87 L598.52,819.5 A54.4,54.4 0 0 0 606.67,814.27 Z" fill="#e8902a"/>
<path d="M608.57,816.71 A57.5,57.5 0 0 1 599.96,822.25 L599.24,820.87 A55.95,55.95 0 0 0 607.62,815.49 Z" fill="#f3e1b5"/>
<path d="M578.21,826.26 A55.17,55.17 0 0 1 568.39,826.26 L569.56,813.13 A42,42 0 0 0 577.04,813.13 Z" fill="#e2eff0"/>
<path d="M578.42,828.57 A57.5,57.5 0 0 1 568.18,828.57 L568.39,826.26 A55.17,55.17 0 0 0 578.21,826.26 Z" fill="#f3e1b5"/>
<path d="M567.72,826.19 A55.17,55.17 0 0 1 558.08,824.33 L561.71,811.67 A42,42 0 0 0 569.05,813.08 Z" fill="#e2eff0"/>
<path d="M567.48,828.51 A57.5,57.5 0 0 1 557.44,826.57 L558.08,824.33 A55.17,55.17 0 0 0 567.72,826.19 Z" fill="#f3e1b5"/>
<path d="M547.72,820.19 A55.17,55.17 0 0 1 539.46,814.88 L547.54,804.47 A42,42 0 0 0 553.83,808.51 Z" fill="#e2eff0"/>
<path d="M546.64,822.25 A57.5,57.5 0 0 1 538.03,816.71 L539.46,814.88 A55.17,55.17 0 0 0 547.72,820.19 Z" fill="#f3e1b5"/>
<path d="M519.75,768.42 A53.62,53.62 0 0 1 521.11,758.98 L532.42,761.65 A42,42 0 0 0 531.36,769.05 Z" fill="#e2eff0"/>
<path d="M518.98,768.38 A54.4,54.4 0 0 1 520.36,758.8 L521.11,758.98 A53.62,53.62 0 0 0 519.75,768.42 Z" fill="#e8902a"/>
<path d="M515.88,768.21 A57.5,57.5 0 0 1 517.34,758.09 L520.36,758.8 A54.4,54.4 0 0 0 518.98,768.38 Z" fill="#f3e1b5"/>
<path d="M521.26,758.34 A53.62,53.62 0 0 1 524.39,749.32 L534.99,754.09 A42,42 0 0 0 532.55,761.15 Z" fill="#e2eff0"/>
<path d="M520.51,758.15 A54.4,54.4 0 0 1 523.68,749 L524.39,749.32 A53.62,53.62 0 0 0 521.26,758.34 Z" fill="#e8902a"/>
<path d="M517.5,757.4 A57.5,57.5 0 0 1 520.85,747.73 L523.68,749 A54.4,54.4 0 0 0 520.51,758.15 Z" fill="#f3e1b5"/>
<path d="M531.07,740.83 A52.08,52.08 0 0 1 537.13,733.83 L544.13,741.08 A42,42 0 0 0 539.24,746.73 Z" fill="#e2eff0"/>
<path d="M530.44,740.38 A52.85,52.85 0 0 1 536.6,733.27 L537.13,733.83 A52.08,52.08 0 0 0 531.07,740.83 Z" fill="#3b78c0"/>
<path d="M529.18,739.47 A54.4,54.4 0 0 1 535.52,732.16 L536.6,733.27 A52.85,52.85 0 0 0 530.44,740.38 Z" fill="#e8902a"/>
<path d="M526.67,737.66 A57.5,57.5 0 0 1 533.37,729.93 L535.52,732.16 A54.4,54.4 0 0 0 529.18,739.47 Z" fill="#f3e1b5"/>
<path d="M535.47,731.14 A55.17,55.17 0 0 1 543.19,725.07 L550.38,736.11 A42,42 0 0 0 544.5,740.73 Z" fill="#e2eff0"/>
<path d="M533.88,729.44 A57.5,57.5 0 0 1 541.92,723.12 L543.19,725.07 A55.17,55.17 0 0 0 535.47,731.14 Z" fill="#f3e1b5"/>
<path d="M543.75,724.7 A55.17,55.17 0 0 1 552.48,720.2 L557.45,732.4 A42,42 0 0 0 550.81,735.83 Z" fill="#e2eff0"/>
<path d="M542.51,722.74 A57.5,57.5 0 0 1 551.6,718.05 L552.48,720.2 A55.17,55.17 0 0 0 543.75,724.7 Z" fill="#f3e1b5"/>
<path d="M580.36,735.85 A36.15,36.15 0 0 1 586.53,737.66 L584.28,743.38 A30,30 0 0 0 579.16,741.88 Z" fill="#e2eff0"/>
<path d="M580.44,735.44 A36.56,36.56 0 0 1 586.68,737.28 L586.53,737.66 A36.15,36.15 0 0 0 580.36,735.85 Z" fill="#e8902a"/>
<path d="M580.76,733.84 A38.2,38.2 0 0 1 587.28,735.75 L586.68,737.28 A36.56,36.56 0 0 0 580.44,735.44 Z" fill="#f3e1b5"/>
<path d="M586.94,737.82 A36.15,36.15 0 0 1 592.66,740.77 L589.36,745.96 A30,30 0 0 0 584.62,743.52 Z" fill="#e2eff0"/>
<path d="M587.1,737.44 A36.56,36.56 0 0 1 592.88,740.42 L592.66,740.77 A36.15,36.15 0 0 0 586.94,737.82 Z" fill="#e8902a"/>
<path d="M587.71,735.92 A38.2,38.2 0 0 1 593.76,739.04 L592.88,740.42 A36.56,36.56 0 0 0 587.1,737.44 Z" fill="#f3e1b5"/>
<path d="M593.25,740.67 A36.56,36.56 0 0 1 598.37,744.69 L593.87,749.46 A30,30 0 0 0 589.67,746.16 Z" fill="#e2eff0"/>
<path d="M594.15,739.29 A38.2,38.2 0 0 1 599.49,743.49 L598.37,744.69 A36.56,36.56 0 0 0 593.25,740.67 Z" fill="#f3e1b5"/>
<path d="M600.53,752.16 A33.28,33.28 0 0 1 603.49,757.29 L600.51,758.67 A30,30 0 0 0 597.84,754.05 Z" fill="#e2eff0"/>
<path d="M602.2,750.98 A35.33,35.33 0 0 1 605.35,756.43 L603.49,757.29 A33.28,33.28 0 0 0 600.53,752.16 Z" fill="#e8902a"/>
<path d="M604.55,749.33 A38.2,38.2 0 0 1 607.95,755.22 L605.35,756.43 A35.33,35.33 0 0 0 602.2,750.98 Z" fill="#f3e1b5"/>
<path d="M604.03,757.49 A33.69,33.69 0 0 1 605.99,763.16 L602.41,764.05 A30,30 0 0 0 600.66,759 Z" fill="#e2eff0"/>
<path d="M605.53,756.82 A35.33,35.33 0 0 1 607.58,762.76 L605.99,763.16 A33.69,33.69 0 0 0 604.03,757.49 Z" fill="#e8902a"/>
<path d="M608.14,755.64 A38.2,38.2 0 0 1 610.37,762.07 L607.58,762.76 A35.33,35.33 0 0 0 605.53,756.82 Z" fill="#f3e1b5"/>
<path d="M608.88,762.9 A36.56,36.56 0 0 1 609.81,769.34 L603.26,769.69 A30,30 0 0 0 602.5,764.41 Z" fill="#e2eff0"/>
<path d="M609.28,762.8 A36.97,36.97 0 0 1 610.22,769.32 L609.81,769.34 A36.56,36.56 0 0 0 608.88,762.9 Z" fill="#e8902a"/>
<path d="M610.48,762.52 A38.2,38.2 0 0 1 611.44,769.25 L610.22,769.32 A36.97,36.97 0 0 0 609.28,762.8 Z" fill="#f3e1b5"/>
<path d="M609.83,769.78 A36.56,36.56 0 0 1 609.52,776.28 L603.02,775.39 A30,30 0 0 0 603.27,770.06 Z" fill="#e2eff0"/>
<path d="M611.47,769.72 A38.2,38.2 0 0 1 611.14,776.51 L609.52,776.28 A36.56,36.56 0 0 0 609.83,769.78 Z" fill="#f3e1b5"/>
<path d="M609.46,776.72 A36.56,36.56 0 0 1 607.92,783.05 L601.71,780.94 A30,30 0 0 0 602.97,775.75 Z" fill="#e2eff0"/>
<path d="M611.08,776.97 A38.2,38.2 0 0 1 609.47,783.57 L607.92,783.05 A36.56,36.56 0 0 0 609.46,776.72 Z" fill="#f3e1b5"/>
<path d="M605.2,789.98 A36.97,36.97 0 0 1 601.39,795.34 L596.09,790.81 A30,30 0 0 0 599.19,786.46 Z" fill="#e2eff0"/>
<path d="M606.26,790.6 A38.2,38.2 0 0 1 602.32,796.14 L601.39,795.34 A36.97,36.97 0 0 0 605.2,789.98 Z" fill="#f3e1b5"/>
<path d="M590.04,804.26 A36.97,36.97 0 0 1 583.93,806.71 L581.93,800.03 A30,30 0 0 0 586.88,798.05 Z" fill="#e2eff0"/>
<path d="M590.23,804.63 A37.38,37.38 0 0 1 584.05,807.1 L583.93,806.71 A36.97,36.97 0 0 0 590.04,804.26 Z" fill="#3b78c0"/>
<path d="M590.6,805.36 A38.2,38.2 0 0 1 584.29,807.89 L584.05,807.1 A37.38,37.38 0 0 0 590.23,804.63 Z" fill="#f3e1b5"/>
<path d="M583.16,805.65 A35.74,35.74 0 0 1 576.91,806.86 L576.33,801.15 A30,30 0 0 0 581.58,800.14 Z" fill="#e2eff0"/>
<path d="M583.43,806.6 A36.72,36.72 0 0 1 577.01,807.84 L576.91,806.86 A35.74,35.74 0 0 0 583.16,805.65 Z" fill="#e8902a"/>
<path d="M583.84,808.02 A38.2,38.2 0 0 1 577.16,809.3 L577.01,807.84 A36.72,36.72 0 0 0 583.43,806.6 Z" fill="#f3e1b5"/>
<path d="M576.55,807.72 A36.56,36.56 0 0 1 570.05,807.72 L570.63,801.18 A30,30 0 0 0 575.97,801.18 Z" fill="#e2eff0"/>
<path d="M576.59,808.12 A36.97,36.97 0 0 1 570.01,808.12 L570.05,807.72 A36.56,36.56 0 0 0 576.55,807.72 Z" fill="#e8902a"/>
<path d="M576.7,809.35 A38.2,38.2 0 0 1 569.9,809.35 L570.01,808.12 A36.97,36.97 0 0 0 576.59,808.12 Z" fill="#f3e1b5"/>
<path d="M569.6,807.67 A36.56,36.56 0 0 1 563.21,806.44 L565.02,800.14 A30,30 0 0 0 570.27,801.15 Z" fill="#e2eff0"/>
<path d="M569.56,808.08 A36.97,36.97 0 0 1 563.1,806.84 L563.21,806.44 A36.56,36.56 0 0 0 569.6,807.67 Z" fill="#e8902a"/>
<path d="M569.44,809.3 A38.2,38.2 0 0 1 562.76,808.02 L563.1,806.84 A36.97,36.97 0 0 0 569.56,808.08 Z" fill="#f3e1b5"/>
<path d="M556.73,802.97 A35.74,35.74 0 0 1 551.38,799.53 L554.9,794.99 A30,30 0 0 0 559.39,797.88 Z" fill="#e2eff0"/>
<path d="M556.35,803.69 A36.56,36.56 0 0 1 550.88,800.18 L551.38,799.53 A35.74,35.74 0 0 0 556.73,802.97 Z" fill="#e8902a"/>
<path d="M555.59,805.15 A38.2,38.2 0 0 1 549.87,801.47 L550.88,800.18 A36.56,36.56 0 0 0 556.35,803.69 Z" fill="#f3e1b5"/>
<path d="M551.04,799.26 A35.74,35.74 0 0 1 546.43,794.87 L550.75,791.08 A30,30 0 0 0 554.61,794.77 Z" fill="#e2eff0"/>
<path d="M550.52,799.9 A36.56,36.56 0 0 1 545.82,795.41 L546.43,794.87 A35.74,35.74 0 0 0 551.04,799.26 Z" fill="#e8902a"/>
<path d="M549.5,801.18 A38.2,38.2 0 0 1 544.58,796.49 L545.82,795.41 A36.56,36.56 0 0 0 550.52,799.9 Z" fill="#f3e1b5"/>
<path d="M540.23,782.52 A34.92,34.92 0 0 1 538.77,776.48 L543.63,775.75 A30,30 0 0 0 544.89,780.94 Z" fill="#e2eff0"/>
<path d="M539.07,782.91 A36.15,36.15 0 0 1 537.55,776.66 L538.77,776.48 A34.92,34.92 0 0 0 540.23,782.52 Z" fill="#e8902a"/>
<path d="M537.13,783.57 A38.2,38.2 0 0 1 535.52,776.97 L537.55,776.66 A36.15,36.15 0 0 0 539.07,782.91 Z" fill="#f3e1b5"/>
<path d="M538.71,776.06 A34.92,34.92 0 0 1 538.41,769.85 L543.33,770.06 A30,30 0 0 0 543.58,775.39 Z" fill="#e2eff0"/>
<path d="M537.89,776.17 A35.74,35.74 0 0 1 537.59,769.82 L538.41,769.85 A34.92,34.92 0 0 0 538.71,776.06 Z" fill="#e8902a"/>
<path d="M535.46,776.51 A38.2,38.2 0 0 1 535.13,769.72 L537.59,769.82 A35.74,35.74 0 0 0 537.89,776.17 Z" fill="#f3e1b5"/>
<path d="M540.07,769.51 A33.28,33.28 0 0 1 540.91,763.65 L544.1,764.41 A30,30 0 0 0 543.34,769.69 Z" fill="#e2eff0"/>
<path d="M539.66,769.49 A33.69,33.69 0 0 1 540.51,763.56 L540.91,763.65 A33.28,33.28 0 0 0 540.07,769.51 Z" fill="#3b78c0"/>
<path d="M538.84,769.45 A34.51,34.51 0 0 1 539.71,763.37 L540.51,763.56 A33.69,33.69 0 0 0 539.66,769.49 Z" fill="#e8902a"/>
<path d="M535.16,769.25 A38.2,38.2 0 0 1 536.12,762.52 L539.71,763.37 A34.51,34.51 0 0 0 538.84,769.45 Z" fill="#f3e1b5"/>
<path d="M541.8,763.45 A32.46,32.46 0 0 1 543.69,758 L545.94,759 A30,30 0 0 0 544.19,764.05 Z" fill="#e2eff0"/>
<path d="M540.21,763.06 A34.1,34.1 0 0 1 542.2,757.32 L543.69,758 A32.46,32.46 0 0 0 541.8,763.45 Z" fill="#e8902a"/>
<path d="M536.23,762.07 A38.2,38.2 0 0 1 538.46,755.64 L542.2,757.32 A34.1,34.1 0 0 0 540.21,763.06 Z" fill="#f3e1b5"/>
<path d="M544.6,757.98 A31.64,31.64 0 0 1 547.42,753.1 L548.76,754.05 A30,30 0 0 0 546.09,758.67 Z" fill="#e2eff0"/>
<path d="M542.37,756.95 A34.1,34.1 0 0 1 545.4,751.69 L547.42,753.1 A31.64,31.64 0 0 0 544.6,757.98 Z" fill="#e8902a"/>
<path d="M538.65,755.22 A38.2,38.2 0 0 1 542.05,749.33 L545.4,751.69 A34.1,34.1 0 0 0 542.37,756.95 Z" fill="#f3e1b5"/>
<path d="M545.98,751.59 A33.69,33.69 0 0 1 549.9,747.06 L552.47,749.71 A30,30 0 0 0 548.97,753.75 Z" fill="#e2eff0"/>
<path d="M545.31,751.11 A34.51,34.51 0 0 1 549.33,746.47 L549.9,747.06 A33.69,33.69 0 0 0 545.98,751.59 Z" fill="#3b78c0"/>
<path d="M542.32,748.95 A38.2,38.2 0 0 1 546.77,743.81 L549.33,746.47 A34.51,34.51 0 0 0 545.31,751.11 Z" fill="#f3e1b5"/>
<path d="M556.58,744.93 A31.23,31.23 0 0 1 561.52,742.38 L561.98,743.52 A30,30 0 0 0 557.24,745.96 Z" fill="#e2eff0"/>
<path d="M555.92,743.89 A32.46,32.46 0 0 1 561.05,741.24 L561.52,742.38 A31.23,31.23 0 0 0 556.58,744.93 Z" fill="#3b78c0"/>
<path d="M552.84,739.04 A38.2,38.2 0 0 1 558.89,735.92 L561.05,741.24 A32.46,32.46 0 0 0 555.92,743.89 Z" fill="#f3e1b5"/>
<path d="M577.94,748.01 A23.75,23.75 0 0 1 581.99,749.2 L580.07,754.08 A18.5,18.5 0 0 0 576.91,753.16 Z" fill="#e2eff0"/>
<path d="M578.08,747.27 A24.5,24.5 0 0 1 582.27,748.5 L581.99,749.2 A23.75,23.75 0 0 0 577.94,748.01 Z" fill="#e8902a"/>
<path d="M578.38,745.8 A26,26 0 0 1 582.82,747.1 L582.27,748.5 A24.5,24.5 0 0 0 578.08,747.27 Z" fill="#f3e1b5"/>
<path d="M582.26,749.31 A23.75,23.75 0 0 1 586.02,751.24 L583.21,755.68 A18.5,18.5 0 0 0 580.28,754.17 Z" fill="#e2eff0"/>
<path d="M582.54,748.61 A24.5,24.5 0 0 1 586.42,750.61 L586.02,751.24 A23.75,23.75 0 0 0 582.26,749.31 Z" fill="#e8902a"/>
<path d="M583.11,747.22 A26,26 0 0 1 587.22,749.34 L586.42,750.61 A24.5,24.5 0 0 0 582.54,748.61 Z" fill="#f3e1b5"/>
<path d="M592.12,758.07 A23,23 0 0 1 594.16,761.62 L590.08,763.51 A18.5,18.5 0 0 0 588.43,760.66 Z" fill="#e2eff0"/>
<path d="M593.96,756.78 A25.25,25.25 0 0 1 596.2,760.67 L594.16,761.62 A23,23 0 0 0 592.12,758.07 Z" fill="#e8902a"/>
<path d="M594.57,756.35 A26,26 0 0 1 596.88,760.35 L596.2,760.67 A25.25,25.25 0 0 0 593.96,756.78 Z" fill="#f3e1b5"/>
<path d="M597.9,774.99 A24.88,24.88 0 0 1 596.86,779.29 L590.82,777.24 A18.5,18.5 0 0 0 591.6,774.04 Z" fill="#e2eff0"/>
<path d="M599.01,775.16 A26,26 0 0 1 597.92,779.65 L596.86,779.29 A24.88,24.88 0 0 0 597.9,774.99 Z" fill="#f3e1b5"/>
<path d="M584.56,793.48 A24.88,24.88 0 0 1 580.45,795.12 L578.62,789.02 A18.5,18.5 0 0 0 581.68,787.79 Z" fill="#e2eff0"/>
<path d="M584.73,793.81 A25.25,25.25 0 0 1 580.56,795.48 L580.45,795.12 A24.88,24.88 0 0 0 584.56,793.48 Z" fill="#e8902a"/>
<path d="M585.07,794.48 A26,26 0 0 1 580.78,796.2 L580.56,795.48 A25.25,25.25 0 0 0 584.73,793.81 Z" fill="#f3e1b5"/>
<path d="M575.48,795.7 A24.5,24.5 0 0 1 571.12,795.7 L571.65,789.73 A18.5,18.5 0 0 0 574.95,789.73 Z" fill="#e2eff0"/>
<path d="M575.61,797.2 A26,26 0 0 1 570.99,797.2 L571.12,795.7 A24.5,24.5 0 0 0 575.48,795.7 Z" fill="#f3e1b5"/>
<path d="M570.82,795.67 A24.5,24.5 0 0 1 566.54,794.85 L568.2,789.08 A18.5,18.5 0 0 0 571.43,789.71 Z" fill="#e2eff0"/>
<path d="M570.67,797.17 A26,26 0 0 1 566.13,796.29 L566.54,794.85 A24.5,24.5 0 0 0 570.82,795.67 Z" fill="#f3e1b5"/>
<path d="M561.77,793.34 A24.88,24.88 0 0 1 558.04,790.95 L561.95,785.91 A18.5,18.5 0 0 0 564.72,787.69 Z" fill="#e2eff0"/>
<path d="M561.25,794.34 A26,26 0 0 1 557.35,791.84 L558.04,790.95 A24.88,24.88 0 0 0 561.77,793.34 Z" fill="#f3e1b5"/>
<path d="M550.51,774.43 A23,23 0 0 1 550.32,770.35 L554.82,770.53 A18.5,18.5 0 0 0 554.97,773.82 Z" fill="#e2eff0"/>
<path d="M549.03,774.64 A24.5,24.5 0 0 1 548.82,770.28 L550.32,770.35 A23,23 0 0 0 550.51,774.43 Z" fill="#e8902a"/>
<path d="M547.54,774.84 A26,26 0 0 1 547.32,770.22 L548.82,770.28 A24.5,24.5 0 0 0 549.03,774.64 Z" fill="#f3e1b5"/>
<path d="M550.33,770.07 A23,23 0 0 1 550.92,766.01 L555.3,767.05 A18.5,18.5 0 0 0 554.83,770.31 Z" fill="#e2eff0"/>
<path d="M548.84,769.98 A24.5,24.5 0 0 1 549.46,765.67 L550.92,766.01 A23,23 0 0 0 550.33,770.07 Z" fill="#e8902a"/>
<path d="M547.34,769.9 A26,26 0 0 1 548,765.32 L549.46,765.67 A24.5,24.5 0 0 0 548.84,769.98 Z" fill="#f3e1b5"/>
<path d="M551.71,765.92 A22.25,22.25 0 0 1 553,762.18 L556.43,763.72 A18.5,18.5 0 0 0 555.35,766.83 Z" fill="#e2eff0"/>
<path d="M549.89,765.47 A24.12,24.12 0 0 1 551.29,761.41 L553,762.18 A22.25,22.25 0 0 0 551.71,765.92 Z" fill="#e8902a"/>
<path d="M548.07,765.02 A26,26 0 0 1 549.58,760.64 L551.29,761.41 A24.12,24.12 0 0 0 549.89,765.47 Z" fill="#f3e1b5"/>
<path d="M555.25,758.28 A22.25,22.25 0 0 1 557.85,755.29 L560.45,757.99 A18.5,18.5 0 0 0 558.3,760.48 Z" fill="#e2eff0"/>
<path d="M554.04,757.41 A23.75,23.75 0 0 1 556.81,754.21 L557.85,755.29 A22.25,22.25 0 0 0 555.25,758.28 Z" fill="#3b78c0"/>
<path d="M552.21,756.09 A26,26 0 0 1 555.24,752.59 L556.81,754.21 A23.75,23.75 0 0 0 554.04,757.41 Z" fill="#f3e1b5"/>
<path d="M560.98,751.88 A23,23 0 0 1 564.62,750 L566.32,754.17 A18.5,18.5 0 0 0 563.39,755.68 Z" fill="#e2eff0"/>
<path d="M560.58,751.24 A23.75,23.75 0 0 1 564.34,749.31 L564.62,750 A23,23 0 0 0 560.98,751.88 Z" fill="#3b78c0"/>
<path d="M559.38,749.34 A26,26 0 0 1 563.49,747.22 L564.34,749.31 A23.75,23.75 0 0 0 560.58,751.24 Z" fill="#f3e1b5"/>
<text x="580.6" y="701.4" font-size="7.0" text-anchor="middle" dominant-baseline="central" fill="#1a1a1a">CDS</text>
<text x="574.4" y="728.2" font-size="7.0" text-anchor="middle" dominant-baseline="central" fill="#1a1a1a">Promoters&amp;Splice site</text>
<text x="570.8" y="740.2" font-size="7.0" text-anchor="middle" dominant-baseline="central" fill="#1a1a1a">3UTR</text>
<text x="572.9" y="753.3" font-size="7.0" text-anchor="middle" dominant-baseline="central" fill="#1a1a1a">5UTR</text>
<text x="582.4" y="678.5" font-size="8.3" text-anchor="middle" dominant-baseline="central" fill="#1a1a1a">ACC</text>
<text x="601.5" y="681.9" font-size="8.3" text-anchor="middle" dominant-baseline="central" fill="#1a1a1a">BLCA</text>
<text x="620.5" y="687.5" font-size="8.3" text-anchor="middle" dominant-baseline="central" fill="#1a1a1a">BRCA</text>
<text x="635.1" y="698.2" font-size="8.3" text-anchor="middle" dominant-baseline="central" fill="#1a1a1a">CESC</text>
<text x="649.7" y="710.4" font-size="8.3" text-anchor="middle" dominant-baseline="central" fill="#1a1a1a">CHOL</text>
<text x="661" y="725.2" font-size="8.3" text-anchor="middle" dominant-baseline="central" fill="#1a1a1a">COAD</text>
<text x="668.2" y="741" font-size="8.3" text-anchor="middle" dominant-baseline="central" fill="#1a1a1a">DLBC</text>
<text x="672.5" y="758.9" font-size="8.3" text-anchor="middle" dominant-baseline="central" fill="#1a1a1a">ESCA</text>
<text x="671.3" y="776.8" font-size="8.3" text-anchor="middle" dominant-baseline="central" fill="#1a1a1a">GBM</text>
<text x="670" y="794.1" font-size="8.3" text-anchor="middle" dominant-baseline="central" fill="#1a1a1a">HNSC</text>
<text x="662.8" y="811" font-size="8.3" text-anchor="middle" dominant-baseline="central" fill="#1a1a1a">KICH</text>
<text x="653.4" y="826.6" font-size="8.3" text-anchor="middle" dominant-baseline="central" fill="#1a1a1a">KIRC</text>
<text x="641.3" y="839.7" font-size="8.3" text-anchor="middle" dominant-baseline="central" fill="#1a1a1a">KIRP</text>
<text x="627.1" y="851.6" font-size="8.3" text-anchor="middle" dominant-baseline="central" fill="#1a1a1a">LAML</text>
<text x="611.1" y="860.3" font-size="8.3" text-anchor="middle" dominant-baseline="central" fill="#1a1a1a">LGG</text>
<text x="593.5" y="863.9" font-size="8.3" text-anchor="middle" dominant-baseline="central" fill="#1a1a1a">LIHC</text>
<text x="574.7" y="868.5" font-size="8.3" text-anchor="middle" dominant-baseline="central" fill="#1a1a1a">LUAD</text>
<text x="553.6" y="866" font-size="8.3" text-anchor="middle" dominant-baseline="central" fill="#1a1a1a">LUSC</text>
<text x="532.3" y="860.3" font-size="8.3" text-anchor="middle" dominant-baseline="central" fill="#1a1a1a">MESO</text>
<text x="518" y="851.7" font-size="8.3" text-anchor="middle" dominant-baseline="central" fill="#1a1a1a">OV</text>
<text x="503.7" y="840" font-size="8.3" text-anchor="middle" dominant-baseline="central" fill="#1a1a1a">PAAD</text>
<text x="492" y="826.7" font-size="8.3" text-anchor="middle" dominant-baseline="central" fill="#1a1a1a">PCPG</text>
<text x="482.4" y="811" font-size="8.3" text-anchor="middle" dominant-baseline="central" fill="#1a1a1a">PRAD</text>
<text x="476" y="794.3" font-size="8.3" text-anchor="middle" dominant-baseline="central" fill="#1a1a1a">READ</text>
<text x="473.8" y="776.3" font-size="8.3" text-anchor="middle" dominant-baseline="central" fill="#1a1a1a">SARC</text>
<text x="475.2" y="758.5" font-size="8.3" text-anchor="middle" dominant-baseline="central" fill="#1a1a1a">SKCM</text>
<text x="478.9" y="741.4" font-size="8.3" text-anchor="middle" dominant-baseline="central" fill="#1a1a1a">STAD</text>
<text x="486" y="724.6" font-size="8.3" text-anchor="middle" dominant-baseline="central" fill="#1a1a1a">TGCT</text>
<text x="496.1" y="710" font-size="8.3" text-anchor="middle" dominant-baseline="central" fill="#1a1a1a">THCA</text>
<text x="506.7" y="698" font-size="8.3" text-anchor="middle" dominant-baseline="central" fill="#1a1a1a">THYM</text>
<text x="522.8" y="688" font-size="8.3" text-anchor="middle" dominant-baseline="central" fill="#1a1a1a">UCEC</text>
<text x="542.8" y="682.2" font-size="8.3" text-anchor="middle" dominant-baseline="central" fill="#1a1a1a">UCS</text>
<text x="562.5" y="678.5" font-size="8.3" text-anchor="middle" dominant-baseline="central" fill="#1a1a1a">UVM</text>
<rect x="468.4" y="880.9" width="13.5" height="12.4" fill="#f3e1b5"/>
<rect x="468.4" y="895.2" width="13.5" height="11.8" fill="#e8902a"/>
<rect x="582.6" y="880.9" width="12.8" height="12.4" fill="#3b78c0"/>
<rect x="582.6" y="895.2" width="12.8" height="11.8" fill="#e2eff0"/>
<text x="485.2" y="887.6" font-size="7.3" text-anchor="start" dominant-baseline="central" fill="#1a1a1a">ActiveDriverWGS &amp; geMER</text>
<text x="485.2" y="901.2" font-size="7.3" text-anchor="start" dominant-baseline="central" fill="#1a1a1a">Driverpower &amp; geMER</text>
<text x="597.7" y="887.6" font-size="7.3" text-anchor="start" dominant-baseline="central" fill="#1a1a1a">OncodriveFML &amp; geMER</text>
<text x="597.7" y="901.2" font-size="7.3" text-anchor="start" dominant-baseline="central" fill="#1a1a1a">geMER</text>
<rect x="657" y="195" width="19" height="2" fill="#d0f6ff"/>
<rect x="680" y="183.5" width="1.5" height="1.5" fill="#a8f0ff"/></svg>
</body></html>
